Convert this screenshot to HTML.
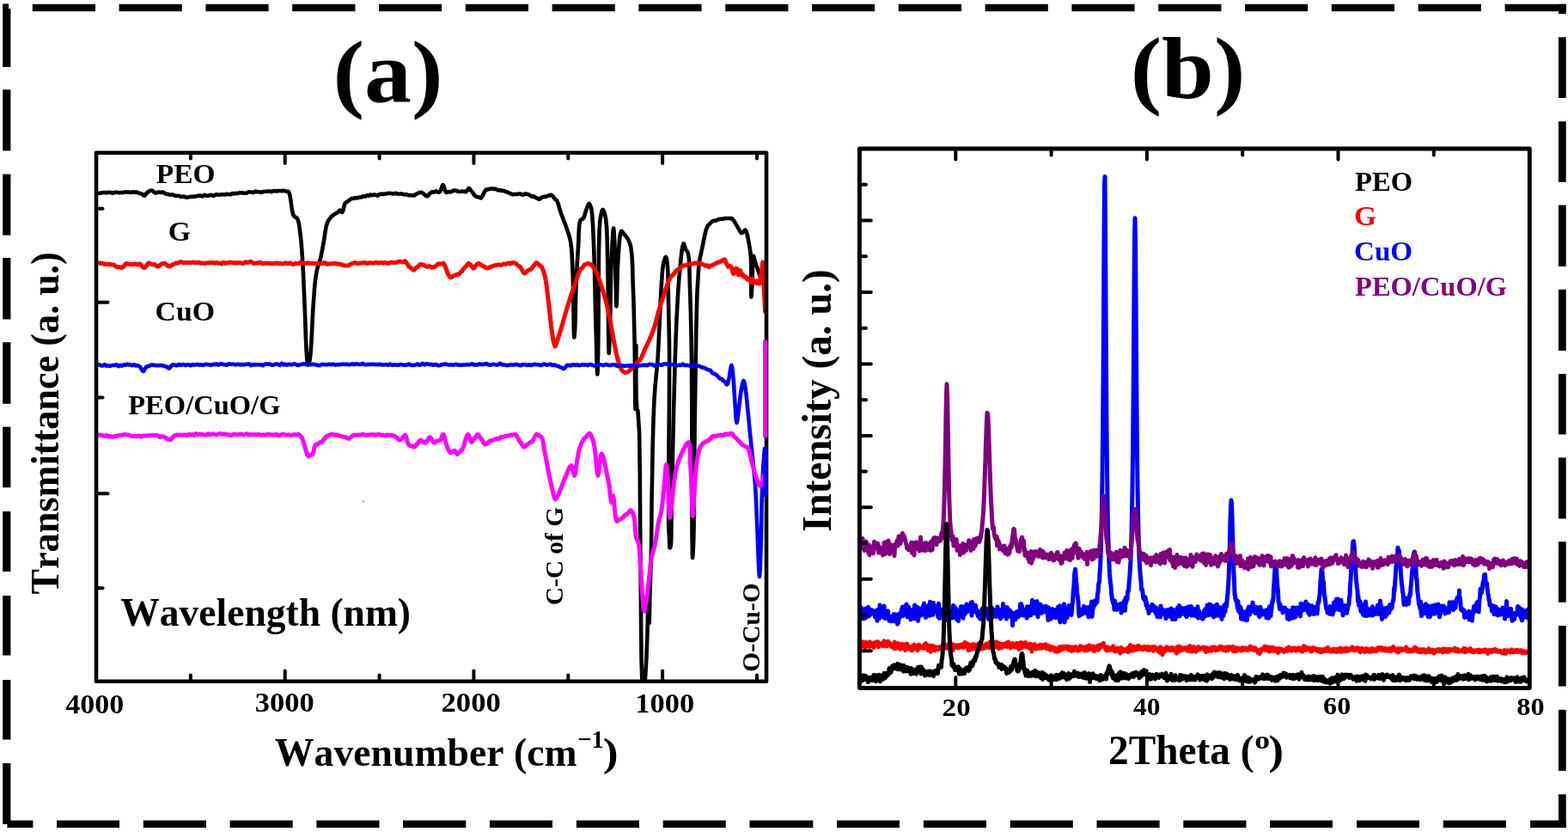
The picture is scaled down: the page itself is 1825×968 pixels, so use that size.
<!DOCTYPE html>
<html><head><meta charset="utf-8"><title>FTIR and XRD</title>
<style>html,body{margin:0;padding:0;background:#fff;width:1825px;height:968px;overflow:hidden}svg{display:block}</style>
</head><body>
<svg width="1825" height="968" viewBox="0 0 1825 968"><g fill="#000"><rect x="37.8" y="4.8" width="73.2" height="8.4"/><rect x="138.6" y="4.8" width="73.2" height="8.4"/><rect x="239.4" y="4.8" width="73.2" height="8.4"/><rect x="340.2" y="4.8" width="73.2" height="8.4"/><rect x="441.0" y="4.8" width="73.2" height="8.4"/><rect x="541.8" y="4.8" width="73.2" height="8.4"/><rect x="642.6" y="4.8" width="73.2" height="8.4"/><rect x="743.4" y="4.8" width="73.2" height="8.4"/><rect x="844.2" y="4.8" width="73.2" height="8.4"/><rect x="945.0" y="4.8" width="73.2" height="8.4"/><rect x="1045.8" y="4.8" width="73.2" height="8.4"/><rect x="1146.6" y="4.8" width="73.2" height="8.4"/><rect x="1247.4" y="4.8" width="73.2" height="8.4"/><rect x="1348.2" y="4.8" width="73.2" height="8.4"/><rect x="1449.0" y="4.8" width="73.2" height="8.4"/><rect x="1549.8" y="4.8" width="73.2" height="8.4"/><rect x="1650.6" y="4.8" width="73.2" height="8.4"/><rect x="1751.6" y="4.8" width="71.1" height="8.4"/><rect x="1814.0" y="4.8" width="8.7" height="11.4"/><rect x="1813.9" y="43.3" width="8.8" height="70.7"/><rect x="1813.9" y="141.3" width="8.8" height="70.5"/><rect x="1813.9" y="238.6" width="8.8" height="71.4"/><rect x="1813.9" y="336.8" width="8.8" height="71.2"/><rect x="1813.9" y="435.0" width="8.8" height="70.5"/><rect x="1813.9" y="532.4" width="8.8" height="71.1"/><rect x="1813.9" y="630.2" width="8.8" height="70.6"/><rect x="1813.9" y="728.0" width="8.8" height="70.5"/><rect x="1813.9" y="825.8" width="8.8" height="71.0"/><rect x="1813.9" y="924.2" width="8.8" height="38.8"/><rect x="3.2" y="4.4" width="9.2" height="73.6"/><rect x="3.2" y="104.3" width="9.2" height="71.1"/><rect x="3.2" y="202.6" width="9.2" height="71.1"/><rect x="3.2" y="300.0" width="9.2" height="71.5"/><rect x="3.2" y="398.2" width="9.2" height="71.6"/><rect x="3.2" y="496.6" width="9.2" height="70.6"/><rect x="3.2" y="595.0" width="9.2" height="70.0"/><rect x="3.2" y="693.0" width="9.2" height="69.5"/><rect x="3.2" y="791.0" width="9.2" height="69.5"/><rect x="3.2" y="888.0" width="9.2" height="70.8"/><rect x="8.4" y="954.5" width="30.0" height="8.5"/><rect x="66.0" y="954.5" width="73.0" height="8.5"/><rect x="166.8" y="954.5" width="73.2" height="8.5"/><rect x="267.6" y="954.5" width="73.1" height="8.5"/><rect x="368.4" y="954.5" width="73.1" height="8.5"/><rect x="469.0" y="954.5" width="73.3" height="8.5"/><rect x="570.0" y="954.5" width="73.0" height="8.5"/><rect x="670.9" y="954.5" width="73.1" height="8.5"/><rect x="771.7" y="954.5" width="73.1" height="8.5"/><rect x="872.5" y="954.5" width="73.8" height="8.5"/><rect x="974.0" y="954.5" width="73.0" height="8.5"/><rect x="1074.9" y="954.5" width="73.1" height="8.5"/><rect x="1175.7" y="954.5" width="73.1" height="8.5"/><rect x="1276.5" y="954.5" width="73.1" height="8.5"/><rect x="1377.3" y="954.5" width="73.1" height="8.5"/><rect x="1478.0" y="954.5" width="73.0" height="8.5"/><rect x="1579.0" y="954.5" width="73.0" height="8.5"/><rect x="1679.7" y="954.5" width="73.1" height="8.5"/><rect x="1781.0" y="954.5" width="41.6" height="8.5"/></g>
<rect x="10" y="4" width="3" height="6.2" fill="#fff"/>
<defs><clipPath id="ca"><rect x="112" y="177.7" width="780" height="615.1"/></clipPath><clipPath id="cb"><rect x="1000.4" y="173" width="779.9" height="627.5"/></clipPath></defs>
<g clip-path="url(#ca)" fill="none" stroke-linejoin="round" stroke-linecap="round">
<polyline stroke="#000" stroke-width="4.6" points="112.0,224.9 112.5,224.9 113.1,224.8 113.6,224.8 114.2,224.8 114.7,224.8 115.3,224.8 115.8,224.8 116.3,224.8 116.9,224.7 117.4,224.6 118.0,224.5 118.5,224.4 119.0,224.3 119.6,224.2 120.1,224.1 120.7,224.0 121.2,224.0 121.7,224.0 122.3,224.1 122.8,224.1 123.4,224.1 123.9,224.2 124.5,224.2 125.0,224.2 125.5,224.1 126.1,223.9 126.6,223.8 127.1,223.7 127.7,223.8 128.2,223.9 128.8,224.0 129.3,224.2 129.8,224.3 130.4,224.5 130.9,224.7 131.4,224.7 132.0,224.6 132.5,224.3 133.0,224.1 133.6,223.9 134.1,223.8 134.6,223.7 135.2,223.7 135.7,223.8 136.3,223.9 136.8,224.0 137.3,224.2 137.9,224.2 138.4,224.2 138.9,224.1 139.5,224.1 140.0,224.0 140.5,224.0 141.0,224.0 141.5,224.1 142.0,224.1 142.5,224.0 143.0,224.0 143.5,223.9 144.0,223.8 144.5,223.7 145.0,223.5 145.5,223.4 146.0,223.3 146.5,223.3 147.0,223.4 147.5,223.5 148.0,223.6 148.5,223.6 149.0,223.5 149.5,223.5 150.0,223.5 150.5,223.6 151.1,223.8 151.7,224.0 152.2,224.0 152.8,223.9 153.3,223.6 153.8,223.4 154.4,223.3 154.9,223.4 155.5,223.6 156.0,223.8 156.6,223.9 157.2,223.8 157.7,223.6 158.3,223.5 158.8,223.4 159.4,223.6 159.9,223.9 160.4,224.2 161.0,224.5 161.6,224.7 162.2,224.8 162.7,224.9 163.3,225.0 163.9,225.2 164.5,225.4 165.1,225.6 165.7,225.9 166.3,226.4 166.9,227.0 167.4,227.6 168.0,227.8 168.5,227.5 169.0,226.9 169.5,226.2 170.0,225.5 170.5,225.0 171.0,224.5 171.5,224.0 172.0,223.5 172.6,223.1 173.2,222.6 173.8,222.3 174.5,222.0 175.1,221.8 175.8,221.6 176.4,221.5 177.0,221.6 177.5,221.9 178.0,222.3 178.5,222.7 179.0,223.2 179.5,223.6 180.0,224.0 180.5,224.3 181.0,224.5 181.5,224.5 182.0,224.4 182.5,224.2 183.0,224.1 183.5,223.9 184.0,223.7 184.5,223.6 185.0,223.5 185.6,223.6 186.1,223.7 186.7,223.9 187.2,224.0 187.8,223.9 188.4,223.7 188.9,223.5 189.5,223.5 190.1,223.8 190.6,224.2 191.2,224.6 191.8,225.0 192.3,225.2 192.9,225.5 193.4,225.6 194.0,225.8 194.5,225.9 195.1,226.0 195.7,226.1 196.2,226.2 196.8,226.4 197.3,226.5 197.8,226.7 198.4,226.7 199.0,226.7 199.5,226.6 200.1,226.4 200.6,226.4 201.2,226.6 201.7,226.8 202.2,227.1 202.8,227.3 203.3,227.5 203.9,227.7 204.5,227.9 205.0,228.0 205.5,228.0 206.0,227.9 206.5,227.8 207.0,227.8 207.5,227.8 208.0,227.8 208.5,227.9 209.0,228.1 209.5,228.3 210.0,228.7 210.5,229.0 211.0,229.1 211.5,229.0 212.0,228.8 212.5,228.6 213.0,228.5 213.5,228.5 214.0,228.7 214.5,228.9 215.0,229.1 215.5,229.2 216.0,229.4 216.5,229.6 217.0,229.7 217.5,229.7 218.0,229.7 218.5,229.6 219.0,229.5 219.5,229.4 220.1,229.2 220.6,229.1 221.2,229.0 221.7,228.9 222.3,228.9 222.8,228.9 223.4,228.9 224.0,228.9 224.5,228.8 225.1,228.8 225.6,228.7 226.2,228.6 226.7,228.6 227.3,228.5 227.8,228.4 228.4,228.3 228.9,228.3 229.5,228.2 230.0,228.1 230.5,227.9 231.0,227.7 231.5,227.5 232.0,227.4 232.5,227.5 233.0,227.6 233.5,227.8 234.0,227.9 234.5,228.0 235.0,228.2 235.5,228.4 236.0,228.4 236.5,228.1 237.0,227.6 237.5,227.2 238.0,226.9 238.5,226.9 239.0,227.1 239.5,227.3 240.0,227.5 240.5,227.6 241.0,227.7 241.5,227.7 242.0,227.8 242.5,227.7 243.0,227.6 243.5,227.4 244.0,227.3 244.5,227.1 245.0,227.0 245.5,226.8 246.0,226.8 246.5,227.0 247.0,227.4 247.5,227.7 248.0,227.9 248.5,227.8 249.0,227.7 249.5,227.4 250.0,227.2 250.5,226.9 251.0,226.6 251.5,226.3 252.0,226.2 252.5,226.2 253.0,226.3 253.5,226.5 254.0,226.6 254.5,226.7 255.0,226.7 255.5,226.7 256.0,226.7 256.5,226.6 257.0,226.5 257.5,226.3 258.0,226.2 258.5,226.2 259.0,226.2 259.5,226.2 260.0,226.2 260.5,226.2 261.0,226.3 261.5,226.4 262.1,226.4 262.6,226.3 263.1,226.1 263.6,225.9 264.1,225.9 264.6,225.9 265.2,225.9 265.7,226.0 266.2,226.0 266.7,226.1 267.2,226.2 267.7,226.3 268.2,226.2 268.8,226.0 269.3,225.7 269.8,225.3 270.3,225.1 270.8,225.1 271.3,225.2 271.9,225.3 272.4,225.4 272.9,225.3 273.4,225.1 273.9,225.0 274.4,224.9 275.0,224.9 275.5,225.0 276.0,225.0 276.5,225.0 277.0,224.9 277.5,224.6 278.0,224.4 278.6,224.3 279.1,224.2 279.6,224.3 280.1,224.3 280.6,224.4 281.1,224.4 281.7,224.4 282.2,224.4 282.7,224.4 283.2,224.5 283.7,224.6 284.2,224.7 284.8,224.7 285.3,224.8 285.8,224.8 286.3,224.8 286.8,224.7 287.3,224.4 287.8,224.0 288.4,223.7 288.9,223.4 289.4,223.4 289.9,223.4 290.4,223.4 290.9,223.5 291.5,223.5 292.0,223.6 292.5,223.6 293.0,223.7 293.5,223.8 294.1,223.9 294.6,223.9 295.1,223.9 295.7,223.6 296.2,223.2 296.7,222.8 297.2,222.6 297.8,222.6 298.3,222.8 298.8,223.0 299.4,223.2 299.9,223.2 300.4,223.2 301.0,223.2 301.5,223.2 302.0,223.3 302.6,223.5 303.1,223.6 303.6,223.7 304.2,223.7 304.7,223.6 305.2,223.5 305.8,223.3 306.3,223.2 306.8,223.0 307.3,222.9 307.9,222.8 308.4,222.7 308.9,222.8 309.5,222.8 310.0,222.8 310.5,222.7 311.0,222.7 311.5,222.6 312.0,222.5 312.5,222.5 313.0,222.5 313.5,222.4 314.0,222.5 314.5,222.6 315.0,222.9 315.5,223.1 316.0,223.2 316.5,223.0 317.0,222.7 317.5,222.4 318.0,222.2 318.5,222.1 319.0,222.1 319.5,222.1 320.0,222.2 320.5,222.2 321.0,222.3 321.5,222.3 322.0,222.4 322.5,222.3 323.0,222.2 323.5,222.1 324.0,222.0 324.5,222.0 325.0,222.0 325.5,222.0 326.0,222.0 326.6,222.0 327.2,222.1 327.8,222.1 328.4,222.1 329.0,222.1 329.6,222.0 330.2,221.9 330.8,221.9 331.4,222.1 332.0,222.3 332.6,222.5 333.2,222.7 333.8,222.7 334.5,222.7 335.1,222.7 335.6,222.9 336.2,223.6 336.6,224.6 337.0,225.8 337.4,227.3 338.3,232.2 339.2,238.8 340.1,245.2 341.2,249.6 341.6,250.4 342.0,251.0 342.5,251.5 343.0,252.0 343.7,252.6 344.5,253.0 345.4,253.6 346.1,254.5 347.4,258.0 348.3,262.9 349.1,268.6 349.8,274.4 350.6,281.7 351.2,289.5 351.8,297.8 352.3,306.6 353.0,319.2 353.6,332.9 354.2,347.1 354.8,361.2 355.4,376.7 355.9,393.2 356.6,408.0 357.3,418.2 357.6,420.5 357.8,422.4 358.1,423.8 358.5,424.4 358.8,424.2 359.1,423.7 359.5,422.9 359.8,422.0 360.4,419.6 360.9,416.4 361.3,412.6 361.7,408.3 362.5,397.0 363.2,382.6 363.9,367.5 364.7,353.7 365.5,343.6 366.2,333.7 367.2,324.6 368.4,316.5 369.5,311.7 370.9,307.5 372.2,303.5 373.4,299.2 374.4,294.3 375.4,289.3 376.2,284.3 377.1,279.3 377.9,274.1 378.7,268.8 379.6,263.7 380.8,259.5 381.9,257.2 383.2,255.1 384.6,253.4 385.8,252.0 386.4,251.4 387.0,250.9 387.6,250.4 388.2,250.0 388.9,249.6 389.5,249.2 390.1,248.8 390.7,248.4 391.3,248.1 392.0,247.7 392.6,247.4 393.2,247.0 393.8,246.4 394.5,245.6 395.1,244.9 395.7,244.6 396.3,245.0 397.0,245.9 397.6,246.7 398.2,247.0 399.2,245.4 400.0,242.1 400.9,238.4 401.9,236.0 402.5,235.5 403.1,235.2 403.7,234.9 404.4,234.6 405.0,234.2 405.6,233.7 406.2,233.1 406.8,232.7 407.4,232.2 408.1,231.7 408.7,231.3 409.3,231.0 409.8,230.9 410.4,230.9 411.0,231.0 411.5,230.9 412.1,230.8 412.6,230.5 413.2,230.3 413.7,230.1 414.3,230.2 414.8,230.3 415.4,230.4 415.9,230.4 416.5,230.3 417.0,230.0 417.6,229.8 418.1,229.6 418.7,229.5 419.3,229.5 419.8,229.6 420.4,229.5 420.9,229.2 421.5,228.9 422.0,228.5 422.6,228.3 423.1,228.3 423.7,228.5 424.2,228.6 424.8,228.7 425.3,228.4 425.9,228.0 426.4,227.6 427.0,227.4 427.5,227.4 428.1,227.6 428.7,227.8 429.2,227.8 429.7,227.6 430.2,227.2 430.7,226.8 431.3,226.6 431.8,226.7 432.3,226.9 432.8,227.1 433.3,227.2 433.8,227.1 434.4,226.9 434.9,226.7 435.4,226.6 435.9,226.6 436.4,226.7 437.0,226.8 437.5,226.9 438.0,227.1 438.5,227.3 439.0,227.5 439.5,227.6 440.1,227.3 440.6,226.8 441.1,226.3 441.6,225.9 442.1,225.8 442.6,225.8 443.1,225.8 443.7,225.8 444.2,225.8 444.7,225.8 445.2,225.9 445.7,225.9 446.3,225.9 446.8,225.9 447.3,225.8 447.8,225.8 448.3,225.7 448.8,225.5 449.3,225.3 449.9,225.2 450.4,225.1 450.9,225.1 451.4,225.0 451.9,225.0 452.4,224.9 453.0,224.8 453.5,224.8 454.0,224.8 454.5,224.9 455.1,225.0 455.6,225.2 456.1,225.3 456.7,225.4 457.2,225.4 457.7,225.4 458.3,225.4 458.8,225.3 459.3,225.1 459.9,224.9 460.4,224.8 460.9,224.9 461.4,225.1 462.0,225.3 462.5,225.5 463.0,225.5 463.6,225.6 464.1,225.7 464.6,225.7 465.2,225.6 465.7,225.5 466.2,225.4 466.8,225.4 467.3,225.5 467.8,225.6 468.4,225.8 468.9,226.0 469.4,226.1 470.0,226.2 470.5,226.3 471.0,226.4 471.5,226.3 472.1,226.2 472.6,226.1 473.1,226.1 473.7,226.3 474.2,226.6 474.7,227.0 475.2,227.2 475.8,227.2 476.3,227.2 476.8,227.1 477.4,227.1 477.9,227.1 478.4,227.2 479.0,227.2 479.5,227.3 480.0,227.4 480.5,227.5 481.1,227.5 481.6,227.5 482.2,227.3 482.8,226.9 483.4,226.4 484.0,226.0 484.6,225.8 485.2,225.5 485.8,225.3 486.4,225.0 487.0,224.7 487.6,224.4 488.2,224.1 488.8,223.9 489.3,223.8 489.9,223.9 490.4,223.9 491.0,224.1 491.5,224.4 492.1,224.7 492.6,225.2 493.1,225.6 493.7,226.0 494.2,226.5 494.8,227.0 495.3,227.4 495.9,227.7 496.4,228.1 497.0,228.3 497.5,228.3 498.2,227.8 498.9,226.8 499.6,225.7 500.4,224.8 501.1,224.3 501.8,223.8 502.6,223.4 503.3,223.2 503.9,223.2 504.4,223.4 504.9,223.6 505.5,223.6 506.0,223.3 506.6,223.0 507.1,222.6 507.6,222.4 508.2,222.6 508.7,222.9 509.3,223.3 509.8,223.5 510.4,223.6 510.9,223.6 511.5,223.5 512.0,223.2 513.0,221.5 513.9,218.8 514.7,216.3 515.6,215.2 516.5,216.5 517.3,219.3 518.2,222.3 519.2,223.9 519.8,223.9 520.3,223.6 520.9,223.3 521.5,223.1 522.1,223.1 522.6,223.3 523.2,223.4 523.8,223.4 524.4,223.3 525.0,223.1 525.5,222.9 526.1,222.7 526.7,222.4 527.2,222.0 527.8,221.7 528.4,221.5 529.0,221.5 529.5,221.5 530.1,221.7 530.7,221.8 531.3,222.0 531.9,222.2 532.4,222.5 533.0,222.6 533.6,222.8 534.2,222.9 534.8,223.0 535.3,223.0 535.9,222.9 536.5,222.8 537.1,222.7 537.7,222.6 538.2,222.6 538.8,222.7 539.4,222.7 540.0,222.8 540.6,222.9 541.1,223.1 541.7,223.3 542.3,223.2 543.2,222.3 544.2,220.9 545.1,219.5 545.9,218.9 546.5,219.2 547.0,220.0 547.5,220.9 548.1,221.7 548.6,222.3 549.2,222.9 549.7,223.5 550.2,224.2 550.8,225.0 551.3,225.9 551.8,226.8 552.4,227.5 553.0,228.0 553.6,228.4 554.2,228.7 554.8,229.0 555.4,229.1 556.0,229.1 556.7,229.1 557.3,229.2 557.9,229.5 558.5,230.0 559.1,230.3 559.7,230.4 561.1,228.9 562.5,226.0 564.0,223.0 565.4,221.0 566.1,220.6 566.9,220.5 567.6,220.4 568.3,220.3 569.0,220.1 569.8,219.9 570.5,219.7 571.2,219.6 571.7,219.5 572.3,219.5 572.8,219.5 573.3,219.6 573.8,219.6 574.3,219.7 574.8,219.9 575.3,219.9 575.9,219.9 576.4,219.9 576.9,219.9 577.4,220.0 577.9,220.3 578.5,220.7 579.0,221.2 579.5,221.4 580.0,221.4 580.5,221.3 581.0,221.1 581.6,221.1 582.1,221.2 582.6,221.5 583.1,221.8 583.6,221.9 584.1,221.9 584.7,221.9 585.2,221.8 585.7,221.8 586.2,222.0 586.7,222.2 587.2,222.4 587.7,222.7 588.2,222.8 588.7,222.9 589.2,223.0 589.7,223.2 590.2,223.4 590.8,223.7 591.3,224.0 591.8,224.2 592.3,224.4 592.8,224.6 593.3,224.8 593.8,225.0 594.3,225.3 594.8,225.6 595.3,225.9 595.8,226.1 596.3,226.2 596.8,226.2 597.4,226.1 597.9,226.1 598.4,226.1 598.9,226.0 599.5,226.0 600.0,225.9 600.5,225.9 601.0,226.0 601.5,226.0 602.1,226.0 602.6,225.9 603.1,225.7 603.6,225.6 604.2,225.5 604.7,225.5 605.2,225.5 605.7,225.6 606.2,225.7 606.8,226.0 607.3,226.4 607.8,226.7 608.3,226.8 608.9,226.7 609.4,226.4 609.9,226.0 610.4,225.8 610.9,225.7 611.5,225.6 612.0,225.6 612.5,225.6 613.0,225.7 613.6,225.8 614.1,225.9 614.6,226.1 615.1,226.3 615.7,226.6 616.2,226.9 616.8,227.2 617.3,227.6 617.8,228.0 618.4,228.4 618.9,228.7 619.5,228.7 620.0,228.5 620.6,228.3 621.1,228.3 621.7,228.6 622.2,229.0 622.7,229.5 623.3,229.9 623.8,230.1 624.3,230.3 624.9,230.4 625.4,230.6 626.0,231.0 626.5,231.4 627.0,231.8 627.6,231.9 628.3,231.6 629.0,230.9 629.7,230.2 630.5,229.7 631.2,229.4 632.0,229.2 632.7,229.1 633.4,229.0 633.9,228.9 634.4,228.9 634.9,228.9 635.4,228.8 635.9,228.6 636.4,228.4 636.9,228.1 637.4,227.9 637.9,227.7 638.4,227.6 638.9,227.5 639.4,227.4 639.9,227.2 640.4,227.0 640.9,226.8 641.4,226.8 642.0,227.1 642.6,227.5 643.1,228.1 643.7,228.7 644.2,229.4 644.8,230.1 645.4,230.9 645.9,231.5 646.5,232.0 647.1,232.4 647.6,232.9 648.2,233.6 649.3,236.1 650.4,239.5 651.5,243.5 652.7,247.3 654.3,251.7 656.1,256.3 657.9,261.0 659.5,265.5 660.8,269.4 662.1,273.2 663.2,277.1 664.1,281.4 665.0,288.0 665.6,295.1 666.0,302.9 666.4,311.0 666.8,322.6 667.1,335.4 667.3,348.2 667.5,360.0 667.7,370.1 667.8,380.7 668.0,389.1 668.3,392.5 668.5,391.3 668.8,388.3 669.1,384.3 669.3,380.0 669.6,370.5 669.9,358.7 670.1,346.0 670.5,333.6 671.1,320.9 671.7,307.8 672.5,295.1 673.2,283.6 673.5,275.5 673.8,267.6 674.3,260.9 675.5,256.4 676.3,255.5 677.2,255.1 678.1,254.7 678.9,254.0 679.8,252.2 680.6,249.9 681.2,247.4 682.0,245.0 682.9,242.6 683.9,240.0 684.8,237.9 685.7,237.0 686.3,237.5 686.9,238.7 687.5,240.3 688.0,242.0 688.5,244.4 688.9,247.2 689.2,250.4 689.5,254.0 690.1,262.2 690.5,272.0 691.0,283.1 691.4,295.0 692.0,314.5 692.5,336.7 693.0,359.3 693.5,380.0 694.0,397.3 694.4,415.4 694.9,429.7 695.3,435.5 695.6,432.2 695.8,423.6 696.1,412.1 696.3,400.0 696.6,369.3 696.7,329.9 697.0,291.8 697.7,265.5 698.1,260.4 698.4,256.3 698.9,253.0 699.5,250.0 700.0,248.0 700.5,246.0 701.0,244.5 701.6,243.9 702.4,244.8 703.3,247.1 704.2,250.4 705.0,254.0 706.1,264.6 706.7,278.6 707.0,294.5 707.3,311.0 707.8,338.7 708.0,371.7 708.3,399.4 708.7,411.0 709.0,407.9 709.3,400.1 709.7,390.1 710.0,380.0 710.3,364.3 710.6,346.3 710.9,327.9 711.4,311.0 712.0,296.8 712.7,282.0 713.4,270.3 714.1,265.5 714.6,269.1 715.1,277.9 715.6,289.2 716.0,300.0 716.4,315.8 716.8,334.4 717.1,349.9 717.5,356.4 717.9,349.8 718.3,334.2 718.7,315.6 719.5,300.0 720.2,290.2 720.9,280.2 721.9,272.4 723.2,268.9 723.7,269.1 724.3,269.7 724.9,270.5 725.5,271.3 726.0,272.0 726.6,272.7 727.2,273.4 727.7,274.1 728.3,274.7 728.9,275.3 729.4,276.0 730.0,276.8 731.1,278.7 732.2,281.0 733.3,283.9 734.2,287.2 735.4,296.2 736.1,307.8 736.4,320.7 736.8,333.6 737.4,348.7 737.8,364.4 738.2,380.7 738.6,397.3 738.9,420.1 739.1,446.0 739.3,467.2 739.5,476.0 739.7,464.4 739.9,439.0 740.2,413.6 740.4,402.0 740.4,412.8 740.3,437.0 740.5,462.3 741.4,476.5 741.6,477.0 741.9,477.2 742.2,477.5 742.4,478.0 744.1,502.9 744.8,551.9 745.1,609.5 745.5,660.0 745.9,697.8 746.2,736.3 746.6,769.4 747.3,790.9 747.5,794.2 747.7,797.0 748.0,798.9 748.5,800.0 748.7,800.1 749.0,800.2 749.3,800.1 749.5,800.0 750.0,798.8 750.4,796.5 750.6,793.4 750.9,790.0 751.6,779.3 752.4,765.0 753.0,749.7 753.5,736.0 753.8,724.8 754.0,713.0 754.3,703.8 754.5,700.0 754.7,703.9 755.0,712.5 755.3,721.1 755.5,725.0 755.8,721.3 756.0,712.3 756.2,700.9 756.5,690.0 756.9,677.5 757.3,664.0 757.7,650.2 758.0,636.5 758.2,622.9 758.3,609.6 758.4,595.6 758.6,580.0 759.1,553.0 759.6,522.1 760.4,491.4 761.5,465.0 762.4,451.3 763.5,439.3 764.7,427.7 765.7,414.7 766.8,394.4 767.8,371.8 768.8,350.0 769.8,332.0 770.4,323.7 770.9,316.3 771.6,310.0 772.5,305.0 773.1,302.9 773.8,300.9 774.4,299.5 775.0,299.0 775.6,300.1 776.2,302.7 776.6,306.2 777.0,310.0 777.5,318.5 777.7,329.1 777.8,340.7 778.0,352.6 778.3,366.4 778.6,380.5 778.9,396.2 779.1,414.7 778.9,471.0 778.2,545.0 778.1,609.5 779.5,637.5 779.7,637.4 780.0,637.1 780.3,636.6 780.5,636.0 781.1,630.9 781.3,622.4 781.4,611.7 781.5,600.0 782.1,572.7 782.8,538.8 783.5,503.0 784.3,470.0 785.0,444.3 785.7,419.4 786.5,395.6 787.4,373.3 788.3,356.3 789.2,339.9 790.3,324.7 791.5,311.3 792.4,302.3 793.4,293.2 794.5,286.3 795.6,283.4 796.2,284.1 796.7,285.9 797.3,288.1 798.0,290.0 798.7,291.1 799.4,292.1 800.2,293.2 800.8,294.8 801.9,301.2 802.4,310.2 802.6,320.8 802.9,332.0 803.5,350.4 804.1,371.1 804.6,394.2 805.0,420.0 805.3,480.4 805.4,556.4 805.5,621.4 806.0,649.0 806.3,647.2 806.6,642.6 806.9,636.5 807.2,630.0 807.5,615.8 807.7,598.3 807.8,579.2 808.0,560.0 808.2,538.9 808.4,517.3 808.6,494.6 809.0,470.0 809.6,429.9 810.3,384.0 811.4,341.3 813.2,311.0 814.0,304.4 814.9,299.4 815.9,294.9 817.0,290.0 818.4,283.0 819.9,275.4 821.5,268.6 823.1,263.9 823.7,262.9 824.2,262.3 824.8,261.7 825.4,261.1 826.0,260.5 826.5,259.9 827.1,259.3 827.7,258.8 828.3,258.2 828.8,257.8 829.4,257.3 830.0,257.0 830.7,256.9 831.4,256.9 832.2,256.9 832.9,256.8 833.6,256.5 834.4,256.1 835.1,255.7 835.8,255.4 836.4,255.2 837.0,255.0 837.5,254.9 838.1,254.8 838.7,254.8 839.2,254.8 839.8,254.9 840.4,254.8 841.0,254.7 841.6,254.6 842.1,254.5 842.7,254.3 843.3,254.2 843.8,254.1 844.4,254.1 845.0,254.0 845.6,254.0 846.2,254.0 846.8,254.0 847.4,254.0 848.0,254.0 848.7,254.0 849.3,254.0 849.9,254.1 850.5,254.1 851.1,254.1 851.7,254.2 852.3,254.5 853.8,256.2 855.5,258.9 857.2,261.9 858.8,264.6 859.9,266.6 861.0,268.7 862.1,270.3 863.1,271.1 863.7,271.0 864.2,270.6 864.8,270.1 865.3,269.6 865.9,269.0 866.4,268.2 867.0,267.7 867.5,267.5 868.7,269.4 869.9,273.6 870.9,278.7 871.8,283.4 872.5,287.5 873.1,291.5 873.6,295.8 874.0,300.7 874.3,312.5 874.3,327.4 874.3,340.1 874.4,345.5 874.6,343.9 874.9,340.0 875.2,335.0 875.5,330.0 875.8,321.3 876.0,310.7 876.3,301.7 876.9,297.8 877.3,298.5 877.8,300.4 878.4,302.8 879.0,305.0 879.8,307.4 880.7,310.0 881.7,312.6 882.6,315.2 883.4,317.7 884.3,320.3 885.1,322.8 886.0,325.0 886.7,326.4 887.5,327.6 888.2,328.8 889.0,330.0"/>
<polyline stroke="#ff0000" stroke-width="5" points="112.0,305.9 113.0,305.9 114.0,305.9 115.0,306.0 116.0,306.1 117.0,306.2 118.0,306.4 119.0,306.4 120.0,306.5 121.0,306.9 122.0,307.4 123.0,307.5 124.0,307.4 125.0,307.5 126.0,307.6 127.0,307.5 128.0,307.4 129.0,307.7 130.0,308.0 131.2,308.0 132.3,308.0 133.5,308.9 134.6,309.9 135.8,310.4 137.0,310.6 138.1,310.7 139.3,310.8 140.4,311.3 141.6,311.6 143.0,310.7 144.3,309.3 145.7,307.7 147.0,306.5 148.0,306.7 149.0,307.1 150.0,307.3 151.0,307.4 152.0,307.6 153.0,307.7 154.0,307.6 155.0,307.5 156.2,307.2 157.3,307.1 158.5,307.5 159.7,307.9 160.8,307.4 162.0,307.0 163.0,307.3 164.0,307.9 165.0,309.2 166.0,310.5 167.0,311.3 168.0,311.6 169.3,310.6 170.5,309.0 171.7,307.3 173.0,306.0 174.1,306.3 175.3,306.9 176.5,307.5 177.7,307.9 178.9,307.7 180.0,307.5 181.1,308.4 182.2,309.5 183.2,309.9 184.3,310.0 185.7,309.0 187.2,307.7 188.6,306.9 190.0,306.5 191.3,306.5 192.5,306.8 193.8,308.0 195.0,309.2 196.2,309.8 197.5,310.0 198.8,309.2 200.0,308.2 201.2,307.7 202.5,307.3 203.8,306.6 205.0,306.0 206.0,306.2 207.0,306.3 208.0,305.7 209.0,305.0 210.0,304.7 211.0,304.7 212.0,305.3 213.0,305.8 214.0,305.8 215.0,305.6 216.0,305.6 217.1,305.7 218.1,305.6 219.2,305.6 220.2,305.7 221.2,305.8 222.3,305.6 223.3,305.4 224.4,305.2 225.4,305.1 226.5,305.5 227.5,305.8 228.5,305.7 229.6,305.5 230.6,305.2 231.7,305.2 232.7,305.7 233.8,306.3 234.8,306.2 235.8,306.1 236.9,306.2 237.9,306.4 239.0,306.3 240.0,306.2 241.0,305.9 242.0,305.7 243.0,305.7 244.0,305.8 245.0,305.7 246.0,305.6 247.0,305.6 248.0,305.7 249.0,305.9 250.0,306.2 251.0,305.9 252.0,305.6 253.0,305.9 254.0,306.2 255.0,306.2 256.0,306.2 257.0,306.7 258.0,307.0 259.0,306.1 260.0,305.2 261.0,305.7 262.0,306.4 263.0,306.2 264.0,305.8 265.0,305.9 266.0,305.8 267.0,305.4 268.0,305.1 269.0,305.4 270.0,305.8 271.0,305.7 272.0,305.6 273.0,305.9 274.0,306.2 275.0,306.0 276.0,305.8 277.0,305.8 278.0,305.9 279.0,305.8 280.0,305.7 281.0,306.1 282.0,306.5 283.0,306.3 284.0,305.9 285.0,305.3 286.0,304.8 287.0,305.2 288.0,305.6 289.0,305.3 290.0,304.9 291.0,304.5 292.0,304.3 293.0,304.9 294.0,305.7 295.0,306.3 296.0,306.6 297.0,306.4 298.0,306.0 299.0,306.0 300.0,306.0 301.0,305.7 302.0,305.5 303.0,305.4 304.0,305.6 305.0,306.2 306.0,306.7 307.0,306.5 308.0,306.2 309.0,306.2 310.0,306.2 311.0,306.2 312.0,306.2 313.0,306.2 314.0,306.3 315.0,306.5 316.0,306.7 317.0,306.7 318.0,306.6 319.0,306.6 320.0,306.5 321.0,306.2 322.0,305.9 323.0,306.3 324.0,306.7 325.0,306.5 326.0,306.2 327.0,306.6 328.0,307.1 329.0,306.9 330.0,306.6 331.0,306.2 332.0,305.9 333.0,306.2 334.0,306.5 335.0,306.6 336.0,306.5 337.0,306.1 338.0,305.9 339.0,306.6 340.0,307.4 341.0,307.4 342.0,307.2 343.0,306.7 344.0,306.2 345.0,306.5 346.0,306.8 347.0,306.8 348.0,306.6 349.0,305.8 350.0,305.1 351.0,305.7 352.0,306.5 353.0,306.5 354.0,306.3 355.0,306.4 356.0,306.4 357.0,306.1 358.0,305.8 359.0,306.0 360.0,306.3 361.0,306.3 362.0,306.2 363.0,306.2 364.0,306.2 365.0,306.6 366.0,306.9 367.0,306.8 368.0,306.5 369.0,306.4 370.0,306.4 371.0,306.8 372.0,307.1 373.0,306.7 374.0,306.1 375.0,306.1 376.0,306.2 377.0,305.8 378.0,305.5 379.0,306.3 380.0,307.2 381.0,307.2 382.0,306.9 383.0,306.9 384.0,306.9 385.0,306.9 386.0,306.8 387.0,306.7 388.0,306.5 389.0,306.5 390.0,306.5 391.0,306.7 392.1,307.0 393.1,307.0 394.1,307.1 395.1,307.3 396.2,307.5 397.2,307.7 398.2,308.0 399.3,308.5 400.3,309.0 401.3,309.0 402.3,308.9 403.4,309.0 404.4,309.0 405.7,308.6 406.9,308.0 408.2,307.3 409.5,306.7 410.7,306.3 412.0,306.0 413.0,305.7 414.0,305.7 415.0,306.3 416.0,306.8 417.0,306.6 418.0,306.3 419.0,306.1 420.0,306.0 421.0,305.9 422.0,305.8 423.0,305.6 424.0,305.4 425.0,305.7 426.0,306.0 427.0,306.3 428.0,306.4 429.0,306.1 430.0,305.8 431.0,305.8 432.0,305.9 433.0,305.9 434.0,305.9 435.0,306.0 436.0,306.1 437.0,305.6 438.0,305.2 439.0,305.6 440.0,306.0 441.0,306.0 442.0,305.8 443.0,305.6 444.0,305.5 445.0,305.9 446.0,306.3 447.0,305.9 448.0,305.4 449.0,305.6 450.0,306.0 451.0,306.3 452.0,306.5 453.0,306.0 454.0,305.5 455.0,305.3 456.0,305.3 457.0,305.5 458.0,305.6 459.0,305.6 460.0,305.5 461.1,305.4 462.3,305.1 463.4,304.6 464.5,304.2 465.6,304.3 466.8,304.6 467.9,304.9 469.0,305.0 470.2,304.2 471.3,303.6 472.5,304.8 473.6,306.7 474.8,308.4 476.0,310.0 477.4,311.1 478.8,312.0 480.2,313.5 481.6,314.3 482.8,313.2 484.0,311.6 485.2,310.9 486.4,310.1 487.6,308.9 488.8,307.8 489.8,307.6 490.9,307.7 491.9,308.0 492.9,308.4 494.0,308.9 495.0,309.5 496.2,310.1 497.4,310.4 498.6,310.0 499.9,309.6 501.1,310.3 502.3,310.9 503.5,311.0 504.7,310.7 506.0,310.3 507.4,309.6 508.7,308.2 510.0,307.0 511.0,306.9 512.1,306.9 513.2,306.9 514.2,306.9 515.3,306.5 516.3,306.4 518.2,309.9 520.0,315.0 521.7,319.2 523.5,322.3 524.5,322.7 525.5,322.7 526.5,322.0 527.5,321.0 528.5,320.6 529.6,320.3 530.6,319.7 531.6,319.3 532.6,319.4 533.6,319.4 534.7,318.3 535.7,317.0 536.8,316.1 537.9,315.2 538.9,313.6 540.0,312.0 541.3,310.8 542.6,309.7 543.9,307.7 545.2,306.4 546.6,307.2 548.1,308.8 549.6,310.8 551.0,312.1 552.4,310.8 553.9,308.8 555.4,307.3 556.8,306.4 557.8,306.7 558.8,307.3 559.8,308.1 560.8,308.8 561.8,309.3 562.9,309.7 563.9,310.4 564.9,311.1 565.9,311.7 566.9,312.1 567.9,311.9 568.9,311.5 569.9,310.9 571.0,310.4 572.0,310.1 573.0,309.8 574.0,309.4 575.0,309.0 576.1,308.8 577.1,308.7 578.2,308.4 579.3,308.2 580.3,308.1 581.4,308.1 582.5,308.3 583.6,308.4 584.6,307.8 585.7,307.1 586.7,307.2 587.8,307.3 588.8,307.2 589.8,306.9 590.9,306.4 591.9,306.0 593.0,306.4 594.0,306.9 595.0,306.3 596.1,305.6 597.1,305.6 598.1,305.8 599.2,306.0 600.2,306.4 601.4,307.5 602.6,308.6 603.8,309.3 605.0,310.0 606.4,312.0 607.6,314.3 608.9,316.5 610.3,317.9 611.5,317.4 612.7,316.4 613.9,315.2 615.1,314.2 616.3,313.9 617.5,313.6 618.7,312.3 619.9,310.7 621.1,309.3 622.3,307.9 623.5,306.4 624.7,305.6 626.1,306.7 627.6,308.5 629.1,309.4 630.5,310.7 632.7,315.7 634.5,322.3 635.9,330.6 637.0,340.0 638.6,353.7 640.2,367.7 641.5,379.4 643.0,390.0 644.3,398.3 645.9,403.0 647.4,400.1 649.0,395.0 650.8,389.6 652.7,383.6 655.3,374.6 658.0,365.0 661.0,354.9 664.1,345.0 667.0,336.3 670.0,328.0 672.8,319.5 675.5,313.2 676.7,312.4 677.8,311.7 678.9,309.8 680.0,308.0 681.1,307.6 682.2,307.3 683.4,306.8 684.5,306.4 685.6,306.7 686.8,307.3 687.9,308.1 689.0,309.0 690.2,310.2 691.3,311.7 692.4,313.4 693.6,315.5 696.2,322.0 699.0,330.0 702.1,339.5 705.0,349.5 707.6,360.6 710.0,372.0 712.1,383.7 714.1,395.0 715.8,403.8 717.5,412.0 719.1,418.6 720.9,424.5 722.3,428.1 724.0,431.0 725.8,432.7 727.7,433.6 728.8,433.3 729.9,432.8 730.9,432.5 732.0,432.0 733.2,430.8 734.3,429.4 735.5,427.9 736.7,426.4 737.8,425.4 739.0,424.5 740.0,423.6 741.0,422.7 742.0,421.4 743.0,420.1 744.0,419.6 745.0,418.8 747.7,413.4 750.5,406.4 753.5,400.3 756.4,394.0 759.2,387.1 761.8,380.0 763.8,372.7 765.7,365.0 769.0,354.3 772.3,344.3 773.7,340.0 775.0,336.0 777.4,329.0 780.0,323.0 781.2,321.8 782.4,320.8 783.6,319.4 784.8,318.0 786.0,316.3 787.2,314.7 788.5,314.0 789.8,313.3 791.1,312.0 792.4,310.7 793.7,309.7 795.0,309.0 796.1,308.9 797.3,308.8 798.4,308.5 799.5,308.1 800.7,307.8 801.8,307.5 803.0,307.4 804.1,307.3 805.2,307.1 806.2,306.9 807.3,306.6 808.3,306.2 809.4,306.0 810.5,305.9 811.5,306.4 812.6,306.8 813.6,306.5 814.7,306.2 815.8,306.5 816.8,307.0 817.9,307.5 818.9,308.0 820.0,308.8 821.1,309.3 822.1,309.0 823.2,308.8 824.2,309.7 825.3,310.5 826.4,309.9 827.5,308.9 828.6,308.6 829.8,308.3 830.9,307.6 832.0,307.0 833.0,306.6 834.0,306.2 835.1,305.5 836.1,304.9 837.1,304.8 838.1,304.7 839.1,304.0 840.2,303.3 841.2,302.7 842.2,302.3 842.9,302.0 843.5,301.9 844.2,303.3 844.8,305.3 845.4,306.5 846.1,307.7 846.7,309.2 847.4,310.2 848.0,309.8 848.7,309.2 849.4,309.3 850.0,309.5 850.7,310.0 851.3,310.8 852.0,313.4 852.6,316.1 853.2,317.7 853.9,318.5 854.6,317.4 855.2,315.5 855.8,313.4 856.5,312.1 857.2,312.2 857.8,312.8 858.5,316.5 859.1,319.6 859.7,318.9 860.4,317.5 861.1,315.8 861.7,314.7 862.3,317.3 863.0,320.0 863.6,319.6 864.3,319.1 864.9,320.3 865.6,321.8 866.2,322.2 866.9,322.3 867.6,322.1 868.2,322.0 868.9,323.6 869.5,325.1 870.1,324.8 870.8,324.3 871.5,324.0 872.1,324.0 872.8,325.3 873.4,327.2 874.1,328.4 874.7,329.0 875.4,326.6 876.0,324.2 876.6,326.2 877.3,328.3 877.9,327.8 878.6,327.3 879.3,328.3 879.9,329.2 880.6,328.0 881.2,326.8 881.8,328.2 882.5,329.9 883.2,330.0 883.8,329.9 883.9,330.0 884.0,330.0 885.2,324.1 886.5,315.0 887.2,308.6 887.7,305.0 888.3,314.2 888.8,330.0 889.7,346.2 890.6,362.9"/>
<polyline stroke="#0000ff" stroke-width="4.6" points="112.0,424.9 112.5,424.7 113.0,424.6 113.5,424.4 114.0,424.3 114.5,424.3 115.0,424.3 115.5,424.4 116.0,424.5 116.5,424.7 117.0,425.0 117.5,425.2 118.0,425.4 118.5,425.5 119.0,425.5 119.5,425.4 120.0,425.3 120.5,425.0 121.0,424.6 121.5,424.2 122.0,424.1 122.5,424.4 123.0,424.9 123.5,425.4 124.0,425.8 124.5,425.8 125.0,425.7 125.5,425.5 126.0,425.4 126.5,425.5 127.0,425.7 127.5,425.8 128.0,425.8 128.5,425.7 129.0,425.6 129.5,425.4 130.0,425.2 130.5,425.1 131.0,425.0 131.5,425.0 132.0,424.9 132.5,424.9 133.0,424.9 133.5,424.9 134.0,424.9 134.5,424.8 135.0,424.6 135.5,424.4 136.0,424.4 136.5,424.8 137.0,425.4 137.5,425.9 138.0,426.2 138.5,426.0 139.0,425.5 139.5,425.0 140.0,424.8 140.5,424.9 141.0,425.2 141.5,425.5 142.0,425.6 142.5,425.4 143.0,425.0 143.5,424.6 144.0,424.4 144.5,424.4 145.0,424.5 145.5,424.7 146.0,424.7 146.5,424.5 147.0,424.2 147.5,423.9 148.0,423.7 148.5,423.8 149.0,424.1 149.5,424.3 150.0,424.5 150.5,424.5 151.0,424.5 151.5,424.4 152.0,424.4 152.5,424.6 153.0,424.9 153.5,425.1 154.0,425.2 154.5,425.0 155.0,424.7 155.5,424.3 156.0,424.2 156.5,424.4 157.0,424.8 157.5,425.2 158.0,425.4 158.5,425.4 159.0,425.2 159.5,425.0 160.0,425.0 160.7,425.3 161.5,425.7 162.2,426.3 163.0,427.0 164.0,428.3 165.0,430.0 166.0,431.4 166.9,432.0 167.7,431.3 168.4,429.8 169.2,428.2 170.0,427.0 170.6,426.7 171.2,426.5 171.9,426.4 172.5,426.2 173.1,425.9 173.8,425.6 174.4,425.3 175.0,425.0 175.5,424.8 176.1,424.7 176.6,424.6 177.1,424.5 177.7,424.6 178.2,424.7 178.7,424.8 179.3,424.9 179.8,424.9 180.4,424.9 180.9,425.0 181.4,425.0 182.0,425.1 182.5,425.1 183.0,425.2 183.6,425.3 184.1,425.2 184.6,425.2 185.2,425.1 185.7,425.1 186.3,425.1 186.8,425.0 187.3,425.0 187.9,425.0 188.4,425.1 188.9,425.2 189.5,425.3 190.0,425.5 190.6,425.7 191.1,425.9 191.7,426.1 192.3,426.3 192.8,426.5 193.4,426.6 194.0,426.8 194.5,427.0 195.1,427.4 195.7,427.9 196.2,428.4 196.8,428.5 197.6,428.0 198.4,427.0 199.2,425.8 200.0,425.0 200.5,424.7 201.0,424.5 201.5,424.4 202.0,424.3 202.5,424.4 203.0,424.5 203.5,424.7 204.0,424.9 204.5,425.0 205.0,425.2 205.5,425.3 206.0,425.3 206.5,425.1 207.0,424.6 207.5,424.2 208.0,424.0 208.5,424.1 209.0,424.3 209.5,424.6 210.0,424.8 210.5,424.7 211.0,424.6 211.5,424.5 212.0,424.4 212.5,424.3 213.0,424.2 213.5,424.1 214.0,424.2 214.5,424.3 215.0,424.6 215.5,424.9 216.0,425.0 216.5,424.9 217.0,424.7 217.5,424.4 218.0,424.3 218.5,424.3 219.0,424.3 219.5,424.4 220.0,424.5 220.5,424.7 221.0,424.9 221.5,425.2 222.0,425.2 222.5,425.0 223.0,424.7 223.5,424.3 224.0,424.1 224.5,424.1 225.0,424.3 225.5,424.5 226.0,424.6 226.5,424.6 227.0,424.5 227.5,424.4 228.0,424.3 228.5,424.2 229.0,424.1 229.5,424.1 230.0,424.0 230.5,424.2 231.0,424.4 231.5,424.6 232.0,424.7 232.5,424.7 233.0,424.5 233.5,424.4 234.0,424.3 234.5,424.4 235.0,424.5 235.5,424.6 236.0,424.7 236.5,424.7 237.0,424.6 237.5,424.5 238.0,424.3 238.5,424.2 239.0,424.0 239.5,423.9 240.0,423.8 240.5,423.9 241.0,424.0 241.5,424.2 242.0,424.3 242.5,424.3 243.0,424.3 243.5,424.3 244.0,424.3 244.5,424.5 245.0,424.6 245.5,424.8 246.0,424.8 246.5,424.6 247.0,424.3 247.5,424.0 248.0,423.8 248.5,423.9 249.0,424.0 249.5,424.2 250.0,424.3 250.5,424.1 251.0,423.8 251.5,423.5 252.0,423.4 252.5,423.6 253.0,424.0 253.5,424.4 254.0,424.6 254.5,424.5 255.0,424.2 255.5,423.9 256.0,423.7 256.5,423.5 257.0,423.4 257.5,423.3 258.0,423.3 258.5,423.5 259.0,423.7 259.5,424.0 260.0,424.2 260.5,424.2 261.0,424.2 261.5,424.2 262.0,424.2 262.5,424.3 263.0,424.5 263.5,424.7 264.0,424.8 264.5,424.5 265.0,424.1 265.5,423.7 266.0,423.5 266.5,423.4 267.0,423.5 267.5,423.6 268.0,423.7 268.5,423.7 269.0,423.8 269.5,423.8 270.0,423.9 270.5,423.8 271.0,423.7 271.5,423.7 272.0,423.7 272.5,423.8 273.0,424.1 273.5,424.3 274.0,424.4 274.5,424.4 275.0,424.2 275.5,424.0 276.0,423.8 276.5,423.8 277.0,423.8 277.5,423.8 278.0,423.9 278.5,424.0 279.0,424.3 279.5,424.5 280.0,424.5 280.5,424.4 281.0,424.2 281.5,424.0 282.0,423.9 282.5,424.0 283.0,424.2 283.5,424.4 284.0,424.5 284.5,424.4 285.0,424.2 285.5,423.9 286.0,423.8 286.5,423.7 287.0,423.7 287.5,423.7 288.0,423.7 288.5,423.6 289.0,423.4 289.5,423.3 290.0,423.4 290.5,423.7 291.0,424.3 291.5,424.9 292.0,425.2 292.5,425.1 293.0,424.7 293.5,424.4 294.0,424.1 294.5,424.1 295.0,424.2 295.5,424.3 296.0,424.4 296.5,424.4 297.0,424.4 297.5,424.3 298.0,424.3 298.5,424.3 299.0,424.3 299.5,424.3 300.0,424.3 300.5,424.3 301.0,424.3 301.5,424.4 302.0,424.4 302.5,424.3 303.0,424.3 303.5,424.3 304.0,424.3 304.5,424.5 305.0,424.9 305.5,425.1 306.0,425.2 306.5,425.0 307.0,424.6 307.5,424.1 308.0,423.8 308.5,423.6 309.0,423.5 309.5,423.5 310.0,423.5 310.5,423.5 311.0,423.6 311.5,423.7 312.0,423.8 312.5,423.7 313.0,423.6 313.5,423.6 314.0,423.6 314.5,423.8 315.0,424.1 315.5,424.4 316.0,424.6 316.5,424.7 317.0,424.8 317.5,424.7 318.0,424.7 318.5,424.5 319.0,424.2 319.5,424.0 320.0,423.8 320.5,423.7 321.0,423.6 321.5,423.5 322.0,423.5 322.5,423.6 323.0,423.7 323.5,423.9 324.0,424.1 324.5,424.3 325.0,424.6 325.5,424.9 326.0,424.9 326.5,424.5 327.0,423.8 327.5,423.1 328.0,422.8 328.5,423.0 329.0,423.6 329.5,424.2 330.0,424.5 330.5,424.4 331.0,424.1 331.5,423.8 332.0,423.7 332.5,423.9 333.0,424.2 333.5,424.6 334.0,424.7 334.5,424.6 335.0,424.2 335.5,423.9 336.0,423.7 336.5,423.7 337.0,423.8 337.5,424.0 338.0,424.1 338.5,424.1 339.0,424.2 339.5,424.2 340.0,424.2 340.5,424.1 341.0,423.8 341.5,423.6 342.0,423.5 342.5,423.4 343.0,423.5 343.5,423.6 344.0,423.7 344.5,424.0 345.0,424.4 345.5,424.7 346.0,424.9 346.5,424.9 347.0,424.9 347.5,424.8 348.0,424.6 348.5,424.5 349.0,424.3 349.5,424.2 350.0,424.0 350.5,423.9 351.0,423.9 351.5,423.9 352.0,423.8 352.5,423.7 353.0,423.5 353.5,423.3 354.0,423.3 354.5,423.4 355.0,423.6 355.5,423.9 356.0,424.0 356.5,424.1 357.0,424.2 357.5,424.2 358.0,424.2 358.5,424.2 359.0,424.2 359.5,424.2 360.0,424.2 360.5,424.2 361.0,424.2 361.5,424.2 362.0,424.2 362.5,424.1 363.0,423.9 363.5,423.8 364.0,423.7 364.5,423.8 365.0,423.9 365.5,424.1 366.0,424.2 366.5,424.3 367.0,424.2 367.5,424.2 368.0,424.3 368.5,424.4 369.0,424.6 369.5,424.8 370.0,424.9 370.5,425.0 371.0,425.2 371.5,425.2 372.0,425.2 372.5,425.0 373.0,424.8 373.5,424.4 374.0,424.2 374.5,424.1 375.0,424.0 375.5,423.9 376.0,423.9 376.5,424.0 377.0,424.1 377.5,424.2 378.0,424.3 378.5,424.3 379.0,424.3 379.5,424.3 380.0,424.3 380.5,424.2 381.0,424.1 381.5,424.1 382.0,424.0 382.5,423.9 383.0,423.9 383.5,423.9 384.0,423.9 384.5,424.0 385.0,424.1 385.5,424.2 386.0,424.2 386.5,424.1 387.0,423.9 387.5,423.8 388.0,423.7 388.5,423.9 389.0,424.1 389.5,424.4 390.0,424.5 390.5,424.5 391.0,424.4 391.5,424.2 392.0,424.2 392.5,424.2 393.0,424.2 393.5,424.3 394.0,424.3 394.5,424.3 395.0,424.2 395.5,424.2 396.0,424.1 396.5,424.0 397.0,423.9 397.5,423.9 398.0,423.8 398.5,423.7 399.0,423.7 399.5,423.7 400.0,423.7 400.5,423.7 401.0,423.8 401.5,424.0 402.0,424.0 402.5,424.0 403.0,423.9 403.5,423.9 404.0,423.8 404.5,423.9 405.0,424.0 405.5,424.2 406.0,424.2 406.5,424.2 407.0,424.2 407.5,424.2 408.0,424.1 408.5,423.9 409.0,423.7 409.5,423.5 410.0,423.4 410.5,423.5 411.0,423.7 411.5,424.0 412.0,424.1 412.5,424.0 413.0,423.8 413.5,423.5 414.0,423.4 414.5,423.4 415.0,423.5 415.5,423.6 416.0,423.7 416.5,423.8 417.0,423.8 417.5,423.8 418.0,423.9 418.5,423.9 419.0,424.0 419.5,424.0 420.0,424.0 420.5,423.8 421.0,423.4 421.5,423.1 422.0,423.0 422.5,423.1 423.0,423.5 423.5,423.8 424.0,424.1 424.5,424.2 425.0,424.2 425.5,424.2 426.0,424.2 426.5,424.1 427.0,424.1 427.5,424.1 428.0,424.0 428.5,424.0 429.0,424.0 429.5,423.9 430.0,423.9 430.5,423.9 431.0,423.9 431.5,424.0 432.0,424.0 432.5,423.9 433.0,423.8 433.5,423.7 434.0,423.7 434.5,423.7 435.0,423.9 435.5,424.0 436.0,424.1 436.5,424.1 437.0,424.0 437.5,424.0 438.0,423.9 438.5,424.0 439.0,424.2 439.5,424.3 440.0,424.3 440.5,424.2 441.0,424.0 441.5,423.8 442.0,423.7 442.5,423.8 443.0,424.0 443.5,424.3 444.0,424.4 444.5,424.5 445.0,424.5 445.5,424.4 446.0,424.4 446.5,424.4 447.0,424.3 447.5,424.3 448.0,424.3 448.5,424.2 449.0,424.2 449.5,424.1 450.0,424.2 450.5,424.3 451.0,424.5 451.5,424.6 452.0,424.7 452.5,424.5 453.0,424.1 453.5,423.8 454.0,423.6 454.5,423.7 455.0,424.1 455.5,424.4 456.0,424.7 456.5,424.7 457.0,424.7 457.5,424.6 458.0,424.6 458.5,424.6 459.0,424.5 459.5,424.5 460.0,424.5 460.5,424.5 461.0,424.6 461.5,424.6 462.0,424.6 462.5,424.7 463.0,424.7 463.5,424.7 464.0,424.7 464.5,424.6 465.0,424.4 465.5,424.2 466.0,424.1 466.5,424.1 467.0,424.2 467.5,424.2 468.0,424.3 468.5,424.4 469.0,424.5 469.5,424.7 470.0,424.7 470.5,424.8 471.0,424.7 471.5,424.7 472.0,424.6 472.5,424.6 473.0,424.6 473.5,424.6 474.0,424.5 474.5,424.3 475.0,424.0 475.5,423.7 476.0,423.6 476.5,423.8 477.0,424.1 477.5,424.4 478.0,424.6 478.5,424.8 479.0,424.8 479.5,424.9 480.0,424.9 480.5,424.9 481.0,424.9 481.5,424.9 482.0,424.8 482.5,424.8 483.0,424.7 483.5,424.6 484.0,424.4 484.5,424.2 485.0,423.9 485.5,423.6 486.0,423.5 486.5,423.7 487.0,424.1 487.5,424.5 488.0,424.8 488.5,424.8 489.0,424.6 489.5,424.4 490.0,424.2 490.5,423.9 491.0,423.5 491.5,423.1 492.0,423.0 492.5,423.2 493.0,423.7 493.5,424.2 494.0,424.4 494.5,424.3 495.0,424.0 495.5,423.7 496.0,423.5 496.5,423.4 497.0,423.4 497.5,423.5 498.0,423.6 498.5,423.7 499.0,423.9 499.5,424.1 500.0,424.2 500.5,424.2 501.0,424.0 501.5,423.9 502.0,423.9 502.5,424.1 503.0,424.4 503.5,424.7 504.0,424.8 504.5,424.7 505.0,424.5 505.5,424.2 506.0,424.0 506.5,424.0 507.0,424.1 507.5,424.2 508.0,424.4 508.5,424.5 509.0,424.8 509.5,425.0 510.0,425.1 510.5,425.2 511.0,425.2 511.5,425.1 512.0,425.0 512.5,424.9 513.0,424.6 513.5,424.4 514.0,424.2 514.5,424.1 515.0,424.1 515.5,424.1 516.0,424.1 516.5,424.0 517.0,423.8 517.5,423.7 518.0,423.6 518.5,423.6 519.0,423.7 519.5,423.8 520.0,423.9 520.5,424.0 521.0,424.2 521.5,424.4 522.0,424.5 522.5,424.5 523.0,424.5 523.5,424.5 524.0,424.5 524.5,424.4 525.0,424.4 525.5,424.3 526.0,424.3 526.5,424.4 527.0,424.6 527.5,424.7 528.0,424.8 528.5,424.6 529.0,424.3 529.5,424.1 530.0,423.9 530.5,423.9 531.0,424.0 531.5,424.1 532.0,424.3 532.5,424.4 533.0,424.5 533.5,424.6 534.0,424.7 534.5,424.7 535.0,424.6 535.5,424.6 536.0,424.6 536.5,424.6 537.0,424.7 537.5,424.8 538.0,424.8 538.5,424.7 539.0,424.6 539.5,424.4 540.0,424.3 540.5,424.3 541.0,424.4 541.5,424.5 542.0,424.5 542.5,424.4 543.0,424.3 543.5,424.2 544.0,424.1 544.5,424.2 545.0,424.3 545.5,424.4 546.0,424.5 546.5,424.4 547.0,424.2 547.5,423.9 548.0,423.8 548.5,423.6 549.0,423.5 549.5,423.4 550.0,423.5 550.5,423.7 551.0,424.0 551.5,424.4 552.0,424.6 552.5,424.6 553.0,424.5 553.5,424.3 554.0,424.2 554.5,424.3 555.0,424.4 555.5,424.4 556.0,424.4 556.5,424.2 557.0,423.9 557.5,423.6 558.0,423.4 558.5,423.5 559.0,423.7 559.5,423.9 560.0,424.1 560.5,424.1 561.0,424.1 561.5,424.0 562.0,423.9 562.5,423.9 563.0,423.9 563.5,423.9 564.0,423.8 564.5,423.6 565.0,423.4 565.5,423.2 566.0,423.1 566.5,423.2 567.0,423.5 567.5,423.8 568.0,424.1 568.5,424.3 569.0,424.4 569.5,424.6 570.0,424.7 570.5,424.7 571.0,424.6 571.5,424.5 572.0,424.4 572.5,424.3 573.0,424.1 573.5,424.0 574.0,423.9 574.5,423.9 575.0,424.0 575.5,424.1 576.0,424.2 576.5,424.3 577.0,424.4 577.5,424.5 578.0,424.6 578.5,424.6 579.0,424.5 579.5,424.4 580.0,424.2 580.5,423.9 581.0,423.4 581.5,423.0 582.0,422.8 582.5,423.0 583.0,423.4 583.5,423.8 584.0,424.1 584.5,424.3 585.0,424.4 585.5,424.4 586.0,424.5 586.5,424.5 587.0,424.5 587.5,424.5 588.0,424.6 588.5,424.7 589.0,424.8 589.5,425.0 590.0,425.1 590.5,425.1 591.0,425.0 591.5,424.9 592.0,424.8 592.5,424.7 593.0,424.6 593.5,424.5 594.0,424.4 594.5,424.4 595.0,424.4 595.5,424.4 596.0,424.4 596.5,424.5 597.0,424.6 597.5,424.6 598.0,424.6 598.5,424.5 599.0,424.3 599.5,424.1 600.0,424.0 600.5,424.0 601.0,424.0 601.5,424.1 602.0,424.2 602.5,424.3 603.0,424.5 603.5,424.6 604.0,424.7 604.5,424.9 605.0,425.1 605.5,425.2 606.0,425.2 606.5,425.1 607.0,424.7 607.5,424.4 608.0,424.2 608.5,424.1 609.0,424.2 609.5,424.2 610.0,424.3 610.5,424.3 611.0,424.3 611.5,424.3 612.0,424.4 612.5,424.5 613.0,424.7 613.5,424.9 614.0,425.0 614.5,424.8 615.0,424.6 615.5,424.4 616.0,424.3 616.5,424.4 617.0,424.7 617.5,424.9 618.0,425.0 618.5,424.9 619.0,424.7 619.5,424.5 620.0,424.3 620.5,424.1 621.0,424.0 621.6,423.9 622.1,423.8 622.6,423.9 623.1,424.0 623.6,424.1 624.2,424.2 624.7,424.3 625.2,424.2 625.7,424.2 626.2,424.3 626.8,424.4 627.3,424.5 627.8,424.6 628.3,424.8 628.9,424.9 629.4,424.9 629.9,425.0 630.4,424.9 630.9,424.7 631.5,424.3 632.0,423.9 632.5,423.6 633.0,423.6 633.5,423.7 634.1,423.8 634.6,424.0 635.1,424.1 635.6,424.3 636.1,424.5 636.7,424.6 637.2,424.6 637.7,424.4 638.2,424.3 638.8,424.1 639.3,424.0 639.8,423.8 640.3,423.7 640.8,423.7 641.4,423.9 641.9,424.4 642.4,424.8 642.9,425.0 643.4,425.0 643.9,424.8 644.5,424.6 645.0,424.5 645.6,424.6 646.2,424.9 646.9,425.2 647.5,425.5 648.1,425.6 648.8,425.7 649.4,425.8 650.0,426.0 650.5,426.3 651.0,426.6 651.5,427.0 652.0,427.2 652.5,427.4 653.0,427.5 653.5,427.6 654.0,427.8 654.5,428.1 655.0,428.5 655.5,428.9 656.0,429.0 656.5,428.8 657.0,428.5 657.5,428.0 658.0,427.5 658.5,426.9 659.0,426.2 659.5,425.5 660.0,425.0 660.5,424.8 661.0,424.8 661.5,424.8 662.0,424.8 662.5,425.0 663.0,425.2 663.5,425.4 664.0,425.5 664.5,425.3 665.0,425.0 665.5,424.7 666.0,424.4 666.5,424.3 667.0,424.3 667.5,424.4 668.0,424.4 668.5,424.5 669.0,424.7 669.5,424.8 670.0,424.9 670.5,424.8 671.0,424.6 671.5,424.5 672.0,424.4 672.5,424.5 673.0,424.7 673.5,424.9 674.0,425.1 674.5,425.1 675.0,425.0 675.5,424.9 676.0,424.8 676.5,424.7 677.0,424.4 677.5,424.3 678.0,424.2 678.5,424.2 679.0,424.4 679.5,424.5 680.0,424.6 680.5,424.6 681.0,424.5 681.5,424.4 682.0,424.4 682.5,424.5 683.0,424.7 683.5,424.9 684.0,425.0 684.5,424.9 685.0,424.6 685.5,424.3 686.0,424.2 686.5,424.1 687.0,424.1 687.5,424.1 688.0,424.2 688.5,424.4 689.0,424.6 689.5,424.8 690.0,425.0 690.5,425.2 691.0,425.3 691.5,425.4 692.0,425.5 692.5,425.5 693.0,425.5 693.5,425.4 694.0,425.3 694.5,425.1 695.0,424.8 695.5,424.5 696.0,424.3 696.5,424.3 697.0,424.3 697.5,424.3 698.0,424.3 698.5,424.3 699.0,424.2 699.5,424.2 700.0,424.2 700.5,424.4 701.0,424.7 701.5,425.0 702.0,425.1 702.5,425.0 703.0,424.8 703.5,424.6 704.0,424.4 704.5,424.3 705.0,424.2 705.5,424.1 706.0,424.1 706.5,424.2 707.0,424.4 707.5,424.6 708.0,424.8 708.5,424.9 709.0,425.0 709.5,425.1 710.0,425.1 710.5,425.0 711.0,424.9 711.5,424.7 712.0,424.6 712.5,424.5 713.0,424.4 713.5,424.3 714.0,424.3 714.5,424.3 715.0,424.3 715.5,424.4 716.0,424.5 716.5,424.8 717.0,425.1 717.5,425.5 718.0,425.7 718.5,425.7 719.0,425.7 719.5,425.6 720.0,425.5 720.5,425.4 721.0,425.3 721.5,425.2 722.1,425.1 722.6,425.2 723.1,425.2 723.6,425.3 724.1,425.4 724.6,425.5 725.2,425.5 725.7,425.6 726.2,425.6 726.7,425.7 727.2,425.7 727.7,425.8 728.3,425.8 728.8,425.7 729.3,425.6 729.8,425.4 730.3,425.3 730.8,425.4 731.4,425.6 731.9,425.7 732.4,425.7 732.9,425.6 733.4,425.4 733.9,425.2 734.4,425.1 735.0,425.1 735.5,425.2 736.0,425.3 736.5,425.3 737.0,425.2 737.5,425.1 738.1,425.0 738.6,425.0 739.1,425.2 739.6,425.5 740.1,425.9 740.6,426.1 741.1,426.0 741.7,425.9 742.2,425.6 742.7,425.5 743.2,425.4 743.8,425.4 744.3,425.4 744.8,425.4 745.4,425.2 745.9,425.1 746.4,425.0 746.9,424.9 747.5,424.8 748.0,424.9 748.5,424.9 749.1,424.9 749.6,424.9 750.1,424.9 750.7,424.8 751.2,424.9 751.7,424.9 752.2,425.1 752.8,425.2 753.3,425.2 753.8,424.9 754.4,424.6 754.9,424.2 755.4,423.9 755.9,423.8 756.5,423.9 757.0,424.0 757.5,424.0 758.1,424.1 758.6,424.1 759.1,424.1 759.7,424.2 760.2,424.5 760.7,425.0 761.2,425.4 761.8,425.6 762.3,425.5 762.8,425.2 763.4,424.9 763.9,424.6 764.4,424.4 765.0,424.2 765.5,424.1 766.0,424.0 766.5,424.0 767.1,424.0 767.6,424.1 768.1,424.3 768.7,424.4 769.2,424.6 769.7,424.8 770.3,424.8 770.8,424.6 771.3,424.2 771.8,423.8 772.4,423.5 772.9,423.4 773.4,423.4 774.0,423.5 774.5,423.5 775.0,423.5 775.5,423.4 776.0,423.4 776.5,423.4 777.0,423.6 777.5,423.9 778.0,424.2 778.5,424.3 779.0,424.3 779.6,424.2 780.1,424.1 780.6,424.1 781.1,424.1 781.6,424.2 782.1,424.3 782.6,424.3 783.1,424.2 783.6,424.0 784.1,423.8 784.6,423.8 785.1,424.0 785.6,424.4 786.1,424.8 786.6,425.1 787.1,425.2 787.6,425.2 788.1,425.2 788.7,425.1 789.2,425.0 789.7,424.9 790.2,424.8 790.7,424.7 791.2,424.7 791.7,424.8 792.2,424.9 792.7,424.8 793.2,424.6 793.7,424.1 794.2,423.8 794.7,423.6 795.2,423.8 795.7,424.3 796.2,424.7 796.7,425.0 797.2,425.1 797.7,424.9 798.3,424.8 798.8,424.7 799.3,424.8 799.8,424.9 800.3,425.1 800.8,425.2 801.3,425.2 801.8,425.3 802.3,425.4 802.8,425.4 803.3,425.3 803.8,425.2 804.3,425.1 804.8,425.0 805.3,424.8 805.9,424.6 806.4,424.5 806.9,424.4 807.4,424.6 807.9,425.0 808.4,425.3 808.9,425.6 809.4,425.6 809.9,425.6 810.4,425.5 810.9,425.5 811.5,425.5 812.2,425.6 812.8,425.7 813.5,425.9 814.1,426.1 814.7,426.4 815.4,426.7 816.0,427.0 816.5,427.2 817.1,427.3 817.6,427.5 818.1,427.6 818.6,427.7 819.2,427.9 819.7,428.0 820.2,428.2 820.7,428.5 821.3,428.7 821.8,429.0 822.3,429.3 822.9,429.6 823.4,429.9 824.0,430.2 824.6,430.5 825.1,430.6 825.7,430.6 826.3,430.7 826.8,430.9 827.4,431.5 828.0,432.4 828.5,433.3 829.1,434.0 829.6,434.3 830.2,434.5 830.8,434.7 831.3,434.9 831.9,435.1 832.5,435.4 833.1,435.7 833.6,436.1 834.2,436.6 834.7,437.1 835.2,437.7 835.7,438.3 836.3,438.8 836.8,439.4 837.3,439.9 837.9,440.4 838.4,440.6 838.9,440.7 839.5,440.8 840.0,441.0 840.5,441.5 841.0,442.0 841.5,442.7 842.0,443.2 842.5,443.5 843.1,443.8 843.6,444.1 844.1,444.4 844.6,445.2 845.1,446.3 845.6,447.2 846.1,447.5 846.8,446.7 847.4,444.8 847.9,442.4 848.5,440.0 849.3,435.9 850.0,430.8 850.7,426.6 851.4,424.8 852.0,426.3 852.5,430.2 853.0,435.1 853.5,440.0 854.1,446.9 854.5,454.7 855.0,462.6 855.5,470.0 856.0,476.7 856.4,483.8 856.9,489.5 857.5,491.8 858.1,490.0 858.7,485.6 859.4,480.1 860.0,475.0 860.6,470.0 861.2,464.8 861.8,459.7 862.5,455.0 863.2,451.2 864.0,447.3 864.8,444.2 865.5,443.0 866.2,444.3 866.8,447.3 867.4,451.2 868.0,455.0 868.6,459.2 869.0,463.5 869.5,468.3 870.0,473.6 871.0,483.5 872.1,495.1 873.3,507.2 874.5,519.0 875.7,530.4 876.9,541.7 878.0,553.1 879.0,564.5 879.7,576.0 880.2,587.6 880.7,599.3 881.2,611.4 881.9,628.6 882.6,648.1 883.3,664.2 883.9,670.9 884.3,667.8 884.8,660.0 885.1,649.9 885.5,640.0 885.9,625.7 886.2,609.6 886.4,593.2 886.8,578.3 887.2,567.7 887.6,557.7 888.0,548.4 888.5,540.0 888.9,535.0 889.2,530.6 889.6,526.3 890.0,522.0"/>
<polyline stroke="#ff00ff" stroke-width="5" points="112.0,506.1 112.5,506.0 113.0,506.0 113.5,505.9 114.0,505.9 114.5,505.9 115.0,505.9 115.5,505.9 116.0,505.9 116.5,506.1 117.0,506.2 117.5,506.4 118.0,506.5 118.5,506.7 119.0,506.8 119.5,506.9 120.0,507.0 120.5,507.1 121.0,507.2 121.5,507.3 122.0,507.3 122.5,507.1 123.0,506.9 123.5,506.6 124.0,506.5 124.5,506.8 125.0,507.2 125.5,507.7 126.0,508.0 126.5,507.9 127.0,507.6 127.5,507.4 128.0,507.3 128.5,507.4 129.0,507.8 129.5,508.1 130.0,508.3 130.5,508.3 131.0,508.3 131.5,508.2 132.0,508.1 132.5,508.0 133.0,507.8 133.5,507.7 134.0,507.5 134.5,507.4 135.0,507.3 135.5,507.2 136.0,507.1 136.5,507.0 137.0,506.9 137.5,506.9 138.0,506.8 138.5,506.7 139.0,506.7 139.5,506.6 140.0,506.5 140.5,506.4 141.0,506.3 141.5,506.2 142.0,506.1 142.5,506.1 143.0,506.1 143.5,506.1 144.0,506.0 144.5,505.8 145.0,505.6 145.5,505.4 146.0,505.4 146.5,505.5 147.0,505.7 147.5,505.9 148.0,506.1 148.5,506.1 149.0,506.0 149.5,506.0 150.0,506.0 150.5,506.2 151.0,506.6 151.5,506.9 152.0,507.2 152.5,507.4 153.0,507.5 153.5,507.5 154.0,507.6 154.5,507.6 155.0,507.6 155.5,507.6 156.0,507.6 156.5,507.6 157.0,507.6 157.5,507.6 158.0,507.6 158.5,507.6 159.0,507.6 159.5,507.5 160.0,507.5 160.5,507.4 161.0,507.2 161.5,507.1 162.0,507.1 162.5,507.2 163.0,507.6 163.5,507.9 164.0,508.0 164.5,507.9 165.0,507.7 165.5,507.4 166.0,507.2 166.5,507.1 167.0,507.1 167.5,507.1 168.0,507.1 168.5,507.1 169.0,507.0 169.5,507.0 170.0,507.0 170.5,506.9 171.0,506.9 171.5,506.8 172.0,506.8 172.5,506.8 173.0,506.8 173.5,506.8 174.0,506.8 174.5,506.8 175.0,506.7 175.5,506.6 176.0,506.5 176.5,506.5 177.0,506.5 177.5,506.5 178.0,506.6 178.5,506.6 179.0,506.5 179.5,506.5 180.0,506.5 180.5,506.4 181.0,506.3 181.5,506.3 182.0,506.3 182.5,506.3 183.0,506.5 183.5,506.7 184.0,506.9 184.5,507.3 185.0,507.8 185.5,508.3 186.0,508.5 186.5,508.5 187.0,508.2 187.5,507.8 188.0,507.7 188.5,507.7 189.0,507.7 189.5,507.8 190.0,508.0 190.6,508.2 191.2,508.5 191.9,508.8 192.5,509.1 193.1,509.5 193.7,510.0 194.4,510.4 195.0,510.8 195.6,511.2 196.2,511.5 196.9,511.7 197.5,511.8 198.2,511.5 198.9,511.0 199.6,510.4 200.2,509.8 200.9,509.1 201.6,508.3 202.3,507.6 203.0,507.0 203.6,506.7 204.2,506.4 204.7,506.2 205.3,506.1 205.9,506.1 206.5,506.1 207.1,506.2 207.7,506.2 208.3,506.2 208.8,506.1 209.4,506.0 210.0,506.0 210.5,506.1 211.0,506.2 211.5,506.3 212.0,506.4 212.5,506.4 213.0,506.3 213.5,506.1 214.0,506.0 214.5,506.0 215.0,505.9 215.5,505.9 216.0,505.9 216.5,506.1 217.0,506.3 217.5,506.5 218.0,506.6 218.5,506.4 219.0,506.0 219.5,505.6 220.0,505.4 220.5,505.4 221.0,505.5 221.5,505.7 222.0,505.7 222.5,505.7 223.0,505.5 223.5,505.4 224.0,505.4 224.5,505.6 225.0,505.9 225.5,506.2 226.0,506.3 226.5,506.0 227.0,505.5 227.5,504.9 228.0,504.6 228.5,504.7 229.0,505.0 229.5,505.3 230.0,505.5 230.5,505.5 231.0,505.4 231.5,505.2 232.0,505.2 232.5,505.1 233.0,505.1 233.5,505.2 234.0,505.2 234.5,505.3 235.0,505.5 235.5,505.7 236.0,505.8 236.5,505.8 237.0,505.8 237.5,505.8 238.0,505.8 238.5,505.9 239.0,506.0 239.5,506.2 240.0,506.1 240.5,505.9 241.0,505.4 241.5,504.9 242.0,504.7 242.5,504.8 243.0,505.2 243.5,505.6 244.0,505.8 244.5,505.8 245.0,505.6 245.5,505.4 246.0,505.3 246.5,505.2 247.0,505.1 247.5,505.1 248.0,505.1 248.5,505.1 249.0,505.2 249.5,505.3 250.0,505.4 250.5,505.5 251.0,505.6 251.6,505.7 252.1,505.7 252.6,505.6 253.1,505.4 253.6,505.2 254.2,505.0 254.7,504.8 255.2,504.6 255.7,504.5 256.2,504.5 256.8,504.6 257.3,504.9 257.8,505.2 258.3,505.3 258.9,505.3 259.4,505.1 259.9,504.9 260.4,504.8 260.9,504.9 261.5,505.0 262.0,505.1 262.5,505.3 263.0,505.4 263.5,505.6 264.1,505.7 264.6,505.8 265.1,505.8 265.6,505.8 266.1,505.8 266.7,505.8 267.2,506.0 267.7,506.2 268.2,506.4 268.8,506.5 269.3,506.4 269.8,506.1 270.3,505.9 270.8,505.6 271.4,505.4 271.9,505.2 272.4,505.1 272.9,505.0 273.4,505.1 274.0,505.4 274.5,505.7 275.0,505.8 275.5,505.8 276.0,505.7 276.6,505.5 277.1,505.4 277.6,505.4 278.1,505.3 278.6,505.3 279.2,505.3 279.7,505.2 280.2,505.1 280.7,505.1 281.2,505.1 281.8,505.3 282.3,505.5 282.8,505.8 283.3,505.9 283.9,505.9 284.4,505.7 284.9,505.5 285.4,505.4 285.9,505.1 286.5,504.9 287.0,504.7 287.5,504.7 288.0,504.9 288.5,505.3 289.1,505.7 289.6,506.0 290.1,506.0 290.6,505.8 291.1,505.6 291.7,505.5 292.2,505.6 292.7,505.6 293.2,505.7 293.8,505.8 294.3,505.7 294.8,505.7 295.3,505.6 295.8,505.6 296.4,505.6 296.9,505.7 297.4,505.8 297.9,505.8 298.4,505.8 299.0,505.7 299.5,505.6 300.0,505.5 300.5,505.5 301.0,505.5 301.5,505.5 302.0,505.6 302.5,505.7 303.0,505.9 303.5,506.1 304.0,506.2 304.5,506.2 305.0,506.1 305.5,505.9 306.0,505.9 306.5,505.8 307.0,505.9 307.5,505.9 308.0,505.9 308.5,505.9 309.0,506.0 309.5,506.0 310.0,506.0 310.5,505.8 311.0,505.5 311.5,505.2 312.0,505.1 312.5,505.2 313.0,505.4 313.5,505.6 314.0,505.8 314.5,505.8 315.0,505.8 315.5,505.8 316.0,505.8 316.5,505.8 317.0,505.9 317.5,506.0 318.0,506.1 318.5,506.1 319.0,506.1 319.5,506.1 320.0,506.0 320.5,505.8 321.0,505.6 321.5,505.4 322.0,505.3 322.5,505.6 323.0,506.1 323.5,506.6 324.0,506.9 324.5,506.8 325.0,506.6 325.5,506.3 326.0,506.1 326.5,505.9 327.0,505.8 327.5,505.6 328.0,505.5 328.5,505.4 329.0,505.3 329.5,505.2 330.0,505.2 330.5,505.4 331.0,505.6 331.5,505.8 332.0,506.0 332.5,506.1 333.0,506.1 333.5,506.1 334.0,506.1 334.5,506.0 335.0,505.9 335.5,505.8 336.0,505.8 336.5,505.9 337.0,506.0 337.5,506.1 338.0,506.2 338.5,506.3 339.0,506.3 339.5,506.3 340.0,506.2 340.6,506.1 341.2,505.9 341.8,505.7 342.5,505.6 343.1,505.6 343.7,505.7 344.3,505.8 344.9,505.9 345.6,505.7 346.2,505.5 346.8,505.3 347.4,505.3 348.0,505.6 348.5,506.0 349.0,506.5 349.4,507.0 350.0,507.6 350.5,508.1 351.0,508.7 351.5,509.5 352.5,512.1 353.6,515.6 354.6,519.3 355.6,522.6 356.4,525.1 357.2,527.7 358.0,529.7 358.9,530.8 359.5,530.8 360.1,530.4 360.7,530.0 361.4,529.6 362.0,529.3 362.6,529.2 363.2,528.9 363.8,528.4 364.7,526.2 365.4,523.0 366.1,519.9 367.1,517.7 367.8,517.2 368.5,517.0 369.3,516.8 370.0,516.5 370.7,516.0 371.5,515.4 372.2,514.8 372.9,514.4 373.4,514.3 374.0,514.2 374.5,514.2 375.0,514.0 375.5,513.4 376.0,512.6 376.5,511.8 377.0,511.0 377.5,510.3 378.0,509.7 378.5,509.1 379.1,508.5 379.5,508.1 380.0,507.7 380.6,507.3 381.1,507.0 381.6,506.8 382.2,506.6 382.7,506.4 383.3,506.2 383.8,506.0 384.4,505.8 384.9,505.6 385.5,505.4 386.0,505.3 386.6,505.3 387.1,505.3 387.7,505.3 388.3,505.5 388.9,505.8 389.5,506.1 390.1,506.3 390.7,506.2 391.4,506.0 392.0,505.9 392.6,505.9 393.2,506.0 393.8,506.4 394.4,506.7 395.0,507.0 395.5,507.1 396.1,507.2 396.6,507.3 397.2,507.4 397.7,507.6 398.2,507.9 398.8,508.1 399.3,508.3 399.9,508.4 400.4,508.4 400.9,508.4 401.5,508.5 402.0,508.6 402.6,508.8 403.1,509.0 403.6,509.2 404.2,509.5 404.7,509.9 405.3,510.2 405.8,510.3 406.3,510.2 406.8,509.8 407.3,509.4 407.9,509.0 408.4,508.6 408.9,508.1 409.4,507.6 409.9,507.2 410.4,507.0 410.9,506.8 411.4,506.6 411.9,506.5 412.5,506.4 413.0,506.3 413.5,506.3 414.0,506.2 414.5,506.1 415.0,506.0 415.5,506.0 416.0,505.9 416.5,506.0 417.0,506.1 417.5,506.1 418.0,506.2 418.5,506.2 419.0,506.1 419.5,506.1 420.0,506.0 420.5,505.8 421.0,505.5 421.5,505.2 422.0,505.1 422.5,505.2 423.0,505.3 423.5,505.5 424.0,505.7 424.5,505.9 425.0,506.1 425.5,506.2 426.0,506.3 426.5,506.3 427.0,506.3 427.5,506.2 428.0,506.1 428.5,506.0 429.0,506.0 429.5,505.9 430.0,505.8 430.5,505.8 431.0,505.8 431.6,505.8 432.1,505.8 432.6,505.7 433.1,505.6 433.7,505.4 434.2,505.4 434.7,505.6 435.2,505.8 435.8,506.1 436.3,506.2 436.8,506.2 437.3,506.0 437.8,505.8 438.4,505.6 438.9,505.5 439.4,505.5 439.9,505.4 440.5,505.4 441.0,505.4 441.5,505.4 442.0,505.5 442.6,505.6 443.1,505.9 443.6,506.2 444.1,506.6 444.6,506.8 445.2,506.7 445.7,506.5 446.2,506.3 446.7,506.2 447.3,506.3 447.8,506.4 448.3,506.6 448.8,506.7 449.4,506.5 449.9,506.3 450.4,506.0 450.9,505.9 451.4,506.0 452.0,506.2 452.5,506.5 453.0,506.6 453.5,506.6 454.0,506.4 454.6,506.3 455.1,506.2 455.7,506.3 456.3,506.4 456.9,506.6 457.5,506.8 458.2,507.0 458.8,507.3 459.4,507.6 460.0,508.0 460.6,508.4 461.2,508.9 461.8,509.4 462.4,509.9 463.1,510.5 463.7,511.1 464.3,511.6 464.9,511.9 465.6,511.7 466.4,511.3 467.2,510.7 468.0,510.0 468.9,509.0 469.8,507.6 470.7,506.6 471.5,506.2 472.4,507.6 473.2,510.4 473.9,513.6 474.8,516.0 475.4,516.9 476.0,517.6 476.6,518.2 477.3,518.6 477.9,518.8 478.5,518.9 479.1,519.0 479.7,519.1 480.4,519.4 481.0,519.8 481.6,520.1 482.2,520.1 482.9,519.7 483.5,518.9 484.1,517.9 484.7,517.1 485.3,516.5 485.9,515.8 486.5,515.2 487.1,514.6 487.7,513.8 488.4,512.9 489.0,512.2 489.6,511.9 490.2,512.1 490.8,512.6 491.4,513.2 492.1,513.7 492.7,514.2 493.3,514.7 493.9,515.1 494.5,515.2 495.2,514.9 496.0,514.2 496.7,513.3 497.4,512.5 498.2,511.4 498.9,510.1 499.6,509.1 500.3,508.6 500.9,508.9 501.5,509.7 502.1,510.7 502.8,511.7 503.4,512.7 504.0,513.8 504.6,514.7 505.2,515.2 505.8,515.0 506.4,514.4 507.0,513.7 507.7,513.2 508.3,513.1 508.9,513.0 509.5,513.0 510.1,512.9 510.8,512.7 511.4,512.6 512.0,512.3 512.6,511.9 513.5,510.4 514.3,508.1 515.1,506.1 515.9,505.3 516.8,506.5 517.5,509.4 518.3,512.9 519.2,516.0 520.3,519.1 521.5,522.5 522.8,525.3 524.1,526.7 524.7,526.7 525.3,526.3 525.9,525.9 526.5,525.5 527.2,525.1 527.8,524.6 528.4,524.3 529.0,524.2 529.8,525.0 530.7,526.4 531.5,527.8 532.3,528.4 532.9,528.1 533.4,527.5 533.9,526.7 534.5,526.0 535.0,525.5 535.6,525.1 536.2,524.6 536.7,524.1 537.3,523.5 537.8,522.8 538.3,522.0 538.9,521.0 540.2,517.2 541.7,512.0 543.3,507.3 544.7,505.3 545.7,506.7 546.8,509.8 547.8,512.9 548.8,514.4 549.6,513.9 550.4,512.7 551.2,511.2 552.0,510.0 552.5,509.4 553.1,508.9 553.6,508.3 554.1,507.8 554.6,507.1 555.2,506.2 555.7,505.6 556.2,505.3 556.7,505.7 557.2,506.6 557.7,507.7 558.2,508.6 558.8,509.1 559.3,509.6 559.8,510.0 560.3,510.5 560.8,511.4 561.3,512.5 561.8,513.5 562.4,514.4 562.8,515.2 563.3,515.9 563.8,516.5 564.4,516.9 565.1,516.9 565.8,516.7 566.5,516.4 567.2,516.0 567.9,515.3 568.6,514.4 569.3,513.6 570.0,513.0 570.5,512.8 571.1,512.8 571.6,512.8 572.1,512.7 572.6,512.5 573.2,512.3 573.7,512.0 574.2,511.8 574.7,511.6 575.2,511.4 575.8,511.2 576.3,511.1 576.8,510.8 577.3,510.6 577.9,510.4 578.4,510.3 579.0,510.3 579.6,510.5 580.2,510.6 580.7,510.5 581.3,510.2 581.9,509.6 582.4,508.9 583.0,508.5 583.6,508.4 584.2,508.3 584.8,508.3 585.4,508.3 585.9,508.2 586.5,508.1 587.1,508.0 587.7,507.9 588.3,507.7 588.8,507.4 589.4,507.2 590.0,507.0 590.6,507.0 591.2,507.0 591.8,507.0 592.4,506.9 593.0,506.7 593.6,506.4 594.2,506.1 594.9,505.9 595.5,505.9 596.1,505.9 596.7,505.9 597.3,505.9 597.9,505.7 598.5,505.4 599.1,505.2 599.7,505.3 600.8,506.3 601.9,508.1 603.0,510.2 604.0,512.0 604.7,513.1 605.4,514.0 606.1,514.9 606.8,515.9 607.5,517.1 608.2,518.4 608.9,519.5 609.6,520.1 610.2,520.0 610.8,519.6 611.5,519.0 612.1,518.5 612.7,518.1 613.3,517.7 613.9,517.2 614.5,516.8 615.2,516.3 615.8,515.7 616.4,515.1 617.0,514.7 617.6,514.4 618.2,514.2 618.9,514.0 619.5,513.6 620.7,511.8 621.9,509.1 623.2,506.6 624.4,505.3 625.1,505.4 625.8,505.8 626.6,506.4 627.3,506.9 628.0,507.3 628.8,507.5 629.5,507.9 630.2,508.6 631.5,511.8 632.5,516.5 633.4,522.1 634.3,527.5 635.5,533.8 636.8,540.5 638.0,547.2 639.2,553.3 640.2,557.8 641.1,562.1 642.0,566.2 643.0,570.0 643.8,573.4 644.5,576.8 645.4,579.6 646.3,580.8 647.2,580.3 648.1,578.8 649.1,576.9 650.0,575.0 651.0,572.7 652.0,570.2 653.0,567.6 654.0,565.0 655.1,562.1 656.3,559.2 657.5,556.2 658.8,553.3 660.2,549.8 661.8,545.9 663.3,542.8 664.7,541.6 665.8,543.5 666.9,547.5 667.8,551.5 668.6,553.3 669.3,551.9 669.9,548.4 670.4,544.1 671.0,540.0 671.7,535.6 672.5,530.9 673.4,526.3 674.5,522.0 675.7,518.5 677.2,515.1 678.6,512.1 680.0,510.0 680.5,509.5 681.1,509.2 681.6,508.9 682.1,508.5 682.6,507.9 683.1,507.1 683.7,506.4 684.2,505.7 684.7,505.2 685.2,504.7 685.8,504.4 686.3,504.3 687.3,505.3 688.3,507.2 689.2,509.7 690.0,512.0 690.7,514.3 691.2,516.5 691.7,519.1 692.2,522.0 693.1,530.1 694.1,540.5 695.0,549.5 696.0,553.3 696.9,549.4 697.8,540.6 698.9,531.9 700.0,527.8 700.7,528.5 701.5,530.3 702.3,532.7 703.0,535.0 703.8,538.2 704.5,541.8 705.2,545.6 705.9,549.4 706.7,553.2 707.5,557.0 708.3,561.0 709.0,565.0 709.7,570.7 710.4,577.1 711.1,582.5 711.8,584.7 712.3,583.5 712.7,580.8 713.2,578.1 713.7,576.9 714.5,581.4 715.3,591.2 716.2,601.3 717.6,606.3 718.1,606.3 718.7,605.9 719.2,605.4 719.8,605.0 720.3,604.8 720.9,604.5 721.4,604.3 722.0,604.0 722.6,603.7 723.2,603.3 723.9,602.9 724.5,602.5 725.1,601.8 725.7,601.1 726.3,600.3 726.9,599.7 727.5,599.3 728.2,599.0 728.8,598.8 729.4,598.4 730.0,597.9 730.6,597.3 731.2,596.7 731.8,596.1 732.4,595.4 733.0,594.6 733.6,593.9 734.2,593.7 735.1,594.5 736.1,596.2 737.0,598.4 737.8,600.9 738.7,606.2 739.1,613.0 739.6,619.7 740.3,625.0 741.0,626.9 741.7,628.4 742.5,629.8 743.1,631.8 744.0,637.4 744.6,644.6 745.0,652.4 745.5,660.0 746.0,667.6 746.5,675.3 747.0,682.8 747.5,690.0 748.0,696.6 748.5,703.5 749.1,709.0 749.7,711.3 750.2,710.2 750.8,707.4 751.4,703.7 752.0,700.0 752.9,693.8 753.9,686.6 754.8,679.1 755.6,672.0 756.2,666.3 756.7,660.7 757.2,655.3 758.0,650.0 759.0,645.3 760.3,640.8 761.6,636.4 762.7,631.7 763.6,626.3 764.4,620.8 765.1,615.2 766.0,610.0 766.9,605.9 768.0,602.0 769.0,598.1 769.9,593.7 770.8,587.1 771.6,579.7 772.3,572.2 773.0,565.0 773.7,557.6 774.3,549.6 774.9,543.1 775.5,540.5 776.0,542.5 776.5,547.3 777.0,553.7 777.5,560.0 778.0,571.4 778.4,585.5 778.9,597.4 779.5,602.4 780.0,601.2 780.5,598.0 781.0,594.0 781.5,590.0 782.1,584.3 782.7,578.0 783.3,571.4 784.0,565.0 784.8,559.2 785.6,553.5 786.6,547.9 787.8,542.6 789.1,538.1 790.6,533.9 792.2,529.8 794.0,526.0 795.8,522.4 797.8,518.6 799.7,515.7 801.2,514.7 802.4,517.5 802.9,523.9 803.2,532.1 803.5,540.0 804.1,550.9 804.6,563.2 805.1,575.1 805.5,585.0 805.7,590.1 805.9,595.1 806.2,598.9 806.4,600.4 806.8,597.7 807.2,591.0 807.6,582.7 808.0,575.0 808.4,567.5 808.9,559.6 809.4,552.0 810.0,545.0 810.5,540.3 811.1,535.8 811.8,531.7 812.6,528.0 813.2,525.4 813.9,523.0 814.7,520.8 815.5,519.0 816.0,518.2 816.6,517.5 817.2,516.9 817.8,516.3 818.3,515.9 818.9,515.4 819.4,515.1 820.0,514.7 820.6,514.4 821.1,514.1 821.7,513.8 822.2,513.5 822.8,513.2 823.4,513.0 823.9,512.7 824.5,512.4 825.1,511.9 825.6,511.5 826.2,511.0 826.8,510.5 827.3,509.8 827.9,509.0 828.4,508.2 829.0,507.7 829.5,507.5 830.1,507.3 830.6,507.3 831.2,507.3 831.7,507.3 832.3,507.3 832.9,507.4 833.4,507.4 834.0,507.3 834.5,507.1 835.0,506.9 835.6,506.7 836.1,506.6 836.7,506.6 837.2,506.5 837.8,506.4 838.3,506.3 838.9,506.1 839.4,506.0 840.0,506.0 840.6,506.1 841.2,506.3 841.8,506.4 842.4,506.4 843.0,506.1 843.5,505.5 844.1,505.0 844.7,504.7 845.3,504.7 845.9,505.0 846.5,505.4 847.1,505.5 847.7,505.4 848.3,505.1 848.8,504.8 849.4,504.6 850.0,504.4 850.6,504.3 851.2,504.2 851.8,504.3 852.5,504.9 853.1,505.9 853.7,506.9 854.4,507.9 855.0,508.4 855.7,509.0 856.4,509.5 857.0,510.0 857.5,510.6 858.1,511.2 858.6,511.8 859.1,512.4 859.6,512.8 860.1,513.3 860.6,513.7 861.1,514.2 861.7,514.8 862.1,515.5 862.7,516.2 863.2,516.8 863.7,517.2 864.3,517.5 864.9,517.8 865.5,518.2 866.0,518.5 866.6,518.9 867.2,519.3 867.7,519.6 868.3,519.8 868.9,519.9 869.4,520.1 870.0,520.5 871.6,523.9 873.2,529.7 874.7,536.2 876.2,542.0 877.5,546.5 878.7,550.9 880.0,555.0 881.2,558.5 882.0,560.7 882.9,562.8 883.7,564.5 884.5,565.1 885.2,564.6 885.8,563.3 886.4,561.6 887.0,560.0 887.7,558.1 888.2,556.1 888.8,554.0 889.4,551.9"/>
</g>
<g clip-path="url(#cb)" fill="none" stroke-linejoin="round" stroke-linecap="round">
<polyline stroke="#0000ff" stroke-width="5" points="1001.0,716.5 1001.5,718.2 1002.0,713.8 1002.5,706.9 1003.0,719.6 1003.5,718.6 1004.0,716.2 1004.5,715.8 1005.0,719.7 1005.5,713.3 1006.0,712.0 1006.5,713.8 1007.0,719.2 1007.5,708.0 1008.0,718.4 1008.5,710.3 1009.0,707.9 1009.5,717.5 1010.0,711.5 1010.5,706.2 1011.0,710.0 1011.5,715.4 1012.0,716.4 1012.5,709.7 1013.0,713.3 1013.5,714.8 1014.0,709.3 1014.5,713.7 1015.0,712.3 1015.5,710.4 1016.0,710.8 1016.5,713.3 1017.0,713.3 1017.5,710.9 1018.0,711.6 1018.5,718.0 1019.0,714.2 1019.5,717.0 1020.0,718.2 1020.5,715.4 1021.0,722.3 1021.5,709.2 1022.0,715.9 1022.5,711.0 1023.0,720.0 1023.5,719.2 1024.0,703.9 1024.5,708.1 1025.0,715.0 1025.5,715.7 1026.0,715.6 1026.5,712.5 1027.0,714.9 1027.5,716.1 1028.0,713.4 1028.5,718.4 1029.0,704.9 1029.5,717.5 1030.0,710.8 1030.5,719.6 1031.0,715.0 1031.5,712.6 1032.0,718.2 1032.5,713.1 1033.0,713.4 1033.5,710.9 1034.0,717.6 1034.5,719.9 1035.0,722.3 1035.5,717.4 1036.0,722.5 1036.5,718.2 1037.0,717.8 1037.5,720.6 1038.0,722.7 1038.5,716.8 1039.0,717.3 1039.5,717.7 1040.0,718.7 1040.5,714.6 1041.0,722.7 1041.5,716.8 1042.0,720.3 1042.5,714.9 1043.0,719.7 1043.5,719.7 1044.0,716.1 1044.5,726.2 1045.0,719.0 1045.5,724.7 1046.0,721.0 1046.5,714.0 1047.0,714.9 1047.5,718.2 1048.0,716.4 1048.5,716.2 1049.0,714.7 1049.5,708.2 1050.0,714.6 1050.5,706.0 1051.0,716.6 1051.5,711.7 1052.0,711.3 1052.5,712.9 1053.0,714.5 1053.5,706.8 1054.0,705.0 1054.5,707.4 1055.0,703.0 1055.5,707.3 1056.0,717.9 1056.5,706.9 1057.0,714.3 1057.5,706.1 1058.0,713.4 1058.5,711.2 1059.0,712.7 1059.5,715.6 1060.0,720.9 1060.5,714.5 1061.0,714.2 1061.5,709.6 1062.0,716.0 1062.5,712.3 1063.0,716.6 1063.5,712.7 1064.0,719.9 1064.5,704.1 1065.0,711.0 1065.5,715.8 1066.0,710.5 1066.5,708.6 1067.0,710.8 1067.5,706.2 1068.0,712.5 1068.5,722.3 1069.0,716.9 1069.5,707.5 1070.0,708.5 1070.5,710.4 1071.0,716.3 1071.5,708.5 1072.0,709.0 1072.5,715.5 1073.0,715.4 1073.5,710.1 1074.0,706.9 1074.5,705.0 1075.0,708.5 1075.5,702.0 1076.0,714.4 1076.5,708.4 1077.0,712.9 1077.5,718.5 1078.0,715.4 1078.5,705.5 1079.0,713.8 1079.5,714.9 1080.0,706.9 1080.5,706.0 1081.0,709.6 1081.5,703.4 1082.0,716.4 1082.5,700.3 1083.0,705.9 1083.5,709.5 1084.0,709.7 1084.5,711.4 1085.0,711.8 1085.5,709.7 1086.0,715.2 1086.5,701.3 1087.0,710.1 1087.5,706.8 1088.0,710.1 1088.5,710.2 1089.0,705.3 1089.5,706.1 1090.0,711.9 1090.5,709.9 1091.0,705.4 1091.5,716.8 1092.0,717.9 1092.5,702.3 1093.0,709.9 1093.5,719.6 1094.0,712.8 1094.5,711.1 1095.0,709.9 1095.5,709.3 1096.0,711.4 1096.5,710.8 1097.0,717.0 1097.5,712.9 1098.0,713.4 1098.5,710.8 1099.0,716.1 1099.5,712.9 1100.0,716.1 1100.5,721.3 1101.0,718.4 1101.5,718.9 1102.0,718.1 1102.5,716.7 1103.0,715.7 1103.5,714.8 1104.0,719.1 1104.5,711.2 1105.0,721.2 1105.5,715.5 1106.0,712.1 1106.5,713.1 1107.0,712.1 1107.5,715.4 1108.0,711.6 1108.5,719.1 1109.0,710.9 1109.5,704.4 1110.0,710.7 1110.5,705.2 1111.0,713.3 1111.5,717.8 1112.0,716.0 1112.5,707.7 1113.0,710.0 1113.5,720.6 1114.0,714.4 1114.5,712.9 1115.0,717.1 1115.5,722.6 1116.0,717.5 1116.5,712.3 1117.0,712.7 1117.5,713.4 1118.0,707.9 1118.5,705.7 1119.0,710.1 1119.5,705.7 1120.0,709.3 1120.5,709.9 1121.0,719.3 1121.5,706.1 1122.0,709.3 1122.5,709.2 1123.0,711.8 1123.5,714.4 1124.0,708.0 1124.5,706.5 1125.0,702.9 1125.5,705.7 1126.0,711.6 1126.5,709.3 1127.0,704.7 1127.5,707.2 1128.0,708.7 1128.5,710.7 1129.0,706.1 1129.5,707.7 1130.0,701.3 1130.5,704.3 1131.0,716.2 1131.5,700.6 1132.0,708.6 1132.5,711.3 1133.0,709.1 1133.5,707.7 1134.0,711.1 1134.5,711.6 1135.0,711.6 1135.5,704.3 1136.0,711.8 1136.5,709.0 1137.0,710.5 1137.5,714.0 1138.0,715.9 1138.5,717.2 1139.0,711.6 1139.5,717.7 1140.0,718.9 1140.5,718.9 1141.0,720.1 1141.5,713.7 1142.0,713.6 1142.5,717.8 1143.0,708.4 1143.5,714.8 1144.0,711.4 1144.5,711.7 1145.0,705.6 1145.5,708.7 1146.0,712.0 1146.5,715.5 1147.0,715.7 1147.5,711.2 1148.0,710.7 1148.5,708.2 1149.0,713.6 1149.5,711.2 1150.0,715.1 1150.5,720.3 1151.0,713.2 1151.5,707.4 1152.0,710.3 1152.5,707.9 1153.0,709.0 1153.5,719.4 1154.0,714.7 1154.5,707.2 1155.0,715.9 1155.5,718.1 1156.0,711.0 1156.5,709.4 1157.0,710.5 1157.5,712.9 1158.0,714.2 1158.5,716.3 1159.0,716.5 1159.5,716.5 1160.0,717.4 1160.5,714.8 1161.0,705.9 1161.5,712.1 1162.0,714.3 1162.5,711.7 1163.0,717.4 1163.5,712.3 1164.0,710.0 1164.5,719.9 1165.0,716.5 1165.5,714.5 1166.0,717.3 1166.5,717.6 1167.0,714.3 1167.5,702.4 1168.0,709.5 1168.5,710.2 1169.0,707.8 1169.5,712.6 1170.0,716.6 1170.5,709.6 1171.0,706.9 1171.5,720.1 1172.0,709.9 1172.5,706.8 1173.0,713.2 1173.5,714.3 1174.0,709.9 1174.5,716.5 1175.0,711.5 1175.5,710.1 1176.0,715.1 1176.5,717.9 1177.0,712.4 1177.5,716.8 1178.0,715.3 1178.5,727.7 1179.0,713.2 1179.5,722.0 1180.0,716.0 1180.5,715.6 1181.0,719.0 1181.5,719.4 1182.0,720.6 1182.5,716.3 1183.0,711.9 1183.5,711.7 1184.0,715.4 1184.5,715.1 1185.0,717.8 1185.5,713.1 1186.0,715.2 1186.5,716.5 1187.0,710.4 1187.5,703.0 1188.0,704.0 1188.5,702.6 1189.0,715.1 1189.5,704.9 1190.0,713.6 1190.5,711.1 1191.0,716.0 1191.5,713.4 1192.0,709.3 1192.5,709.4 1193.0,711.1 1193.5,712.0 1194.0,709.5 1194.5,712.0 1195.0,719.2 1195.5,705.8 1196.0,714.1 1196.5,709.4 1197.0,713.9 1197.5,716.5 1198.0,712.5 1198.5,715.6 1199.0,705.4 1199.5,716.1 1200.0,708.4 1200.5,712.9 1201.0,710.4 1201.5,698.3 1202.0,705.3 1202.5,708.8 1203.0,713.8 1203.5,708.1 1204.0,707.6 1204.5,700.5 1205.0,712.1 1205.5,713.6 1206.0,706.2 1206.5,705.3 1207.0,699.6 1207.5,710.1 1208.0,717.8 1208.5,709.8 1209.0,712.4 1209.5,709.7 1210.0,703.6 1210.5,713.6 1211.0,703.3 1211.5,708.0 1212.0,710.4 1212.5,713.2 1213.0,711.7 1213.5,712.0 1214.0,707.6 1214.5,705.8 1215.0,711.7 1215.5,708.9 1216.0,706.7 1216.5,707.1 1217.0,710.6 1217.5,705.2 1218.0,707.5 1218.5,706.4 1219.0,714.0 1219.5,714.9 1220.0,721.5 1220.5,707.1 1221.0,710.4 1221.5,716.9 1222.0,712.2 1222.5,711.8 1223.0,720.3 1223.5,712.0 1224.0,708.9 1224.5,708.6 1225.0,715.7 1225.5,716.0 1226.0,709.5 1226.5,711.5 1227.0,718.0 1227.5,718.4 1228.0,713.6 1228.5,718.8 1229.0,718.6 1229.5,708.9 1230.0,714.7 1230.5,717.3 1231.0,713.0 1231.5,706.3 1232.0,713.5 1232.5,717.4 1233.0,720.4 1233.5,704.8 1234.0,724.0 1234.5,708.7 1235.0,717.0 1235.5,718.0 1236.0,716.9 1236.5,713.5 1237.0,708.2 1237.5,715.4 1238.0,710.0 1238.5,702.8 1239.0,724.1 1239.5,715.6 1240.0,720.0 1240.5,709.1 1241.0,718.5 1241.5,718.9 1242.0,718.8 1242.5,712.7 1243.0,708.2 1243.5,712.1 1244.0,704.4 1244.5,706.3 1245.0,712.9 1245.5,708.6 1246.0,711.0 1246.5,710.1 1247.0,715.4 1247.5,710.6 1248.0,702.9 1248.5,701.8 1249.0,690.7 1249.5,685.0 1250.0,680.1 1250.5,668.8 1251.0,665.4 1251.5,662.3 1252.0,667.6 1252.5,676.6 1253.0,679.2 1253.5,688.5 1254.0,692.0 1254.5,696.4 1255.0,699.9 1255.5,711.4 1256.0,716.8 1256.5,712.0 1257.0,708.8 1257.5,714.4 1258.0,711.0 1258.5,715.2 1259.0,713.4 1259.5,713.3 1260.0,714.4 1260.5,709.9 1261.0,710.5 1261.5,705.5 1262.0,710.2 1262.5,706.6 1263.0,711.3 1263.5,708.3 1264.0,712.3 1264.5,713.6 1265.0,706.8 1265.5,709.1 1266.0,708.6 1266.5,714.6 1267.0,717.9 1267.5,714.7 1268.0,710.2 1268.5,716.2 1269.0,705.5 1269.5,715.4 1270.0,707.5 1270.5,699.9 1271.0,717.5 1271.5,713.2 1272.0,704.0 1272.5,707.1 1273.0,705.1 1273.5,705.1 1274.0,699.3 1274.5,700.6 1275.0,702.8 1275.5,700.6 1276.0,701.6 1276.5,696.7 1277.0,700.3 1277.5,690.0 1278.0,689.3 1278.5,680.8 1279.0,678.0 1279.5,677.6 1280.0,666.7 1280.5,660.7 1281.0,648.9 1281.5,633.4 1282.0,615.4 1282.5,589.7 1283.0,554.7 1283.5,507.6 1284.0,443.6 1284.5,362.8 1285.0,276.3 1285.5,212.4 1286.0,205.5 1286.5,261.1 1287.0,346.7 1287.5,428.8 1288.0,495.8 1288.5,546.5 1289.0,583.2 1289.5,610.3 1290.0,630.1 1290.5,645.8 1291.0,657.1 1291.5,667.9 1292.0,672.9 1292.5,679.0 1293.0,681.4 1293.5,691.5 1294.0,692.2 1294.5,698.0 1295.0,697.9 1295.5,701.6 1296.0,698.6 1296.5,702.5 1297.0,709.2 1297.5,699.0 1298.0,706.8 1298.5,709.0 1299.0,705.8 1299.5,707.4 1300.0,709.4 1300.5,703.8 1301.0,707.4 1301.5,703.6 1302.0,704.4 1302.5,704.8 1303.0,706.4 1303.5,707.3 1304.0,708.3 1304.5,702.2 1305.0,713.0 1305.5,710.2 1306.0,708.7 1306.5,705.0 1307.0,705.4 1307.5,706.9 1308.0,705.9 1308.5,698.9 1309.0,705.2 1309.5,710.3 1310.0,695.5 1310.5,702.0 1311.0,698.6 1311.5,695.4 1312.0,697.0 1312.5,688.2 1313.0,688.4 1313.5,687.6 1314.0,679.8 1314.5,674.2 1315.0,668.7 1315.5,659.7 1316.0,652.4 1316.5,635.6 1317.0,620.4 1317.5,595.2 1318.0,566.4 1318.5,525.4 1319.0,471.7 1319.5,408.6 1320.0,337.5 1320.5,277.7 1321.0,253.8 1321.5,277.4 1322.0,337.3 1322.5,408.9 1323.0,472.7 1323.5,525.8 1324.0,565.2 1324.5,594.3 1325.0,617.8 1325.5,636.6 1326.0,649.4 1326.5,658.1 1327.0,666.1 1327.5,672.1 1328.0,676.3 1328.5,686.0 1329.0,685.3 1329.5,685.5 1330.0,689.6 1330.5,694.9 1331.0,696.6 1331.5,696.0 1332.0,695.7 1332.5,699.0 1333.0,694.8 1333.5,696.8 1334.0,704.3 1334.5,700.9 1335.0,704.5 1335.5,708.1 1336.0,707.0 1336.5,705.5 1337.0,713.6 1337.5,709.3 1338.0,706.4 1338.5,710.9 1339.0,710.4 1339.5,706.3 1340.0,710.2 1340.5,709.7 1341.0,703.2 1341.5,710.1 1342.0,709.9 1342.5,709.4 1343.0,704.9 1343.5,709.8 1344.0,711.1 1344.5,711.8 1345.0,707.1 1345.5,714.2 1346.0,707.2 1346.5,711.3 1347.0,717.5 1347.5,709.9 1348.0,710.9 1348.5,717.4 1349.0,711.8 1349.5,712.3 1350.0,714.5 1350.5,717.9 1351.0,704.9 1351.5,710.5 1352.0,709.7 1352.5,709.4 1353.0,710.2 1353.5,710.2 1354.0,714.7 1354.5,709.8 1355.0,713.8 1355.5,714.8 1356.0,710.2 1356.5,713.7 1357.0,719.8 1357.5,714.5 1358.0,710.6 1358.5,713.0 1359.0,709.5 1359.5,714.3 1360.0,716.7 1360.5,709.7 1361.0,712.0 1361.5,717.3 1362.0,710.5 1362.5,713.1 1363.0,707.9 1363.5,708.6 1364.0,709.8 1364.5,720.6 1365.0,710.1 1365.5,709.6 1366.0,709.5 1366.5,711.2 1367.0,714.6 1367.5,712.9 1368.0,720.6 1368.5,713.2 1369.0,718.4 1369.5,713.8 1370.0,715.2 1370.5,707.1 1371.0,712.5 1371.5,712.9 1372.0,712.3 1372.5,704.6 1373.0,716.9 1373.5,711.8 1374.0,711.5 1374.5,712.2 1375.0,712.1 1375.5,714.5 1376.0,707.5 1376.5,708.6 1377.0,713.3 1377.5,712.5 1378.0,710.1 1378.5,709.1 1379.0,707.9 1379.5,711.0 1380.0,716.1 1380.5,707.0 1381.0,717.7 1381.5,715.2 1382.0,710.2 1382.5,715.6 1383.0,706.7 1383.5,705.9 1384.0,708.0 1384.5,711.9 1385.0,712.4 1385.5,711.8 1386.0,714.5 1386.5,705.4 1387.0,716.2 1387.5,708.4 1388.0,711.5 1388.5,712.5 1389.0,709.4 1389.5,708.5 1390.0,710.0 1390.5,714.0 1391.0,716.5 1391.5,716.4 1392.0,710.0 1392.5,710.9 1393.0,710.3 1393.5,715.9 1394.0,705.7 1394.5,719.1 1395.0,712.0 1395.5,710.8 1396.0,715.4 1396.5,718.2 1397.0,715.5 1397.5,718.4 1398.0,714.7 1398.5,719.3 1399.0,719.4 1399.5,714.0 1400.0,720.3 1400.5,715.0 1401.0,714.7 1401.5,710.4 1402.0,712.9 1402.5,717.1 1403.0,708.4 1403.5,716.3 1404.0,715.0 1404.5,714.6 1405.0,704.3 1405.5,712.8 1406.0,715.8 1406.5,709.8 1407.0,713.1 1407.5,702.9 1408.0,715.0 1408.5,709.3 1409.0,715.2 1409.5,703.7 1410.0,713.6 1410.5,709.3 1411.0,713.2 1411.5,705.7 1412.0,706.7 1412.5,718.0 1413.0,705.4 1413.5,705.8 1414.0,707.6 1414.5,704.7 1415.0,713.8 1415.5,716.2 1416.0,706.8 1416.5,703.2 1417.0,715.1 1417.5,715.3 1418.0,714.6 1418.5,716.2 1419.0,708.5 1419.5,711.5 1420.0,706.8 1420.5,706.7 1421.0,716.0 1421.5,709.4 1422.0,720.4 1422.5,711.6 1423.0,708.4 1423.5,713.3 1424.0,716.4 1424.5,710.9 1425.0,704.0 1425.5,708.9 1426.0,711.5 1426.5,704.0 1427.0,701.8 1427.5,705.8 1428.0,700.5 1428.5,693.5 1429.0,690.4 1429.5,682.3 1430.0,674.5 1430.5,660.7 1431.0,645.6 1431.5,625.8 1432.0,603.8 1432.5,589.6 1433.0,582.0 1433.5,585.2 1434.0,599.3 1434.5,616.4 1435.0,635.3 1435.5,655.7 1436.0,667.0 1436.5,675.7 1437.0,691.1 1437.5,692.6 1438.0,697.7 1438.5,697.1 1439.0,699.0 1439.5,700.9 1440.0,704.6 1440.5,708.1 1441.0,699.4 1441.5,711.1 1442.0,704.8 1442.5,706.0 1443.0,713.2 1443.5,711.2 1444.0,706.3 1444.5,719.9 1445.0,710.2 1445.5,715.0 1446.0,715.3 1446.5,720.4 1447.0,713.3 1447.5,719.2 1448.0,712.2 1448.5,719.4 1449.0,711.7 1449.5,712.9 1450.0,721.5 1450.5,714.7 1451.0,713.4 1451.5,721.5 1452.0,713.4 1452.5,708.2 1453.0,714.1 1453.5,706.0 1454.0,715.0 1454.5,715.0 1455.0,707.5 1455.5,707.1 1456.0,710.1 1456.5,709.4 1457.0,705.2 1457.5,711.5 1458.0,701.0 1458.5,707.7 1459.0,708.1 1459.5,708.9 1460.0,711.6 1460.5,705.7 1461.0,713.5 1461.5,710.6 1462.0,709.0 1462.5,706.3 1463.0,707.1 1463.5,713.5 1464.0,708.0 1464.5,712.1 1465.0,716.0 1465.5,715.7 1466.0,717.6 1466.5,709.7 1467.0,706.3 1467.5,714.6 1468.0,711.6 1468.5,714.7 1469.0,710.1 1469.5,715.0 1470.0,713.7 1470.5,713.3 1471.0,712.7 1471.5,712.5 1472.0,712.1 1472.5,712.3 1473.0,715.6 1473.5,709.7 1474.0,718.8 1474.5,711.5 1475.0,715.8 1475.5,711.5 1476.0,710.7 1476.5,719.3 1477.0,709.8 1477.5,705.7 1478.0,707.4 1478.5,708.2 1479.0,716.5 1479.5,708.2 1480.0,709.1 1480.5,700.4 1481.0,701.8 1481.5,698.5 1482.0,695.8 1482.5,682.8 1483.0,677.8 1483.5,668.8 1484.0,659.2 1484.5,656.7 1485.0,656.7 1485.5,658.0 1486.0,670.5 1486.5,678.6 1487.0,683.8 1487.5,687.5 1488.0,700.1 1488.5,700.2 1489.0,705.3 1489.5,708.6 1490.0,703.1 1490.5,708.8 1491.0,705.7 1491.5,706.9 1492.0,707.3 1492.5,708.1 1493.0,712.9 1493.5,709.5 1494.0,708.8 1494.5,708.7 1495.0,711.6 1495.5,707.0 1496.0,708.9 1496.5,711.0 1497.0,709.2 1497.5,711.2 1498.0,709.3 1498.5,720.0 1499.0,717.3 1499.5,713.7 1500.0,711.5 1500.5,720.5 1501.0,712.8 1501.5,710.9 1502.0,712.3 1502.5,712.2 1503.0,716.5 1503.5,710.6 1504.0,719.2 1504.5,707.0 1505.0,713.6 1505.5,706.8 1506.0,718.6 1506.5,710.1 1507.0,711.5 1507.5,715.8 1508.0,717.5 1508.5,708.0 1509.0,711.3 1509.5,707.1 1510.0,713.5 1510.5,712.4 1511.0,711.3 1511.5,709.6 1512.0,710.5 1512.5,708.7 1513.0,713.4 1513.5,716.9 1514.0,702.2 1514.5,709.1 1515.0,707.3 1515.5,710.5 1516.0,704.1 1516.5,707.0 1517.0,702.9 1517.5,709.7 1518.0,707.0 1518.5,705.8 1519.0,707.8 1519.5,705.3 1520.0,700.0 1520.5,708.8 1521.0,707.8 1521.5,706.2 1522.0,711.2 1522.5,712.5 1523.0,703.6 1523.5,705.3 1524.0,715.3 1524.5,715.2 1525.0,707.0 1525.5,705.6 1526.0,708.1 1526.5,708.9 1527.0,704.7 1527.5,711.3 1528.0,706.1 1528.5,706.3 1529.0,714.6 1529.5,708.2 1530.0,710.4 1530.5,712.9 1531.0,713.3 1531.5,708.6 1532.0,709.5 1532.5,705.7 1533.0,713.9 1533.5,708.5 1534.0,700.7 1534.5,701.6 1535.0,700.1 1535.5,694.8 1536.0,692.6 1536.5,685.0 1537.0,674.4 1537.5,669.2 1538.0,662.6 1538.5,663.6 1539.0,665.1 1539.5,674.4 1540.0,675.6 1540.5,677.3 1541.0,686.5 1541.5,693.8 1542.0,694.4 1542.5,699.0 1543.0,703.3 1543.5,707.7 1544.0,707.6 1544.5,706.1 1545.0,713.0 1545.5,708.7 1546.0,709.3 1546.5,706.2 1547.0,708.7 1547.5,714.3 1548.0,705.6 1548.5,711.4 1549.0,714.3 1549.5,709.8 1550.0,711.8 1550.5,706.1 1551.0,714.9 1551.5,713.4 1552.0,709.4 1552.5,701.0 1553.0,702.6 1553.5,708.7 1554.0,709.5 1554.5,702.9 1555.0,704.2 1555.5,697.0 1556.0,697.9 1556.5,699.2 1557.0,701.9 1557.5,697.0 1558.0,706.8 1558.5,709.5 1559.0,701.5 1559.5,701.3 1560.0,708.1 1560.5,704.7 1561.0,698.3 1561.5,710.6 1562.0,708.2 1562.5,706.0 1563.0,715.9 1563.5,708.5 1564.0,705.3 1564.5,708.7 1565.0,704.6 1565.5,705.7 1566.0,709.9 1566.5,706.4 1567.0,706.5 1567.5,713.4 1568.0,709.8 1568.5,708.3 1569.0,705.7 1569.5,703.1 1570.0,702.7 1570.5,694.4 1571.0,693.8 1571.5,681.0 1572.0,675.2 1572.5,664.8 1573.0,657.6 1573.5,649.6 1574.0,642.2 1574.5,632.7 1575.0,629.9 1575.5,629.7 1576.0,633.2 1576.5,639.4 1577.0,649.5 1577.5,655.4 1578.0,666.9 1578.5,674.4 1579.0,679.6 1579.5,684.1 1580.0,687.4 1580.5,700.0 1581.0,693.4 1581.5,704.5 1582.0,703.2 1582.5,701.4 1583.0,699.7 1583.5,708.3 1584.0,711.6 1584.5,702.6 1585.0,705.4 1585.5,710.9 1586.0,708.6 1586.5,715.3 1587.0,705.8 1587.5,710.2 1588.0,703.5 1588.5,716.5 1589.0,705.7 1589.5,700.0 1590.0,708.2 1590.5,708.2 1591.0,716.4 1591.5,707.8 1592.0,709.2 1592.5,711.9 1593.0,716.1 1593.5,709.8 1594.0,714.4 1594.5,712.6 1595.0,709.6 1595.5,711.3 1596.0,711.2 1596.5,707.5 1597.0,716.0 1597.5,705.7 1598.0,715.8 1598.5,714.9 1599.0,710.7 1599.5,707.9 1600.0,710.0 1600.5,712.7 1601.0,713.7 1601.5,711.7 1602.0,714.4 1602.5,708.2 1603.0,711.2 1603.5,704.0 1604.0,713.2 1604.5,710.7 1605.0,708.4 1605.5,714.6 1606.0,712.8 1606.5,698.9 1607.0,710.3 1607.5,704.5 1608.0,714.6 1608.5,720.4 1609.0,708.7 1609.5,711.2 1610.0,710.2 1610.5,712.7 1611.0,714.0 1611.5,716.6 1612.0,707.8 1612.5,717.6 1613.0,707.9 1613.5,712.4 1614.0,715.5 1614.5,713.5 1615.0,707.0 1615.5,707.5 1616.0,708.0 1616.5,709.0 1617.0,712.8 1617.5,703.4 1618.0,709.0 1618.5,708.6 1619.0,707.4 1619.5,705.8 1620.0,707.8 1620.5,702.6 1621.0,701.4 1621.5,697.9 1622.0,698.0 1622.5,684.5 1623.0,688.0 1623.5,679.3 1624.0,673.6 1624.5,666.1 1625.0,658.0 1625.5,653.9 1626.0,647.1 1626.5,643.5 1627.0,637.2 1627.5,639.9 1628.0,639.7 1628.5,642.7 1629.0,647.4 1629.5,653.6 1630.0,659.8 1630.5,667.5 1631.0,674.8 1631.5,680.1 1632.0,682.2 1632.5,689.0 1633.0,690.8 1633.5,696.4 1634.0,703.5 1634.5,701.4 1635.0,699.6 1635.5,696.0 1636.0,696.8 1636.5,695.9 1637.0,703.6 1637.5,698.4 1638.0,700.6 1638.5,697.8 1639.0,699.4 1639.5,702.6 1640.0,694.9 1640.5,694.3 1641.0,690.8 1641.5,692.3 1642.0,683.6 1642.5,678.7 1643.0,672.5 1643.5,666.0 1644.0,662.2 1644.5,658.2 1645.0,646.4 1645.5,644.8 1646.0,642.3 1646.5,642.1 1647.0,648.0 1647.5,654.6 1648.0,661.4 1648.5,673.9 1649.0,673.5 1649.5,684.8 1650.0,690.2 1650.5,692.5 1651.0,698.2 1651.5,703.3 1652.0,703.4 1652.5,706.0 1653.0,708.3 1653.5,699.9 1654.0,713.0 1654.5,716.6 1655.0,712.4 1655.5,713.0 1656.0,704.3 1656.5,709.3 1657.0,706.8 1657.5,707.8 1658.0,713.8 1658.5,707.1 1659.0,709.7 1659.5,702.8 1660.0,709.6 1660.5,710.6 1661.0,707.4 1661.5,707.2 1662.0,717.5 1662.5,705.1 1663.0,705.6 1663.5,706.4 1664.0,714.2 1664.5,717.7 1665.0,710.4 1665.5,706.0 1666.0,707.0 1666.5,712.8 1667.0,704.7 1667.5,714.1 1668.0,713.8 1668.5,708.3 1669.0,710.5 1669.5,711.0 1670.0,714.2 1670.5,703.8 1671.0,712.9 1671.5,706.8 1672.0,705.4 1672.5,709.2 1673.0,708.2 1673.5,705.3 1674.0,703.0 1674.5,705.9 1675.0,715.7 1675.5,717.8 1676.0,712.5 1676.5,714.6 1677.0,707.6 1677.5,709.3 1678.0,710.6 1678.5,705.0 1679.0,705.3 1679.5,709.7 1680.0,708.1 1680.5,705.2 1681.0,711.1 1681.5,708.7 1682.0,714.0 1682.5,710.1 1683.0,709.1 1683.5,710.9 1684.0,709.7 1684.5,707.7 1685.0,708.5 1685.5,712.3 1686.0,711.1 1686.5,712.4 1687.0,700.8 1687.5,704.0 1688.0,702.6 1688.5,703.5 1689.0,701.0 1689.5,700.8 1690.0,705.5 1690.5,704.4 1691.0,700.7 1691.5,709.7 1692.0,708.9 1692.5,703.5 1693.0,708.0 1693.5,702.0 1694.0,707.3 1694.5,701.6 1695.0,698.4 1695.5,698.2 1696.0,695.5 1696.5,696.8 1697.0,695.9 1697.5,695.3 1698.0,694.4 1698.5,687.1 1699.0,699.6 1699.5,695.8 1700.0,704.5 1700.5,709.5 1701.0,708.6 1701.5,707.8 1702.0,709.9 1702.5,711.1 1703.0,710.3 1703.5,710.8 1704.0,709.9 1704.5,718.4 1705.0,714.0 1705.5,718.0 1706.0,713.4 1706.5,714.7 1707.0,713.8 1707.5,716.3 1708.0,717.7 1708.5,715.4 1709.0,711.8 1709.5,711.4 1710.0,721.0 1710.5,713.3 1711.0,713.1 1711.5,719.9 1712.0,718.2 1712.5,715.8 1713.0,711.8 1713.5,722.2 1714.0,714.1 1714.5,714.2 1715.0,710.9 1715.5,705.5 1716.0,705.3 1716.5,711.4 1717.0,710.7 1717.5,707.7 1718.0,703.5 1718.5,701.9 1719.0,705.3 1719.5,700.4 1720.0,707.9 1720.5,707.6 1721.0,711.9 1721.5,703.8 1722.0,697.4 1722.5,694.8 1723.0,685.3 1723.5,691.2 1724.0,689.7 1724.5,689.6 1725.0,685.6 1725.5,682.2 1726.0,678.2 1726.5,676.1 1727.0,675.3 1727.5,668.8 1728.0,669.5 1728.5,668.3 1729.0,675.8 1729.5,677.7 1730.0,679.7 1730.5,678.8 1731.0,685.3 1731.5,687.7 1732.0,691.7 1732.5,693.8 1733.0,698.5 1733.5,698.1 1734.0,704.0 1734.5,703.9 1735.0,703.6 1735.5,705.5 1736.0,705.4 1736.5,710.9 1737.0,707.7 1737.5,710.6 1738.0,708.6 1738.5,705.0 1739.0,714.7 1739.5,707.5 1740.0,714.6 1740.5,713.9 1741.0,706.1 1741.5,709.0 1742.0,710.9 1742.5,709.8 1743.0,708.4 1743.5,716.1 1744.0,712.2 1744.5,714.7 1745.0,711.4 1745.5,714.2 1746.0,709.9 1746.5,712.7 1747.0,715.0 1747.5,712.5 1748.0,710.2 1748.5,707.3 1749.0,712.1 1749.5,712.5 1750.0,709.7 1750.5,707.3 1751.0,712.4 1751.5,720.1 1752.0,708.6 1752.5,711.2 1753.0,711.4 1753.5,699.4 1754.0,710.7 1754.5,707.7 1755.0,716.7 1755.5,710.4 1756.0,708.7 1756.5,711.5 1757.0,713.5 1757.5,710.9 1758.0,713.3 1758.5,708.2 1759.0,713.1 1759.5,717.3 1760.0,722.3 1760.5,717.1 1761.0,715.2 1761.5,718.9 1762.0,718.1 1762.5,720.7 1763.0,718.2 1763.5,713.2 1764.0,714.8 1764.5,714.5 1765.0,715.1 1765.5,714.8 1766.0,710.8 1766.5,705.5 1767.0,711.5 1767.5,706.0 1768.0,714.7 1768.5,714.5 1769.0,707.5 1769.5,717.2 1770.0,717.9 1770.5,714.6 1771.0,721.1 1771.5,721.9 1772.0,709.0 1772.5,718.4 1773.0,716.0 1773.5,716.0 1774.0,718.3 1774.5,711.7 1775.0,712.4 1775.5,711.7 1776.0,712.3 1776.5,715.3 1777.0,709.9 1777.5,711.8 1778.0,718.7 1778.5,716.0 1779.0,717.8 1779.5,708.2"/>
<polyline stroke="#ff0000" stroke-width="5" points="1001.0,748.2 1001.5,746.4 1002.0,751.1 1002.5,746.5 1003.0,752.3 1003.5,750.7 1004.0,747.1 1004.5,749.4 1005.0,751.6 1005.5,749.0 1006.0,747.2 1006.5,749.9 1007.0,753.7 1007.5,746.9 1008.0,751.0 1008.5,750.0 1009.0,749.7 1009.5,749.1 1010.0,749.2 1010.5,751.8 1011.0,750.8 1011.5,747.5 1012.0,752.4 1012.5,746.7 1013.0,750.5 1013.5,749.5 1014.0,751.4 1014.5,749.7 1015.0,751.1 1015.5,749.0 1016.0,751.0 1016.5,749.8 1017.0,753.4 1017.5,747.8 1018.0,751.6 1018.5,750.2 1019.0,749.7 1019.5,748.3 1020.0,750.4 1020.5,746.7 1021.0,747.0 1021.5,751.2 1022.0,746.8 1022.5,752.7 1023.0,749.3 1023.5,750.3 1024.0,749.9 1024.5,750.5 1025.0,749.0 1025.5,748.7 1026.0,749.1 1026.5,751.3 1027.0,751.3 1027.5,751.5 1028.0,749.7 1028.5,748.6 1029.0,745.7 1029.5,750.3 1030.0,750.7 1030.5,748.3 1031.0,750.7 1031.5,751.8 1032.0,749.5 1032.5,751.5 1033.0,750.1 1033.5,746.2 1034.0,748.8 1034.5,749.0 1035.0,751.0 1035.5,748.4 1036.0,749.4 1036.5,748.5 1037.0,750.4 1037.5,750.8 1038.0,752.7 1038.5,752.5 1039.0,751.4 1039.5,751.7 1040.0,751.5 1040.5,751.7 1041.0,754.6 1041.5,746.9 1042.0,751.5 1042.5,752.5 1043.0,754.2 1043.5,750.0 1044.0,752.9 1044.5,753.9 1045.0,751.4 1045.5,748.5 1046.0,751.5 1046.5,749.8 1047.0,753.2 1047.5,750.2 1048.0,755.2 1048.5,751.9 1049.0,750.0 1049.5,750.5 1050.0,749.3 1050.5,752.2 1051.0,754.3 1051.5,751.1 1052.0,753.4 1052.5,749.9 1053.0,752.4 1053.5,756.4 1054.0,749.5 1054.5,754.7 1055.0,754.8 1055.5,749.0 1056.0,750.0 1056.5,751.1 1057.0,754.9 1057.5,752.3 1058.0,752.9 1058.5,754.7 1059.0,753.6 1059.5,753.9 1060.0,752.9 1060.5,755.7 1061.0,752.1 1061.5,756.9 1062.0,753.1 1062.5,752.2 1063.0,755.1 1063.5,754.7 1064.0,750.1 1064.5,754.3 1065.0,751.3 1065.5,752.2 1066.0,755.2 1066.5,751.9 1067.0,754.1 1067.5,752.5 1068.0,756.7 1068.5,752.6 1069.0,750.3 1069.5,750.2 1070.0,750.5 1070.5,752.4 1071.0,752.1 1071.5,753.9 1072.0,752.4 1072.5,752.4 1073.0,752.9 1073.5,752.2 1074.0,753.2 1074.5,754.2 1075.0,754.4 1075.5,751.9 1076.0,749.7 1076.5,751.6 1077.0,753.7 1077.5,748.4 1078.0,752.2 1078.5,753.9 1079.0,751.9 1079.5,750.8 1080.0,756.2 1080.5,755.5 1081.0,752.5 1081.5,755.5 1082.0,755.5 1082.5,751.0 1083.0,758.3 1083.5,751.6 1084.0,752.9 1084.5,751.5 1085.0,753.8 1085.5,751.2 1086.0,753.8 1086.5,755.9 1087.0,754.4 1087.5,753.5 1088.0,757.0 1088.5,752.5 1089.0,756.1 1089.5,753.8 1090.0,754.8 1090.5,754.6 1091.0,754.8 1091.5,754.5 1092.0,753.2 1092.5,753.6 1093.0,755.5 1093.5,754.5 1094.0,752.5 1094.5,753.3 1095.0,753.2 1095.5,754.3 1096.0,754.6 1096.5,754.3 1097.0,752.8 1097.5,753.9 1098.0,751.2 1098.5,748.2 1099.0,753.4 1099.5,750.3 1100.0,751.5 1100.5,750.9 1101.0,754.2 1101.5,750.7 1102.0,753.4 1102.5,751.9 1103.0,750.5 1103.5,749.8 1104.0,753.6 1104.5,753.5 1105.0,754.2 1105.5,756.2 1106.0,753.3 1106.5,753.4 1107.0,752.6 1107.5,753.1 1108.0,752.3 1108.5,751.4 1109.0,756.8 1109.5,749.7 1110.0,753.7 1110.5,754.0 1111.0,753.5 1111.5,751.4 1112.0,752.8 1112.5,752.3 1113.0,751.1 1113.5,752.9 1114.0,752.1 1114.5,751.8 1115.0,753.9 1115.5,750.6 1116.0,753.3 1116.5,751.2 1117.0,753.0 1117.5,752.3 1118.0,752.5 1118.5,750.1 1119.0,750.4 1119.5,750.1 1120.0,751.9 1120.5,752.9 1121.0,753.4 1121.5,750.5 1122.0,751.5 1122.5,748.4 1123.0,747.3 1123.5,749.9 1124.0,750.3 1124.5,748.9 1125.0,748.6 1125.5,753.0 1126.0,750.7 1126.5,749.3 1127.0,756.8 1127.5,753.0 1128.0,752.3 1128.5,754.2 1129.0,751.6 1129.5,755.9 1130.0,750.2 1130.5,750.6 1131.0,752.6 1131.5,751.3 1132.0,755.1 1132.5,749.4 1133.0,750.8 1133.5,752.3 1134.0,752.7 1134.5,753.3 1135.0,751.9 1135.5,755.1 1136.0,750.0 1136.5,751.1 1137.0,752.2 1137.5,750.0 1138.0,749.9 1138.5,749.6 1139.0,749.3 1139.5,748.5 1140.0,749.6 1140.5,748.0 1141.0,751.6 1141.5,748.2 1142.0,755.0 1142.5,754.5 1143.0,753.6 1143.5,751.4 1144.0,750.9 1144.5,754.2 1145.0,752.5 1145.5,753.2 1146.0,750.9 1146.5,754.1 1147.0,750.7 1147.5,752.3 1148.0,748.9 1148.5,750.8 1149.0,752.8 1149.5,751.0 1150.0,750.9 1150.5,753.0 1151.0,751.4 1151.5,753.6 1152.0,747.0 1152.5,752.2 1153.0,752.0 1153.5,748.2 1154.0,748.5 1154.5,752.3 1155.0,748.7 1155.5,749.4 1156.0,751.6 1156.5,749.9 1157.0,751.3 1157.5,748.9 1158.0,751.0 1158.5,752.4 1159.0,751.1 1159.5,746.7 1160.0,751.8 1160.5,750.9 1161.0,749.3 1161.5,753.4 1162.0,748.0 1162.5,754.5 1163.0,750.1 1163.5,754.1 1164.0,751.3 1164.5,749.0 1165.0,751.5 1165.5,752.0 1166.0,752.3 1166.5,753.2 1167.0,749.6 1167.5,752.0 1168.0,752.3 1168.5,750.4 1169.0,749.2 1169.5,749.0 1170.0,752.0 1170.5,752.0 1171.0,749.0 1171.5,748.0 1172.0,752.5 1172.5,747.5 1173.0,750.5 1173.5,748.7 1174.0,747.0 1174.5,750.3 1175.0,749.7 1175.5,752.5 1176.0,753.9 1176.5,749.6 1177.0,751.7 1177.5,751.8 1178.0,749.0 1178.5,748.5 1179.0,752.8 1179.5,749.4 1180.0,750.1 1180.5,749.7 1181.0,750.1 1181.5,749.3 1182.0,751.8 1182.5,752.8 1183.0,750.1 1183.5,748.4 1184.0,751.0 1184.5,748.4 1185.0,750.0 1185.5,753.4 1186.0,755.4 1186.5,752.1 1187.0,749.6 1187.5,752.9 1188.0,747.6 1188.5,750.2 1189.0,754.0 1189.5,752.5 1190.0,748.7 1190.5,748.1 1191.0,752.4 1191.5,750.7 1192.0,749.7 1192.5,751.5 1193.0,749.8 1193.5,747.5 1194.0,752.4 1194.5,750.0 1195.0,749.5 1195.5,749.1 1196.0,752.0 1196.5,750.4 1197.0,753.0 1197.5,751.6 1198.0,754.0 1198.5,751.6 1199.0,751.3 1199.5,749.1 1200.0,750.7 1200.5,753.9 1201.0,757.9 1201.5,750.5 1202.0,750.9 1202.5,753.2 1203.0,753.4 1203.5,751.4 1204.0,752.6 1204.5,749.6 1205.0,751.8 1205.5,753.8 1206.0,755.0 1206.5,751.8 1207.0,751.7 1207.5,752.9 1208.0,754.1 1208.5,753.1 1209.0,751.0 1209.5,753.0 1210.0,754.1 1210.5,751.2 1211.0,750.2 1211.5,753.4 1212.0,753.1 1212.5,754.1 1213.0,752.5 1213.5,751.2 1214.0,751.5 1214.5,750.4 1215.0,750.5 1215.5,751.1 1216.0,751.1 1216.5,753.8 1217.0,749.8 1217.5,751.8 1218.0,750.8 1218.5,754.4 1219.0,752.4 1219.5,751.4 1220.0,753.5 1220.5,752.4 1221.0,751.7 1221.5,755.3 1222.0,754.1 1222.5,756.1 1223.0,755.4 1223.5,755.0 1224.0,754.2 1224.5,752.4 1225.0,755.7 1225.5,754.9 1226.0,756.1 1226.5,755.2 1227.0,754.2 1227.5,753.9 1228.0,756.9 1228.5,758.0 1229.0,755.4 1229.5,756.7 1230.0,758.3 1230.5,754.6 1231.0,755.3 1231.5,754.0 1232.0,757.7 1232.5,756.1 1233.0,754.7 1233.5,752.6 1234.0,754.9 1234.5,756.7 1235.0,754.3 1235.5,753.9 1236.0,755.5 1236.5,752.2 1237.0,754.2 1237.5,755.0 1238.0,752.6 1238.5,752.4 1239.0,754.1 1239.5,753.5 1240.0,753.2 1240.5,753.9 1241.0,753.9 1241.5,752.0 1242.0,752.5 1242.5,754.3 1243.0,755.5 1243.5,755.9 1244.0,752.3 1244.5,755.6 1245.0,755.1 1245.5,753.9 1246.0,754.9 1246.5,755.6 1247.0,757.3 1247.5,752.7 1248.0,755.5 1248.5,754.4 1249.0,754.4 1249.5,756.7 1250.0,756.2 1250.5,753.2 1251.0,754.4 1251.5,755.2 1252.0,752.4 1252.5,756.0 1253.0,754.4 1253.5,754.6 1254.0,754.8 1254.5,757.1 1255.0,754.1 1255.5,753.4 1256.0,756.7 1256.5,753.0 1257.0,753.0 1257.5,751.5 1258.0,755.6 1258.5,754.3 1259.0,754.7 1259.5,754.3 1260.0,753.9 1260.5,752.9 1261.0,752.9 1261.5,754.9 1262.0,754.5 1262.5,756.9 1263.0,753.1 1263.5,753.5 1264.0,752.7 1264.5,756.6 1265.0,752.3 1265.5,755.6 1266.0,756.6 1266.5,754.1 1267.0,755.4 1267.5,750.8 1268.0,753.6 1268.5,751.5 1269.0,754.4 1269.5,754.1 1270.0,752.9 1270.5,755.6 1271.0,754.7 1271.5,753.3 1272.0,753.3 1272.5,751.8 1273.0,753.9 1273.5,757.6 1274.0,753.1 1274.5,754.9 1275.0,753.4 1275.5,755.6 1276.0,755.0 1276.5,754.0 1277.0,751.5 1277.5,753.5 1278.0,756.2 1278.5,753.8 1279.0,755.1 1279.5,753.1 1280.0,750.6 1280.5,753.7 1281.0,752.9 1281.5,750.9 1282.0,750.5 1282.5,750.8 1283.0,749.3 1283.5,750.9 1284.0,750.8 1284.5,748.4 1285.0,752.4 1285.5,752.4 1286.0,752.6 1286.5,755.0 1287.0,753.9 1287.5,755.8 1288.0,756.8 1288.5,755.4 1289.0,752.8 1289.5,754.1 1290.0,756.7 1290.5,754.8 1291.0,753.9 1291.5,754.9 1292.0,755.8 1292.5,755.4 1293.0,756.0 1293.5,753.7 1294.0,754.5 1294.5,754.6 1295.0,755.0 1295.5,751.8 1296.0,754.8 1296.5,753.1 1297.0,757.4 1297.5,757.7 1298.0,757.9 1298.5,756.6 1299.0,754.6 1299.5,756.9 1300.0,755.1 1300.5,756.4 1301.0,754.1 1301.5,754.6 1302.0,756.3 1302.5,758.3 1303.0,755.5 1303.5,759.1 1304.0,759.9 1304.5,753.6 1305.0,755.6 1305.5,754.1 1306.0,755.5 1306.5,754.9 1307.0,755.7 1307.5,757.4 1308.0,757.5 1308.5,756.5 1309.0,756.2 1309.5,756.4 1310.0,756.5 1310.5,757.2 1311.0,756.3 1311.5,757.0 1312.0,754.0 1312.5,757.2 1313.0,758.5 1313.5,755.9 1314.0,753.3 1314.5,757.5 1315.0,754.7 1315.5,750.5 1316.0,754.7 1316.5,756.0 1317.0,755.6 1317.5,757.0 1318.0,756.1 1318.5,755.3 1319.0,752.1 1319.5,753.5 1320.0,755.5 1320.5,756.3 1321.0,753.7 1321.5,754.3 1322.0,756.0 1322.5,752.3 1323.0,752.1 1323.5,754.7 1324.0,755.3 1324.5,754.1 1325.0,751.1 1325.5,754.5 1326.0,752.3 1326.5,755.2 1327.0,753.9 1327.5,754.3 1328.0,754.8 1328.5,752.9 1329.0,755.0 1329.5,755.6 1330.0,754.3 1330.5,755.7 1331.0,752.7 1331.5,755.1 1332.0,754.2 1332.5,752.3 1333.0,753.8 1333.5,753.2 1334.0,753.3 1334.5,754.4 1335.0,756.0 1335.5,753.9 1336.0,754.7 1336.5,752.3 1337.0,754.8 1337.5,756.5 1338.0,756.0 1338.5,755.5 1339.0,754.0 1339.5,753.3 1340.0,754.6 1340.5,752.7 1341.0,752.8 1341.5,756.1 1342.0,753.2 1342.5,757.3 1343.0,752.4 1343.5,755.3 1344.0,752.8 1344.5,754.9 1345.0,753.1 1345.5,754.8 1346.0,754.6 1346.5,754.3 1347.0,755.9 1347.5,757.5 1348.0,754.4 1348.5,756.8 1349.0,755.7 1349.5,755.7 1350.0,759.2 1350.5,752.7 1351.0,755.0 1351.5,753.4 1352.0,755.7 1352.5,755.8 1353.0,761.8 1353.5,756.5 1354.0,758.6 1354.5,757.7 1355.0,754.9 1355.5,756.1 1356.0,757.8 1356.5,755.4 1357.0,755.4 1357.5,755.7 1358.0,752.7 1358.5,753.7 1359.0,755.5 1359.5,755.9 1360.0,753.7 1360.5,754.7 1361.0,755.1 1361.5,755.2 1362.0,756.6 1362.5,755.8 1363.0,755.9 1363.5,753.6 1364.0,754.2 1364.5,756.3 1365.0,753.5 1365.5,756.3 1366.0,754.9 1366.5,754.8 1367.0,757.0 1367.5,755.0 1368.0,754.8 1368.5,755.0 1369.0,756.1 1369.5,760.1 1370.0,752.8 1370.5,755.9 1371.0,755.5 1371.5,757.2 1372.0,755.1 1372.5,751.9 1373.0,757.4 1373.5,753.7 1374.0,755.2 1374.5,753.1 1375.0,753.4 1375.5,754.3 1376.0,756.2 1376.5,756.1 1377.0,753.9 1377.5,755.4 1378.0,754.1 1378.5,754.8 1379.0,754.8 1379.5,755.5 1380.0,753.6 1380.5,754.3 1381.0,754.9 1381.5,754.7 1382.0,753.4 1382.5,757.2 1383.0,754.0 1383.5,755.8 1384.0,755.0 1384.5,756.5 1385.0,751.5 1385.5,757.8 1386.0,754.4 1386.5,752.9 1387.0,754.9 1387.5,758.0 1388.0,755.4 1388.5,752.9 1389.0,754.0 1389.5,756.7 1390.0,752.8 1390.5,754.6 1391.0,754.6 1391.5,758.2 1392.0,754.7 1392.5,757.0 1393.0,754.1 1393.5,753.9 1394.0,756.5 1394.5,755.9 1395.0,752.4 1395.5,755.8 1396.0,755.7 1396.5,753.8 1397.0,755.0 1397.5,755.1 1398.0,754.0 1398.5,753.9 1399.0,753.8 1399.5,754.5 1400.0,753.0 1400.5,755.0 1401.0,753.0 1401.5,755.4 1402.0,755.3 1402.5,754.0 1403.0,756.8 1403.5,758.4 1404.0,757.5 1404.5,753.6 1405.0,757.4 1405.5,755.8 1406.0,755.4 1406.5,754.5 1407.0,755.2 1407.5,757.1 1408.0,755.7 1408.5,754.2 1409.0,753.7 1409.5,753.9 1410.0,755.3 1410.5,757.1 1411.0,752.9 1411.5,754.4 1412.0,753.9 1412.5,753.5 1413.0,755.3 1413.5,755.6 1414.0,752.9 1414.5,753.6 1415.0,756.9 1415.5,755.8 1416.0,756.1 1416.5,754.7 1417.0,754.9 1417.5,756.0 1418.0,754.5 1418.5,753.4 1419.0,754.6 1419.5,755.3 1420.0,752.1 1420.5,754.5 1421.0,754.1 1421.5,752.4 1422.0,754.1 1422.5,754.5 1423.0,755.8 1423.5,756.1 1424.0,753.4 1424.5,753.4 1425.0,756.7 1425.5,755.4 1426.0,755.7 1426.5,755.5 1427.0,757.1 1427.5,753.1 1428.0,756.3 1428.5,753.5 1429.0,755.6 1429.5,756.4 1430.0,752.5 1430.5,755.0 1431.0,754.0 1431.5,753.9 1432.0,754.4 1432.5,752.8 1433.0,753.0 1433.5,755.2 1434.0,755.5 1434.5,753.6 1435.0,752.4 1435.5,757.8 1436.0,756.1 1436.5,755.2 1437.0,753.4 1437.5,754.1 1438.0,755.4 1438.5,753.8 1439.0,757.5 1439.5,755.6 1440.0,756.0 1440.5,754.0 1441.0,754.2 1441.5,754.4 1442.0,755.8 1442.5,755.0 1443.0,754.9 1443.5,755.7 1444.0,755.4 1444.5,757.1 1445.0,754.7 1445.5,753.5 1446.0,754.8 1446.5,756.8 1447.0,754.0 1447.5,754.9 1448.0,754.3 1448.5,755.4 1449.0,755.2 1449.5,753.7 1450.0,754.5 1450.5,756.2 1451.0,756.4 1451.5,756.2 1452.0,756.1 1452.5,754.4 1453.0,754.3 1453.5,756.1 1454.0,753.2 1454.5,754.6 1455.0,752.1 1455.5,754.1 1456.0,753.6 1456.5,752.8 1457.0,755.2 1457.5,753.5 1458.0,754.0 1458.5,754.2 1459.0,753.7 1459.5,756.8 1460.0,754.4 1460.5,755.6 1461.0,753.8 1461.5,755.2 1462.0,755.7 1462.5,756.0 1463.0,755.8 1463.5,757.0 1464.0,759.1 1464.5,756.9 1465.0,756.9 1465.5,756.6 1466.0,760.5 1466.5,759.1 1467.0,757.5 1467.5,757.6 1468.0,755.4 1468.5,756.0 1469.0,756.2 1469.5,755.9 1470.0,754.3 1470.5,754.3 1471.0,755.8 1471.5,755.4 1472.0,752.0 1472.5,754.9 1473.0,756.4 1473.5,753.8 1474.0,755.0 1474.5,752.7 1475.0,755.8 1475.5,753.2 1476.0,753.1 1476.5,754.3 1477.0,758.0 1477.5,754.0 1478.0,753.2 1478.5,755.5 1479.0,755.3 1479.5,757.3 1480.0,753.4 1480.5,753.1 1481.0,754.9 1481.5,756.0 1482.0,756.1 1482.5,757.2 1483.0,753.9 1483.5,754.8 1484.0,755.8 1484.5,757.2 1485.0,756.7 1485.5,755.5 1486.0,754.7 1486.5,757.1 1487.0,757.2 1487.5,759.5 1488.0,755.7 1488.5,758.1 1489.0,754.4 1489.5,755.3 1490.0,755.2 1490.5,755.6 1491.0,755.1 1491.5,755.7 1492.0,756.4 1492.5,755.9 1493.0,757.4 1493.5,756.4 1494.0,756.5 1494.5,758.4 1495.0,756.8 1495.5,756.4 1496.0,756.1 1496.5,756.0 1497.0,756.5 1497.5,754.6 1498.0,756.9 1498.5,757.3 1499.0,756.6 1499.5,754.4 1500.0,752.8 1500.5,754.3 1501.0,755.0 1501.5,755.9 1502.0,754.7 1502.5,754.6 1503.0,757.1 1503.5,754.4 1504.0,756.8 1504.5,756.8 1505.0,754.1 1505.5,756.4 1506.0,755.4 1506.5,755.1 1507.0,754.0 1507.5,754.4 1508.0,757.0 1508.5,756.0 1509.0,756.8 1509.5,755.0 1510.0,755.8 1510.5,755.8 1511.0,754.0 1511.5,753.8 1512.0,756.3 1512.5,755.9 1513.0,754.4 1513.5,755.3 1514.0,756.2 1514.5,757.7 1515.0,754.1 1515.5,755.9 1516.0,757.8 1516.5,755.1 1517.0,756.8 1517.5,751.5 1518.0,756.6 1518.5,754.7 1519.0,752.3 1519.5,755.6 1520.0,755.9 1520.5,756.1 1521.0,756.1 1521.5,754.5 1522.0,753.6 1522.5,754.0 1523.0,754.6 1523.5,755.2 1524.0,754.2 1524.5,755.0 1525.0,756.1 1525.5,755.5 1526.0,758.0 1526.5,757.9 1527.0,753.7 1527.5,754.5 1528.0,753.6 1528.5,753.8 1529.0,755.9 1529.5,754.0 1530.0,753.9 1530.5,755.0 1531.0,756.4 1531.5,755.0 1532.0,755.1 1532.5,756.9 1533.0,756.5 1533.5,756.6 1534.0,757.4 1534.5,755.1 1535.0,756.8 1535.5,755.9 1536.0,758.1 1536.5,757.9 1537.0,755.7 1537.5,758.7 1538.0,755.6 1538.5,758.6 1539.0,757.3 1539.5,755.9 1540.0,755.6 1540.5,756.6 1541.0,756.9 1541.5,756.0 1542.0,757.6 1542.5,755.1 1543.0,756.8 1543.5,756.8 1544.0,754.4 1544.5,757.1 1545.0,755.0 1545.5,753.4 1546.0,755.7 1546.5,756.1 1547.0,757.5 1547.5,755.6 1548.0,758.0 1548.5,758.0 1549.0,757.5 1549.5,757.9 1550.0,756.7 1550.5,755.6 1551.0,757.3 1551.5,757.8 1552.0,757.0 1552.5,756.5 1553.0,755.0 1553.5,757.9 1554.0,757.6 1554.5,755.5 1555.0,757.3 1555.5,758.1 1556.0,757.0 1556.5,758.1 1557.0,757.9 1557.5,755.1 1558.0,756.4 1558.5,757.2 1559.0,757.6 1559.5,758.1 1560.0,753.9 1560.5,756.1 1561.0,757.0 1561.5,757.5 1562.0,758.1 1562.5,754.9 1563.0,755.6 1563.5,754.8 1564.0,757.2 1564.5,754.7 1565.0,757.8 1565.5,757.6 1566.0,757.1 1566.5,753.9 1567.0,755.7 1567.5,757.4 1568.0,754.6 1568.5,755.9 1569.0,756.0 1569.5,757.0 1570.0,756.1 1570.5,755.9 1571.0,754.9 1571.5,755.3 1572.0,755.0 1572.5,755.9 1573.0,754.7 1573.5,756.1 1574.0,752.7 1574.5,756.2 1575.0,754.6 1575.5,756.2 1576.0,754.9 1576.5,755.9 1577.0,756.8 1577.5,754.4 1578.0,755.3 1578.5,755.2 1579.0,755.8 1579.5,753.7 1580.0,755.6 1580.5,755.7 1581.0,755.2 1581.5,756.0 1582.0,754.4 1582.5,758.1 1583.0,756.9 1583.5,758.7 1584.0,755.4 1584.5,755.0 1585.0,756.7 1585.5,754.3 1586.0,756.6 1586.5,755.5 1587.0,755.9 1587.5,756.6 1588.0,756.3 1588.5,758.5 1589.0,757.1 1589.5,754.8 1590.0,757.6 1590.5,754.9 1591.0,756.6 1591.5,755.0 1592.0,755.5 1592.5,758.1 1593.0,755.8 1593.5,755.7 1594.0,755.8 1594.5,756.1 1595.0,758.2 1595.5,755.0 1596.0,754.9 1596.5,757.1 1597.0,754.5 1597.5,756.0 1598.0,757.7 1598.5,756.4 1599.0,755.8 1599.5,755.5 1600.0,755.2 1600.5,755.5 1601.0,756.3 1601.5,757.6 1602.0,757.1 1602.5,755.2 1603.0,754.9 1603.5,756.5 1604.0,753.5 1604.5,755.0 1605.0,755.1 1605.5,754.1 1606.0,754.3 1606.5,755.8 1607.0,753.5 1607.5,754.4 1608.0,754.7 1608.5,755.6 1609.0,753.9 1609.5,756.8 1610.0,755.2 1610.5,755.2 1611.0,755.1 1611.5,754.8 1612.0,754.5 1612.5,757.0 1613.0,756.0 1613.5,755.7 1614.0,757.0 1614.5,755.1 1615.0,756.8 1615.5,756.2 1616.0,755.2 1616.5,757.1 1617.0,754.5 1617.5,757.0 1618.0,755.2 1618.5,756.6 1619.0,757.5 1619.5,756.2 1620.0,754.4 1620.5,754.4 1621.0,753.5 1621.5,752.4 1622.0,752.8 1622.5,754.8 1623.0,756.0 1623.5,754.1 1624.0,756.4 1624.5,757.4 1625.0,757.1 1625.5,755.9 1626.0,758.3 1626.5,755.7 1627.0,757.8 1627.5,758.9 1628.0,754.6 1628.5,757.1 1629.0,757.1 1629.5,756.9 1630.0,755.6 1630.5,756.1 1631.0,754.7 1631.5,756.4 1632.0,756.8 1632.5,755.4 1633.0,755.0 1633.5,755.5 1634.0,756.0 1634.5,756.1 1635.0,755.9 1635.5,756.1 1636.0,754.5 1636.5,752.9 1637.0,756.7 1637.5,757.7 1638.0,754.5 1638.5,755.4 1639.0,756.5 1639.5,757.3 1640.0,757.0 1640.5,757.7 1641.0,756.3 1641.5,756.8 1642.0,756.8 1642.5,755.9 1643.0,757.7 1643.5,757.0 1644.0,757.3 1644.5,755.7 1645.0,757.2 1645.5,754.8 1646.0,756.4 1646.5,753.0 1647.0,754.8 1647.5,756.7 1648.0,755.5 1648.5,756.2 1649.0,754.3 1649.5,758.0 1650.0,757.0 1650.5,756.5 1651.0,757.1 1651.5,757.2 1652.0,758.5 1652.5,757.3 1653.0,755.5 1653.5,756.9 1654.0,758.7 1654.5,757.9 1655.0,756.8 1655.5,758.0 1656.0,757.4 1656.5,757.9 1657.0,755.5 1657.5,756.2 1658.0,757.9 1658.5,756.9 1659.0,757.5 1659.5,759.2 1660.0,756.7 1660.5,757.2 1661.0,756.3 1661.5,756.3 1662.0,756.9 1662.5,755.4 1663.0,754.7 1663.5,758.5 1664.0,757.0 1664.5,758.4 1665.0,757.3 1665.5,757.4 1666.0,758.0 1666.5,758.1 1667.0,756.0 1667.5,758.7 1668.0,756.3 1668.5,757.5 1669.0,760.0 1669.5,757.3 1670.0,759.0 1670.5,756.8 1671.0,757.8 1671.5,757.1 1672.0,757.5 1672.5,756.1 1673.0,756.0 1673.5,757.4 1674.0,755.4 1674.5,756.1 1675.0,757.7 1675.5,756.4 1676.0,756.1 1676.5,755.8 1677.0,757.2 1677.5,756.6 1678.0,757.1 1678.5,756.7 1679.0,758.9 1679.5,756.4 1680.0,754.8 1680.5,757.0 1681.0,756.9 1681.5,757.1 1682.0,755.2 1682.5,758.2 1683.0,757.0 1683.5,757.0 1684.0,755.4 1684.5,757.5 1685.0,757.0 1685.5,758.4 1686.0,756.5 1686.5,755.6 1687.0,757.0 1687.5,755.8 1688.0,757.2 1688.5,755.5 1689.0,756.5 1689.5,756.3 1690.0,756.4 1690.5,755.9 1691.0,755.5 1691.5,756.3 1692.0,755.8 1692.5,756.6 1693.0,756.1 1693.5,754.1 1694.0,756.4 1694.5,758.0 1695.0,756.9 1695.5,757.3 1696.0,757.2 1696.5,756.3 1697.0,755.5 1697.5,757.8 1698.0,758.1 1698.5,757.6 1699.0,757.5 1699.5,757.5 1700.0,757.1 1700.5,757.4 1701.0,757.2 1701.5,757.5 1702.0,756.1 1702.5,756.4 1703.0,757.6 1703.5,756.6 1704.0,754.4 1704.5,757.0 1705.0,754.5 1705.5,758.7 1706.0,757.5 1706.5,757.4 1707.0,756.1 1707.5,755.6 1708.0,756.6 1708.5,756.8 1709.0,756.0 1709.5,757.0 1710.0,757.5 1710.5,757.4 1711.0,755.7 1711.5,754.6 1712.0,756.8 1712.5,756.1 1713.0,757.2 1713.5,758.4 1714.0,758.4 1714.5,757.0 1715.0,757.9 1715.5,758.5 1716.0,756.9 1716.5,757.2 1717.0,757.9 1717.5,757.1 1718.0,756.7 1718.5,756.5 1719.0,757.3 1719.5,756.7 1720.0,758.1 1720.5,757.0 1721.0,758.8 1721.5,758.6 1722.0,756.1 1722.5,758.4 1723.0,756.9 1723.5,758.6 1724.0,757.8 1724.5,757.2 1725.0,757.9 1725.5,756.6 1726.0,757.5 1726.5,757.5 1727.0,756.9 1727.5,757.5 1728.0,756.1 1728.5,757.6 1729.0,755.9 1729.5,757.7 1730.0,757.6 1730.5,757.9 1731.0,756.7 1731.5,760.3 1732.0,757.1 1732.5,757.5 1733.0,756.7 1733.5,758.8 1734.0,757.0 1734.5,758.4 1735.0,756.5 1735.5,757.7 1736.0,757.0 1736.5,758.3 1737.0,757.0 1737.5,756.4 1738.0,757.6 1738.5,756.0 1739.0,756.2 1739.5,757.8 1740.0,755.2 1740.5,757.7 1741.0,756.6 1741.5,756.2 1742.0,757.3 1742.5,757.8 1743.0,756.7 1743.5,757.2 1744.0,758.2 1744.5,758.3 1745.0,757.7 1745.5,757.2 1746.0,757.1 1746.5,757.6 1747.0,758.9 1747.5,758.9 1748.0,758.7 1748.5,759.8 1749.0,758.2 1749.5,758.1 1750.0,758.1 1750.5,760.2 1751.0,756.4 1751.5,758.5 1752.0,758.5 1752.5,758.1 1753.0,760.1 1753.5,758.9 1754.0,758.4 1754.5,756.8 1755.0,758.0 1755.5,757.2 1756.0,757.6 1756.5,757.7 1757.0,757.1 1757.5,758.1 1758.0,759.1 1758.5,758.6 1759.0,757.9 1759.5,755.9 1760.0,758.8 1760.5,758.8 1761.0,757.6 1761.5,757.4 1762.0,758.4 1762.5,757.1 1763.0,758.6 1763.5,756.8 1764.0,756.9 1764.5,757.8 1765.0,756.4 1765.5,757.7 1766.0,758.2 1766.5,756.5 1767.0,758.6 1767.5,757.3 1768.0,758.3 1768.5,758.1 1769.0,757.5 1769.5,757.5 1770.0,756.5 1770.5,757.5 1771.0,757.5 1771.5,759.7 1772.0,759.2 1772.5,757.2 1773.0,759.2 1773.5,758.8 1774.0,758.3 1774.5,759.2 1775.0,759.6 1775.5,758.4 1776.0,758.7 1776.5,759.2 1777.0,758.1 1777.5,759.2 1778.0,759.0 1778.5,758.4 1779.0,758.2 1779.5,759.2"/>
<polyline stroke="#800080" stroke-width="5" points="1001.0,638.9 1001.5,635.2 1002.0,632.9 1002.5,632.5 1003.0,631.8 1003.5,630.3 1004.0,626.5 1004.5,634.3 1005.0,632.1 1005.5,633.1 1006.0,640.5 1006.5,636.6 1007.0,632.1 1007.5,637.3 1008.0,629.9 1008.5,639.8 1009.0,637.2 1009.5,635.9 1010.0,639.1 1010.5,642.7 1011.0,635.8 1011.5,634.1 1012.0,645.8 1012.5,638.2 1013.0,643.7 1013.5,635.7 1014.0,639.7 1014.5,635.9 1015.0,640.6 1015.5,637.1 1016.0,635.6 1016.5,643.7 1017.0,639.1 1017.5,630.2 1018.0,636.8 1018.5,634.2 1019.0,633.1 1019.5,635.5 1020.0,636.1 1020.5,638.2 1021.0,635.4 1021.5,631.9 1022.0,637.3 1022.5,643.0 1023.0,635.2 1023.5,643.0 1024.0,642.9 1024.5,639.9 1025.0,642.9 1025.5,639.0 1026.0,640.3 1026.5,637.7 1027.0,642.9 1027.5,645.8 1028.0,637.7 1028.5,644.1 1029.0,631.3 1029.5,635.5 1030.0,634.6 1030.5,644.4 1031.0,635.7 1031.5,640.7 1032.0,630.4 1032.5,638.5 1033.0,640.4 1033.5,638.5 1034.0,628.9 1034.5,639.9 1035.0,642.5 1035.5,644.6 1036.0,641.3 1036.5,633.6 1037.0,639.0 1037.5,642.8 1038.0,636.2 1038.5,640.9 1039.0,636.6 1039.5,638.2 1040.0,640.1 1040.5,634.2 1041.0,646.7 1041.5,636.3 1042.0,636.7 1042.5,632.4 1043.0,635.0 1043.5,633.6 1044.0,629.1 1044.5,628.6 1045.0,634.9 1045.5,633.4 1046.0,624.0 1046.5,625.4 1047.0,631.3 1047.5,631.4 1048.0,632.5 1048.5,625.1 1049.0,628.9 1049.5,624.1 1050.0,621.3 1050.5,620.5 1051.0,622.8 1051.5,622.7 1052.0,625.9 1052.5,624.1 1053.0,627.8 1053.5,627.2 1054.0,630.7 1054.5,632.4 1055.0,633.0 1055.5,637.7 1056.0,637.1 1056.5,638.5 1057.0,636.4 1057.5,639.9 1058.0,636.6 1058.5,639.8 1059.0,638.2 1059.5,639.0 1060.0,636.2 1060.5,631.9 1061.0,631.1 1061.5,643.3 1062.0,637.4 1062.5,637.5 1063.0,635.1 1063.5,633.9 1064.0,645.9 1064.5,631.4 1065.0,635.2 1065.5,635.3 1066.0,631.4 1066.5,631.0 1067.0,633.1 1067.5,634.5 1068.0,634.0 1068.5,638.7 1069.0,631.6 1069.5,637.2 1070.0,641.0 1070.5,638.8 1071.0,631.5 1071.5,624.9 1072.0,638.5 1072.5,637.2 1073.0,633.4 1073.5,640.2 1074.0,634.2 1074.5,636.2 1075.0,632.3 1075.5,637.4 1076.0,634.9 1076.5,634.9 1077.0,640.7 1077.5,637.7 1078.0,631.6 1078.5,639.3 1079.0,639.6 1079.5,633.4 1080.0,634.6 1080.5,635.7 1081.0,634.2 1081.5,635.0 1082.0,636.4 1082.5,631.9 1083.0,640.5 1083.5,630.3 1084.0,630.5 1084.5,638.8 1085.0,639.8 1085.5,631.1 1086.0,629.9 1086.5,626.3 1087.0,633.3 1087.5,629.4 1088.0,625.4 1088.5,629.1 1089.0,631.8 1089.5,629.1 1090.0,633.8 1090.5,630.0 1091.0,627.5 1091.5,625.9 1092.0,627.8 1092.5,629.9 1093.0,628.8 1093.5,629.4 1094.0,626.7 1094.5,628.1 1095.0,628.8 1095.5,624.1 1096.0,619.8 1096.5,626.0 1097.0,620.3 1097.5,613.8 1098.0,609.0 1098.5,598.7 1099.0,582.9 1099.5,566.1 1100.0,540.2 1100.5,512.4 1101.0,481.6 1101.5,457.4 1102.0,446.7 1102.5,456.9 1103.0,481.5 1103.5,512.0 1104.0,540.3 1104.5,567.6 1105.0,585.8 1105.5,598.4 1106.0,609.5 1106.5,614.6 1107.0,618.2 1107.5,623.7 1108.0,628.5 1108.5,626.1 1109.0,624.0 1109.5,627.2 1110.0,635.0 1110.5,627.8 1111.0,634.4 1111.5,630.4 1112.0,633.9 1112.5,631.6 1113.0,627.4 1113.5,631.7 1114.0,640.4 1114.5,633.8 1115.0,636.8 1115.5,634.6 1116.0,635.9 1116.5,638.1 1117.0,639.2 1117.5,645.5 1118.0,638.5 1118.5,638.2 1119.0,636.8 1119.5,634.6 1120.0,633.6 1120.5,641.1 1121.0,632.5 1121.5,643.2 1122.0,641.1 1122.5,637.0 1123.0,633.8 1123.5,637.5 1124.0,637.2 1124.5,640.6 1125.0,634.0 1125.5,634.9 1126.0,635.6 1126.5,634.5 1127.0,633.0 1127.5,629.0 1128.0,628.9 1128.5,631.7 1129.0,632.8 1129.5,636.5 1130.0,640.5 1130.5,638.1 1131.0,633.5 1131.5,638.0 1132.0,631.3 1132.5,629.7 1133.0,638.6 1133.5,627.6 1134.0,629.5 1134.5,629.8 1135.0,635.1 1135.5,628.5 1136.0,632.7 1136.5,628.9 1137.0,626.4 1137.5,630.6 1138.0,630.2 1138.5,626.1 1139.0,626.6 1139.5,626.3 1140.0,630.4 1140.5,628.0 1141.0,626.1 1141.5,625.0 1142.0,620.4 1142.5,619.6 1143.0,613.4 1143.5,607.2 1144.0,602.3 1144.5,596.1 1145.0,586.5 1145.5,576.4 1146.0,560.0 1146.5,546.9 1147.0,531.6 1147.5,514.4 1148.0,500.3 1148.5,487.8 1149.0,480.2 1149.5,481.0 1150.0,485.2 1150.5,498.1 1151.0,511.6 1151.5,527.2 1152.0,543.1 1152.5,558.1 1153.0,571.2 1153.5,584.1 1154.0,590.4 1154.5,603.3 1155.0,609.0 1155.5,615.2 1156.0,613.9 1156.5,613.6 1157.0,619.8 1157.5,622.7 1158.0,625.4 1158.5,624.4 1159.0,626.7 1159.5,628.3 1160.0,624.3 1160.5,634.8 1161.0,627.1 1161.5,632.0 1162.0,635.2 1162.5,630.3 1163.0,633.3 1163.5,639.0 1164.0,633.7 1164.5,638.4 1165.0,636.6 1165.5,636.9 1166.0,638.8 1166.5,636.2 1167.0,636.7 1167.5,640.8 1168.0,639.0 1168.5,640.1 1169.0,635.1 1169.5,639.4 1170.0,643.7 1170.5,643.0 1171.0,641.5 1171.5,638.9 1172.0,638.7 1172.5,642.2 1173.0,645.3 1173.5,640.7 1174.0,644.5 1174.5,639.0 1175.0,643.3 1175.5,635.7 1176.0,638.6 1176.5,633.7 1177.0,637.2 1177.5,634.7 1178.0,627.8 1178.5,625.0 1179.0,621.9 1179.5,616.2 1180.0,615.4 1180.5,615.9 1181.0,621.9 1181.5,627.2 1182.0,627.0 1182.5,630.8 1183.0,634.9 1183.5,634.7 1184.0,636.8 1184.5,640.9 1185.0,639.4 1185.5,638.5 1186.0,636.6 1186.5,641.7 1187.0,634.2 1187.5,634.3 1188.0,628.9 1188.5,627.4 1189.0,627.0 1189.5,625.1 1190.0,628.3 1190.5,629.7 1191.0,629.1 1191.5,629.3 1192.0,640.9 1192.5,638.4 1193.0,646.3 1193.5,643.1 1194.0,641.6 1194.5,646.7 1195.0,644.7 1195.5,646.1 1196.0,643.5 1196.5,649.1 1197.0,651.0 1197.5,645.8 1198.0,653.7 1198.5,646.0 1199.0,648.9 1199.5,642.6 1200.0,641.7 1200.5,655.2 1201.0,652.8 1201.5,651.8 1202.0,642.0 1202.5,648.2 1203.0,648.6 1203.5,647.1 1204.0,647.5 1204.5,643.1 1205.0,645.2 1205.5,641.6 1206.0,643.9 1206.5,646.1 1207.0,642.0 1207.5,643.5 1208.0,642.9 1208.5,644.4 1209.0,647.4 1209.5,645.1 1210.0,645.7 1210.5,639.5 1211.0,643.2 1211.5,647.2 1212.0,641.6 1212.5,643.0 1213.0,641.2 1213.5,649.1 1214.0,643.1 1214.5,642.2 1215.0,647.0 1215.5,648.8 1216.0,647.0 1216.5,648.9 1217.0,646.6 1217.5,645.8 1218.0,645.1 1218.5,645.2 1219.0,645.3 1219.5,649.0 1220.0,647.7 1220.5,648.8 1221.0,650.8 1221.5,648.9 1222.0,644.7 1222.5,646.8 1223.0,645.9 1223.5,643.3 1224.0,650.1 1224.5,645.6 1225.0,645.2 1225.5,645.7 1226.0,652.0 1226.5,647.7 1227.0,651.8 1227.5,647.8 1228.0,646.4 1228.5,649.5 1229.0,649.3 1229.5,647.4 1230.0,643.3 1230.5,645.1 1231.0,642.5 1231.5,645.5 1232.0,646.6 1232.5,651.2 1233.0,651.0 1233.5,648.5 1234.0,649.4 1234.5,647.0 1235.0,655.6 1235.5,651.4 1236.0,655.2 1236.5,647.6 1237.0,647.7 1237.5,649.9 1238.0,647.1 1238.5,647.5 1239.0,643.2 1239.5,649.7 1240.0,647.0 1240.5,649.3 1241.0,645.8 1241.5,640.6 1242.0,648.1 1242.5,650.3 1243.0,642.1 1243.5,643.1 1244.0,645.3 1244.5,645.4 1245.0,640.5 1245.5,651.7 1246.0,649.0 1246.5,643.3 1247.0,639.0 1247.5,645.3 1248.0,649.5 1248.5,644.9 1249.0,644.7 1249.5,637.3 1250.0,639.6 1250.5,633.8 1251.0,642.9 1251.5,638.9 1252.0,631.9 1252.5,633.3 1253.0,640.9 1253.5,640.9 1254.0,640.5 1254.5,644.2 1255.0,649.3 1255.5,644.7 1256.0,638.2 1256.5,643.9 1257.0,640.5 1257.5,642.5 1258.0,646.5 1258.5,645.1 1259.0,642.5 1259.5,646.2 1260.0,643.9 1260.5,648.6 1261.0,646.4 1261.5,648.7 1262.0,646.8 1262.5,650.4 1263.0,647.6 1263.5,648.1 1264.0,646.3 1264.5,648.6 1265.0,642.2 1265.5,656.6 1266.0,645.4 1266.5,647.7 1267.0,645.6 1267.5,645.2 1268.0,647.8 1268.5,644.6 1269.0,644.6 1269.5,641.3 1270.0,642.6 1270.5,641.6 1271.0,651.1 1271.5,641.0 1272.0,641.9 1272.5,646.0 1273.0,650.0 1273.5,640.3 1274.0,640.9 1274.5,646.3 1275.0,647.0 1275.5,641.6 1276.0,640.3 1276.5,642.6 1277.0,647.2 1277.5,644.2 1278.0,645.5 1278.5,641.8 1279.0,640.2 1279.5,639.5 1280.0,634.5 1280.5,631.1 1281.0,623.3 1281.5,617.3 1282.0,610.9 1282.5,600.5 1283.0,590.3 1283.5,583.5 1284.0,578.0 1284.5,576.8 1285.0,580.5 1285.5,590.6 1286.0,602.6 1286.5,607.3 1287.0,614.3 1287.5,622.5 1288.0,627.6 1288.5,630.9 1289.0,634.1 1289.5,641.7 1290.0,643.5 1290.5,646.6 1291.0,645.7 1291.5,643.0 1292.0,648.4 1292.5,644.0 1293.0,645.4 1293.5,643.4 1294.0,651.1 1294.5,650.8 1295.0,646.5 1295.5,647.1 1296.0,648.3 1296.5,648.8 1297.0,650.8 1297.5,648.3 1298.0,649.2 1298.5,643.2 1299.0,646.9 1299.5,642.2 1300.0,653.4 1300.5,652.2 1301.0,650.1 1301.5,651.4 1302.0,654.2 1302.5,650.9 1303.0,642.9 1303.5,647.2 1304.0,640.3 1304.5,645.0 1305.0,643.4 1305.5,646.9 1306.0,647.8 1306.5,643.3 1307.0,644.9 1307.5,646.3 1308.0,644.6 1308.5,644.3 1309.0,637.3 1309.5,643.2 1310.0,646.9 1310.5,645.2 1311.0,640.1 1311.5,643.9 1312.0,645.7 1312.5,642.2 1313.0,647.1 1313.5,642.8 1314.0,644.0 1314.5,644.1 1315.0,649.4 1315.5,641.2 1316.0,638.6 1316.5,638.6 1317.0,632.2 1317.5,628.7 1318.0,618.6 1318.5,616.5 1319.0,609.1 1319.5,600.6 1320.0,598.4 1320.5,592.9 1321.0,592.6 1321.5,594.1 1322.0,598.8 1322.5,606.8 1323.0,612.1 1323.5,621.9 1324.0,628.5 1324.5,630.4 1325.0,632.1 1325.5,637.8 1326.0,638.3 1326.5,643.0 1327.0,644.2 1327.5,643.3 1328.0,645.3 1328.5,648.5 1329.0,650.8 1329.5,644.7 1330.0,648.8 1330.5,646.3 1331.0,644.3 1331.5,651.7 1332.0,649.4 1332.5,649.0 1333.0,650.0 1333.5,648.7 1334.0,646.3 1334.5,655.1 1335.0,652.6 1335.5,650.7 1336.0,653.0 1336.5,654.0 1337.0,649.5 1337.5,651.9 1338.0,649.1 1338.5,652.1 1339.0,649.3 1339.5,657.7 1340.0,649.0 1340.5,651.7 1341.0,651.6 1341.5,649.1 1342.0,653.1 1342.5,649.8 1343.0,648.8 1343.5,650.1 1344.0,647.7 1344.5,653.7 1345.0,651.8 1345.5,652.9 1346.0,645.5 1346.5,650.6 1347.0,647.3 1347.5,650.0 1348.0,653.7 1348.5,650.6 1349.0,649.4 1349.5,653.5 1350.0,653.3 1350.5,656.0 1351.0,644.5 1351.5,651.4 1352.0,649.0 1352.5,647.6 1353.0,650.5 1353.5,646.4 1354.0,642.9 1354.5,646.8 1355.0,648.6 1355.5,655.0 1356.0,646.7 1356.5,645.1 1357.0,642.3 1357.5,647.1 1358.0,647.3 1358.5,648.3 1359.0,643.2 1359.5,645.2 1360.0,640.5 1360.5,648.2 1361.0,642.9 1361.5,639.5 1362.0,652.1 1362.5,650.5 1363.0,650.6 1363.5,651.3 1364.0,647.7 1364.5,655.0 1365.0,649.1 1365.5,658.9 1366.0,654.3 1366.5,648.3 1367.0,657.0 1367.5,660.5 1368.0,653.6 1368.5,657.6 1369.0,653.4 1369.5,651.9 1370.0,645.5 1370.5,657.0 1371.0,651.6 1371.5,653.9 1372.0,649.0 1372.5,649.6 1373.0,655.8 1373.5,651.1 1374.0,651.1 1374.5,648.5 1375.0,653.1 1375.5,655.0 1376.0,651.2 1376.5,652.2 1377.0,649.2 1377.5,657.4 1378.0,651.3 1378.5,652.9 1379.0,658.7 1379.5,653.0 1380.0,649.0 1380.5,650.9 1381.0,652.7 1381.5,659.2 1382.0,654.3 1382.5,652.8 1383.0,655.9 1383.5,657.2 1384.0,650.8 1384.5,657.4 1385.0,655.5 1385.5,654.2 1386.0,645.5 1386.5,653.3 1387.0,656.9 1387.5,651.6 1388.0,659.3 1388.5,652.2 1389.0,648.5 1389.5,653.0 1390.0,651.7 1390.5,652.9 1391.0,649.2 1391.5,653.5 1392.0,647.5 1392.5,649.3 1393.0,644.9 1393.5,646.1 1394.0,649.1 1394.5,646.5 1395.0,647.1 1395.5,647.9 1396.0,649.4 1396.5,651.0 1397.0,651.1 1397.5,652.1 1398.0,649.7 1398.5,647.5 1399.0,644.5 1399.5,648.4 1400.0,647.1 1400.5,644.1 1401.0,654.7 1401.5,644.1 1402.0,650.8 1402.5,651.3 1403.0,648.9 1403.5,657.4 1404.0,649.5 1404.5,647.0 1405.0,654.6 1405.5,646.8 1406.0,644.9 1406.5,646.3 1407.0,647.5 1407.5,649.8 1408.0,650.9 1408.5,645.5 1409.0,651.4 1409.5,657.4 1410.0,648.8 1410.5,650.8 1411.0,653.6 1411.5,655.4 1412.0,650.0 1412.5,649.4 1413.0,649.5 1413.5,656.1 1414.0,655.8 1414.5,646.8 1415.0,647.0 1415.5,649.8 1416.0,649.1 1416.5,654.8 1417.0,654.1 1417.5,659.0 1418.0,655.2 1418.5,652.8 1419.0,655.5 1419.5,648.8 1420.0,646.7 1420.5,650.4 1421.0,652.6 1421.5,644.5 1422.0,651.6 1422.5,651.2 1423.0,647.0 1423.5,648.9 1424.0,647.6 1424.5,648.8 1425.0,651.1 1425.5,646.7 1426.0,652.4 1426.5,652.1 1427.0,652.4 1427.5,644.3 1428.0,644.5 1428.5,651.2 1429.0,647.0 1429.5,645.6 1430.0,644.0 1430.5,640.8 1431.0,641.1 1431.5,637.8 1432.0,635.8 1432.5,636.5 1433.0,632.5 1433.5,637.8 1434.0,632.6 1434.5,644.8 1435.0,638.8 1435.5,645.6 1436.0,648.6 1436.5,648.0 1437.0,651.5 1437.5,650.3 1438.0,646.5 1438.5,652.9 1439.0,655.6 1439.5,650.9 1440.0,647.7 1440.5,650.8 1441.0,653.4 1441.5,653.2 1442.0,655.5 1442.5,653.8 1443.0,653.6 1443.5,646.4 1444.0,658.8 1444.5,652.6 1445.0,655.2 1445.5,652.0 1446.0,652.9 1446.5,653.8 1447.0,658.6 1447.5,658.8 1448.0,656.5 1448.5,660.8 1449.0,654.2 1449.5,657.1 1450.0,654.4 1450.5,659.6 1451.0,656.1 1451.5,658.9 1452.0,661.0 1452.5,649.9 1453.0,662.2 1453.5,656.7 1454.0,654.7 1454.5,649.8 1455.0,654.3 1455.5,648.3 1456.0,655.0 1456.5,653.9 1457.0,659.4 1457.5,652.7 1458.0,656.4 1458.5,656.4 1459.0,658.7 1459.5,651.7 1460.0,654.5 1460.5,647.7 1461.0,648.8 1461.5,651.3 1462.0,652.0 1462.5,648.6 1463.0,651.1 1463.5,654.4 1464.0,651.1 1464.5,652.1 1465.0,649.9 1465.5,656.5 1466.0,657.5 1466.5,652.7 1467.0,651.6 1467.5,656.4 1468.0,652.7 1468.5,649.0 1469.0,646.8 1469.5,648.7 1470.0,656.5 1470.5,648.2 1471.0,658.0 1471.5,649.6 1472.0,648.9 1472.5,653.4 1473.0,648.9 1473.5,650.9 1474.0,647.1 1474.5,646.8 1475.0,648.7 1475.5,651.9 1476.0,649.9 1476.5,646.6 1477.0,654.2 1477.5,652.8 1478.0,652.8 1478.5,652.2 1479.0,647.7 1479.5,658.9 1480.0,653.0 1480.5,656.0 1481.0,658.4 1481.5,657.6 1482.0,654.9 1482.5,654.2 1483.0,655.1 1483.5,656.8 1484.0,655.9 1484.5,653.0 1485.0,655.6 1485.5,655.6 1486.0,656.6 1486.5,655.4 1487.0,658.8 1487.5,655.7 1488.0,657.8 1488.5,655.5 1489.0,653.8 1489.5,652.8 1490.0,655.1 1490.5,657.0 1491.0,659.0 1491.5,655.0 1492.0,653.5 1492.5,653.3 1493.0,658.2 1493.5,654.5 1494.0,652.5 1494.5,655.8 1495.0,649.7 1495.5,653.6 1496.0,653.1 1496.5,652.8 1497.0,649.9 1497.5,656.0 1498.0,658.1 1498.5,649.8 1499.0,654.0 1499.5,655.6 1500.0,660.2 1500.5,652.7 1501.0,651.1 1501.5,653.7 1502.0,659.2 1502.5,653.5 1503.0,653.9 1503.5,658.0 1504.0,646.9 1504.5,646.7 1505.0,655.4 1505.5,655.1 1506.0,649.2 1506.5,654.7 1507.0,653.7 1507.5,654.5 1508.0,652.0 1508.5,653.3 1509.0,652.4 1509.5,655.3 1510.0,654.8 1510.5,660.3 1511.0,657.6 1511.5,651.6 1512.0,657.2 1512.5,660.1 1513.0,656.9 1513.5,659.0 1514.0,655.8 1514.5,657.7 1515.0,653.0 1515.5,657.5 1516.0,651.3 1516.5,658.5 1517.0,650.5 1517.5,648.7 1518.0,655.9 1518.5,653.8 1519.0,654.5 1519.5,655.2 1520.0,653.8 1520.5,651.4 1521.0,654.3 1521.5,654.6 1522.0,654.9 1522.5,658.9 1523.0,651.3 1523.5,653.5 1524.0,654.8 1524.5,652.0 1525.0,650.0 1525.5,651.8 1526.0,656.3 1526.5,652.7 1527.0,655.1 1527.5,651.5 1528.0,654.7 1528.5,651.6 1529.0,651.1 1529.5,653.7 1530.0,653.5 1530.5,657.3 1531.0,648.8 1531.5,654.6 1532.0,657.6 1532.5,657.0 1533.0,652.3 1533.5,651.5 1534.0,652.0 1534.5,654.3 1535.0,654.0 1535.5,654.5 1536.0,655.2 1536.5,650.7 1537.0,650.6 1537.5,650.4 1538.0,650.2 1538.5,653.7 1539.0,655.0 1539.5,661.2 1540.0,656.0 1540.5,654.8 1541.0,658.8 1541.5,653.1 1542.0,656.2 1542.5,658.1 1543.0,657.7 1543.5,656.7 1544.0,654.6 1544.5,652.2 1545.0,655.0 1545.5,653.7 1546.0,656.9 1546.5,654.4 1547.0,656.0 1547.5,649.8 1548.0,656.4 1548.5,651.2 1549.0,649.0 1549.5,649.2 1550.0,651.0 1550.5,655.5 1551.0,654.3 1551.5,649.3 1552.0,652.6 1552.5,652.1 1553.0,648.3 1553.5,649.9 1554.0,647.2 1554.5,650.4 1555.0,645.7 1555.5,650.7 1556.0,650.4 1556.5,650.7 1557.0,650.6 1557.5,655.8 1558.0,651.7 1558.5,653.1 1559.0,654.3 1559.5,654.5 1560.0,653.7 1560.5,650.3 1561.0,648.7 1561.5,649.5 1562.0,650.2 1562.5,651.5 1563.0,651.3 1563.5,654.6 1564.0,651.7 1564.5,656.8 1565.0,655.1 1565.5,651.5 1566.0,655.2 1566.5,645.9 1567.0,657.0 1567.5,654.6 1568.0,654.6 1568.5,649.4 1569.0,659.8 1569.5,652.6 1570.0,652.6 1570.5,655.1 1571.0,651.3 1571.5,649.0 1572.0,651.4 1572.5,646.7 1573.0,649.3 1573.5,646.8 1574.0,647.8 1574.5,642.4 1575.0,647.0 1575.5,645.6 1576.0,649.8 1576.5,645.6 1577.0,652.2 1577.5,651.0 1578.0,652.4 1578.5,650.0 1579.0,653.8 1579.5,654.7 1580.0,651.7 1580.5,651.2 1581.0,652.5 1581.5,658.3 1582.0,655.3 1582.5,657.5 1583.0,656.1 1583.5,655.9 1584.0,656.4 1584.5,655.1 1585.0,659.4 1585.5,657.0 1586.0,657.3 1586.5,653.3 1587.0,657.7 1587.5,655.2 1588.0,655.7 1588.5,659.5 1589.0,654.1 1589.5,656.3 1590.0,658.3 1590.5,659.6 1591.0,655.3 1591.5,657.3 1592.0,657.2 1592.5,653.6 1593.0,650.9 1593.5,651.4 1594.0,657.7 1594.5,656.4 1595.0,652.7 1595.5,654.3 1596.0,654.9 1596.5,654.9 1597.0,655.7 1597.5,661.3 1598.0,653.7 1598.5,656.1 1599.0,653.8 1599.5,654.2 1600.0,653.6 1600.5,655.2 1601.0,654.4 1601.5,656.6 1602.0,656.2 1602.5,653.3 1603.0,660.1 1603.5,652.2 1604.0,655.9 1604.5,660.2 1605.0,652.8 1605.5,657.8 1606.0,657.9 1606.5,655.0 1607.0,649.5 1607.5,657.6 1608.0,654.3 1608.5,652.7 1609.0,657.3 1609.5,652.4 1610.0,656.9 1610.5,653.0 1611.0,655.7 1611.5,651.7 1612.0,653.4 1612.5,652.1 1613.0,652.6 1613.5,654.7 1614.0,653.6 1614.5,654.2 1615.0,656.6 1615.5,652.8 1616.0,648.2 1616.5,651.7 1617.0,652.2 1617.5,654.2 1618.0,654.0 1618.5,653.5 1619.0,650.4 1619.5,652.4 1620.0,647.3 1620.5,653.8 1621.0,651.7 1621.5,651.9 1622.0,649.7 1622.5,650.7 1623.0,648.9 1623.5,651.6 1624.0,647.0 1624.5,651.8 1625.0,650.4 1625.5,653.0 1626.0,648.1 1626.5,647.6 1627.0,648.0 1627.5,647.7 1628.0,647.7 1628.5,646.3 1629.0,647.1 1629.5,649.0 1630.0,650.4 1630.5,649.2 1631.0,649.8 1631.5,652.3 1632.0,655.1 1632.5,653.3 1633.0,655.6 1633.5,656.5 1634.0,656.2 1634.5,653.6 1635.0,653.8 1635.5,650.4 1636.0,653.4 1636.5,656.2 1637.0,652.7 1637.5,658.6 1638.0,658.9 1638.5,654.7 1639.0,657.7 1639.5,652.2 1640.0,653.0 1640.5,654.3 1641.0,654.8 1641.5,653.9 1642.0,651.8 1642.5,657.3 1643.0,652.7 1643.5,651.8 1644.0,651.6 1644.5,649.5 1645.0,647.8 1645.5,646.6 1646.0,644.2 1646.5,650.5 1647.0,646.2 1647.5,645.3 1648.0,647.9 1648.5,647.1 1649.0,655.7 1649.5,653.1 1650.0,656.2 1650.5,657.0 1651.0,655.6 1651.5,656.0 1652.0,653.4 1652.5,655.1 1653.0,654.0 1653.5,655.6 1654.0,653.8 1654.5,658.4 1655.0,657.1 1655.5,655.0 1656.0,651.2 1656.5,656.5 1657.0,656.8 1657.5,654.4 1658.0,651.5 1658.5,655.3 1659.0,656.7 1659.5,649.6 1660.0,655.3 1660.5,649.7 1661.0,654.1 1661.5,658.0 1662.0,654.2 1662.5,655.1 1663.0,653.3 1663.5,654.0 1664.0,659.6 1664.5,657.2 1665.0,653.4 1665.5,653.3 1666.0,654.3 1666.5,659.4 1667.0,654.9 1667.5,657.0 1668.0,653.6 1668.5,651.6 1669.0,657.7 1669.5,654.5 1670.0,652.9 1670.5,653.1 1671.0,653.2 1671.5,653.4 1672.0,651.3 1672.5,657.8 1673.0,656.0 1673.5,657.6 1674.0,654.7 1674.5,656.5 1675.0,656.4 1675.5,658.9 1676.0,658.3 1676.5,657.5 1677.0,655.4 1677.5,654.3 1678.0,655.4 1678.5,655.9 1679.0,656.2 1679.5,654.6 1680.0,661.3 1680.5,658.2 1681.0,652.9 1681.5,655.1 1682.0,654.5 1682.5,658.1 1683.0,659.9 1683.5,655.1 1684.0,658.6 1684.5,656.5 1685.0,659.5 1685.5,659.7 1686.0,657.1 1686.5,657.7 1687.0,655.8 1687.5,654.7 1688.0,652.7 1688.5,655.8 1689.0,654.7 1689.5,653.9 1690.0,654.5 1690.5,654.2 1691.0,652.3 1691.5,653.4 1692.0,657.2 1692.5,654.1 1693.0,657.8 1693.5,652.1 1694.0,651.7 1694.5,655.0 1695.0,656.4 1695.5,653.1 1696.0,655.9 1696.5,656.5 1697.0,656.7 1697.5,653.9 1698.0,653.9 1698.5,650.2 1699.0,653.8 1699.5,654.2 1700.0,656.6 1700.5,650.6 1701.0,651.4 1701.5,651.1 1702.0,655.3 1702.5,647.6 1703.0,650.8 1703.5,657.7 1704.0,654.5 1704.5,650.0 1705.0,652.7 1705.5,654.5 1706.0,653.6 1706.5,651.6 1707.0,650.1 1707.5,653.5 1708.0,651.4 1708.5,653.0 1709.0,651.9 1709.5,649.9 1710.0,654.1 1710.5,649.9 1711.0,652.1 1711.5,649.9 1712.0,651.0 1712.5,651.2 1713.0,650.5 1713.5,652.7 1714.0,655.3 1714.5,656.8 1715.0,656.1 1715.5,652.9 1716.0,656.7 1716.5,654.7 1717.0,657.9 1717.5,651.5 1718.0,657.6 1718.5,653.2 1719.0,657.1 1719.5,653.7 1720.0,656.7 1720.5,654.0 1721.0,650.5 1721.5,652.4 1722.0,653.8 1722.5,654.2 1723.0,649.2 1723.5,651.3 1724.0,652.2 1724.5,653.3 1725.0,654.2 1725.5,652.0 1726.0,650.5 1726.5,654.6 1727.0,653.4 1727.5,656.2 1728.0,653.4 1728.5,656.1 1729.0,653.0 1729.5,655.7 1730.0,655.5 1730.5,656.4 1731.0,653.5 1731.5,655.3 1732.0,653.7 1732.5,655.2 1733.0,656.8 1733.5,661.7 1734.0,655.4 1734.5,656.7 1735.0,655.4 1735.5,657.4 1736.0,655.9 1736.5,657.1 1737.0,655.6 1737.5,659.8 1738.0,657.6 1738.5,651.1 1739.0,655.3 1739.5,654.7 1740.0,649.9 1740.5,652.7 1741.0,653.5 1741.5,652.9 1742.0,654.6 1742.5,650.6 1743.0,655.8 1743.5,655.8 1744.0,654.9 1744.5,653.4 1745.0,654.0 1745.5,652.9 1746.0,656.2 1746.5,654.8 1747.0,657.9 1747.5,653.0 1748.0,656.8 1748.5,652.7 1749.0,653.6 1749.5,652.0 1750.0,655.4 1750.5,654.4 1751.0,656.0 1751.5,657.9 1752.0,654.9 1752.5,655.8 1753.0,657.0 1753.5,655.0 1754.0,653.9 1754.5,655.6 1755.0,655.7 1755.5,656.1 1756.0,656.0 1756.5,652.6 1757.0,654.6 1757.5,656.0 1758.0,652.2 1758.5,653.6 1759.0,651.4 1759.5,652.8 1760.0,655.8 1760.5,652.5 1761.0,650.1 1761.5,652.8 1762.0,652.6 1762.5,654.5 1763.0,649.7 1763.5,650.9 1764.0,652.9 1764.5,650.3 1765.0,656.1 1765.5,650.2 1766.0,653.0 1766.5,652.2 1767.0,654.3 1767.5,657.6 1768.0,657.5 1768.5,658.4 1769.0,658.0 1769.5,652.8 1770.0,657.6 1770.5,653.2 1771.0,655.8 1771.5,655.9 1772.0,655.5 1772.5,657.4 1773.0,654.6 1773.5,659.6 1774.0,657.2 1774.5,658.2 1775.0,657.3 1775.5,657.6 1776.0,655.7 1776.5,659.7 1777.0,653.8 1777.5,656.8 1778.0,656.0 1778.5,655.6 1779.0,656.7 1779.5,654.6"/>
<polyline stroke="#000" stroke-width="5" points="1001.0,786.8 1001.5,789.1 1002.0,787.6 1002.5,788.9 1003.0,792.2 1003.5,789.1 1004.0,791.6 1004.5,788.7 1005.0,785.9 1005.5,790.8 1006.0,786.1 1006.5,789.9 1007.0,789.4 1007.5,786.4 1008.0,786.9 1008.5,788.3 1009.0,789.7 1009.5,792.0 1010.0,789.4 1010.5,793.6 1011.0,791.4 1011.5,788.2 1012.0,788.3 1012.5,789.9 1013.0,788.6 1013.5,789.5 1014.0,791.4 1014.5,790.3 1015.0,791.8 1015.5,788.1 1016.0,787.6 1016.5,786.3 1017.0,785.4 1017.5,788.2 1018.0,789.1 1018.5,788.3 1019.0,788.6 1019.5,792.8 1020.0,785.8 1020.5,787.4 1021.0,786.7 1021.5,785.7 1022.0,790.5 1022.5,787.5 1023.0,790.3 1023.5,785.2 1024.0,791.8 1024.5,792.8 1025.0,786.2 1025.5,788.2 1026.0,788.1 1026.5,789.7 1027.0,785.7 1027.5,789.6 1028.0,790.1 1028.5,787.1 1029.0,783.3 1029.5,786.4 1030.0,786.7 1030.5,788.7 1031.0,785.1 1031.5,783.4 1032.0,786.6 1032.5,785.4 1033.0,785.6 1033.5,783.5 1034.0,785.0 1034.5,783.2 1035.0,777.6 1035.5,781.3 1036.0,781.9 1036.5,779.7 1037.0,782.2 1037.5,777.6 1038.0,779.6 1038.5,775.0 1039.0,777.4 1039.5,775.9 1040.0,774.8 1040.5,774.0 1041.0,777.2 1041.5,777.5 1042.0,775.2 1042.5,773.8 1043.0,774.5 1043.5,778.0 1044.0,773.6 1044.5,778.5 1045.0,772.3 1045.5,776.5 1046.0,777.4 1046.5,778.7 1047.0,775.3 1047.5,774.7 1048.0,773.5 1048.5,778.7 1049.0,776.8 1049.5,776.4 1050.0,776.8 1050.5,778.6 1051.0,778.4 1051.5,781.1 1052.0,774.2 1052.5,780.8 1053.0,777.9 1053.5,779.0 1054.0,778.5 1054.5,779.1 1055.0,780.9 1055.5,779.8 1056.0,776.2 1056.5,779.2 1057.0,779.2 1057.5,780.2 1058.0,779.6 1058.5,779.4 1059.0,781.8 1059.5,777.3 1060.0,784.3 1060.5,778.6 1061.0,777.7 1061.5,781.7 1062.0,782.4 1062.5,782.8 1063.0,783.3 1063.5,781.2 1064.0,780.4 1064.5,781.1 1065.0,780.3 1065.5,779.1 1066.0,783.7 1066.5,784.1 1067.0,780.2 1067.5,779.6 1068.0,779.0 1068.5,776.4 1069.0,778.4 1069.5,778.7 1070.0,779.8 1070.5,777.7 1071.0,775.9 1071.5,781.5 1072.0,784.0 1072.5,776.1 1073.0,780.7 1073.5,783.1 1074.0,779.2 1074.5,779.0 1075.0,782.4 1075.5,781.9 1076.0,781.1 1076.5,785.9 1077.0,785.6 1077.5,783.8 1078.0,782.2 1078.5,781.5 1079.0,784.0 1079.5,781.6 1080.0,785.1 1080.5,784.6 1081.0,780.9 1081.5,783.8 1082.0,785.6 1082.5,784.0 1083.0,780.9 1083.5,782.6 1084.0,782.7 1084.5,783.8 1085.0,783.8 1085.5,783.2 1086.0,785.7 1086.5,786.6 1087.0,782.7 1087.5,780.7 1088.0,784.1 1088.5,783.1 1089.0,783.5 1089.5,781.0 1090.0,782.5 1090.5,779.7 1091.0,782.9 1091.5,783.4 1092.0,777.9 1092.5,774.3 1093.0,777.3 1093.5,776.4 1094.0,776.7 1094.5,775.2 1095.0,774.5 1095.5,776.1 1096.0,768.6 1096.5,765.6 1097.0,762.1 1097.5,752.8 1098.0,746.6 1098.5,732.6 1099.0,715.4 1099.5,694.9 1100.0,671.2 1100.5,645.5 1101.0,622.9 1101.5,609.5 1102.0,610.5 1102.5,626.4 1103.0,649.7 1103.5,676.6 1104.0,697.8 1104.5,720.3 1105.0,735.5 1105.5,747.1 1106.0,755.1 1106.5,760.6 1107.0,764.2 1107.5,766.3 1108.0,774.2 1108.5,774.2 1109.0,775.1 1109.5,775.6 1110.0,772.5 1110.5,776.0 1111.0,777.2 1111.5,779.5 1112.0,775.8 1112.5,778.5 1113.0,777.8 1113.5,778.5 1114.0,777.2 1114.5,779.6 1115.0,779.3 1115.5,775.8 1116.0,781.9 1116.5,784.1 1117.0,778.3 1117.5,782.5 1118.0,778.5 1118.5,779.5 1119.0,784.1 1119.5,781.1 1120.0,783.7 1120.5,781.2 1121.0,782.5 1121.5,780.1 1122.0,783.0 1122.5,783.5 1123.0,781.1 1123.5,778.4 1124.0,778.5 1124.5,777.1 1125.0,779.9 1125.5,779.4 1126.0,776.8 1126.5,779.6 1127.0,776.4 1127.5,780.6 1128.0,778.2 1128.5,779.2 1129.0,774.3 1129.5,773.2 1130.0,771.0 1130.5,775.1 1131.0,771.2 1131.5,775.1 1132.0,772.2 1132.5,772.6 1133.0,768.3 1133.5,768.7 1134.0,769.2 1134.5,769.1 1135.0,764.7 1135.5,766.0 1136.0,762.8 1136.5,763.6 1137.0,760.4 1137.5,758.5 1138.0,757.6 1138.5,756.7 1139.0,753.2 1139.5,753.5 1140.0,749.7 1140.5,750.2 1141.0,747.8 1141.5,748.5 1142.0,746.1 1142.5,745.4 1143.0,743.4 1143.5,738.0 1144.0,732.0 1144.5,726.4 1145.0,718.0 1145.5,706.8 1146.0,693.1 1146.5,679.5 1147.0,663.1 1147.5,647.8 1148.0,632.6 1148.5,622.0 1149.0,616.6 1149.5,616.8 1150.0,624.4 1150.5,637.1 1151.0,652.5 1151.5,669.0 1152.0,685.0 1152.5,699.1 1153.0,713.5 1153.5,724.0 1154.0,734.7 1154.5,740.1 1155.0,750.4 1155.5,756.1 1156.0,758.3 1156.5,759.6 1157.0,762.7 1157.5,766.4 1158.0,767.6 1158.5,766.8 1159.0,771.0 1159.5,771.2 1160.0,771.7 1160.5,771.1 1161.0,772.4 1161.5,771.8 1162.0,774.0 1162.5,772.9 1163.0,776.6 1163.5,775.0 1164.0,775.6 1164.5,776.0 1165.0,776.2 1165.5,773.2 1166.0,778.5 1166.5,776.5 1167.0,775.5 1167.5,774.9 1168.0,775.8 1168.5,776.2 1169.0,777.7 1169.5,776.3 1170.0,778.5 1170.5,778.9 1171.0,777.6 1171.5,783.4 1172.0,779.1 1172.5,780.1 1173.0,779.8 1173.5,779.4 1174.0,781.0 1174.5,782.4 1175.0,779.6 1175.5,778.1 1176.0,780.7 1176.5,775.4 1177.0,779.5 1177.5,778.4 1178.0,778.6 1178.5,774.2 1179.0,774.4 1179.5,771.2 1180.0,769.5 1180.5,768.9 1181.0,767.0 1181.5,767.5 1182.0,772.5 1182.5,773.6 1183.0,772.8 1183.5,776.3 1184.0,780.1 1184.5,781.0 1185.0,780.9 1185.5,780.8 1186.0,778.1 1186.5,778.2 1187.0,774.4 1187.5,772.1 1188.0,768.3 1188.5,764.4 1189.0,761.5 1189.5,760.3 1190.0,761.2 1190.5,767.5 1191.0,769.8 1191.5,776.9 1192.0,779.4 1192.5,778.0 1193.0,783.3 1193.5,780.1 1194.0,786.1 1194.5,784.4 1195.0,782.1 1195.5,780.0 1196.0,783.6 1196.5,781.8 1197.0,786.7 1197.5,782.2 1198.0,784.3 1198.5,785.8 1199.0,785.0 1199.5,785.5 1200.0,784.5 1200.5,786.4 1201.0,783.0 1201.5,785.8 1202.0,782.1 1202.5,784.7 1203.0,781.9 1203.5,783.6 1204.0,785.1 1204.5,786.3 1205.0,780.3 1205.5,782.4 1206.0,782.2 1206.5,786.7 1207.0,782.8 1207.5,786.1 1208.0,783.9 1208.5,782.3 1209.0,785.6 1209.5,783.2 1210.0,787.1 1210.5,787.4 1211.0,788.4 1211.5,783.8 1212.0,789.0 1212.5,787.8 1213.0,782.3 1213.5,790.4 1214.0,789.4 1214.5,784.1 1215.0,787.0 1215.5,783.8 1216.0,786.4 1216.5,787.3 1217.0,788.4 1217.5,785.8 1218.0,787.6 1218.5,786.1 1219.0,788.9 1219.5,789.7 1220.0,788.6 1220.5,791.0 1221.0,790.3 1221.5,789.6 1222.0,791.3 1222.5,786.6 1223.0,789.1 1223.5,785.7 1224.0,789.3 1224.5,788.4 1225.0,791.1 1225.5,788.5 1226.0,788.1 1226.5,789.2 1227.0,789.0 1227.5,790.2 1228.0,787.3 1228.5,785.8 1229.0,785.4 1229.5,790.7 1230.0,785.7 1230.5,787.0 1231.0,785.5 1231.5,789.3 1232.0,786.2 1232.5,789.6 1233.0,785.6 1233.5,787.4 1234.0,788.2 1234.5,788.5 1235.0,784.0 1235.5,785.6 1236.0,786.1 1236.5,782.6 1237.0,787.7 1237.5,787.0 1238.0,787.3 1238.5,783.6 1239.0,786.8 1239.5,787.3 1240.0,788.6 1240.5,785.6 1241.0,788.0 1241.5,790.6 1242.0,785.8 1242.5,785.8 1243.0,786.0 1243.5,783.5 1244.0,785.7 1244.5,789.6 1245.0,784.4 1245.5,785.7 1246.0,788.4 1246.5,786.9 1247.0,786.1 1247.5,784.7 1248.0,785.0 1248.5,785.1 1249.0,786.3 1249.5,784.9 1250.0,786.5 1250.5,780.9 1251.0,786.2 1251.5,783.5 1252.0,784.7 1252.5,783.9 1253.0,786.1 1253.5,784.6 1254.0,786.2 1254.5,783.3 1255.0,785.4 1255.5,787.4 1256.0,787.2 1256.5,784.2 1257.0,785.2 1257.5,784.2 1258.0,784.7 1258.5,785.0 1259.0,787.4 1259.5,786.2 1260.0,788.1 1260.5,788.3 1261.0,782.9 1261.5,786.1 1262.0,784.7 1262.5,782.5 1263.0,783.6 1263.5,784.9 1264.0,789.3 1264.5,786.3 1265.0,785.9 1265.5,786.3 1266.0,785.0 1266.5,787.0 1267.0,786.6 1267.5,783.6 1268.0,785.9 1268.5,793.6 1269.0,788.3 1269.5,786.9 1270.0,788.4 1270.5,785.1 1271.0,787.2 1271.5,788.7 1272.0,783.8 1272.5,785.6 1273.0,786.3 1273.5,786.5 1274.0,786.2 1274.5,787.8 1275.0,789.3 1275.5,788.1 1276.0,789.6 1276.5,789.7 1277.0,786.6 1277.5,788.5 1278.0,787.3 1278.5,789.5 1279.0,787.6 1279.5,788.0 1280.0,791.8 1280.5,788.1 1281.0,785.5 1281.5,788.7 1282.0,789.1 1282.5,787.5 1283.0,788.6 1283.5,790.4 1284.0,787.3 1284.5,787.9 1285.0,786.7 1285.5,788.6 1286.0,787.5 1286.5,785.7 1287.0,786.8 1287.5,790.0 1288.0,782.8 1288.5,782.5 1289.0,784.4 1289.5,779.9 1290.0,783.6 1290.5,776.2 1291.0,774.9 1291.5,775.2 1292.0,778.0 1292.5,779.1 1293.0,780.7 1293.5,782.2 1294.0,785.6 1294.5,781.4 1295.0,786.2 1295.5,789.0 1296.0,784.8 1296.5,787.8 1297.0,789.8 1297.5,790.0 1298.0,787.5 1298.5,791.5 1299.0,789.0 1299.5,790.1 1300.0,786.0 1300.5,786.7 1301.0,786.6 1301.5,791.5 1302.0,783.5 1302.5,784.3 1303.0,789.3 1303.5,787.8 1304.0,781.7 1304.5,786.4 1305.0,786.4 1305.5,789.2 1306.0,783.0 1306.5,785.5 1307.0,788.5 1307.5,787.8 1308.0,784.5 1308.5,785.7 1309.0,783.4 1309.5,788.9 1310.0,785.5 1310.5,788.8 1311.0,788.0 1311.5,784.8 1312.0,786.3 1312.5,787.9 1313.0,787.6 1313.5,789.7 1314.0,788.9 1314.5,787.3 1315.0,788.0 1315.5,785.2 1316.0,785.3 1316.5,787.4 1317.0,786.7 1317.5,783.8 1318.0,785.5 1318.5,783.9 1319.0,784.2 1319.5,787.5 1320.0,783.1 1320.5,783.5 1321.0,785.8 1321.5,784.9 1322.0,785.1 1322.5,782.1 1323.0,784.8 1323.5,784.3 1324.0,783.6 1324.5,784.2 1325.0,784.8 1325.5,786.9 1326.0,788.9 1326.5,785.6 1327.0,788.0 1327.5,785.3 1328.0,782.1 1328.5,784.4 1329.0,785.9 1329.5,785.4 1330.0,780.7 1330.5,785.1 1331.0,779.7 1331.5,779.6 1332.0,780.1 1332.5,784.0 1333.0,783.1 1333.5,784.9 1334.0,780.4 1334.5,784.9 1335.0,785.4 1335.5,787.4 1336.0,785.8 1336.5,789.2 1337.0,786.0 1337.5,784.9 1338.0,784.6 1338.5,790.2 1339.0,789.3 1339.5,786.5 1340.0,790.1 1340.5,787.7 1341.0,787.7 1341.5,785.1 1342.0,786.7 1342.5,787.8 1343.0,787.8 1343.5,786.3 1344.0,789.1 1344.5,789.9 1345.0,785.6 1345.5,787.8 1346.0,784.2 1346.5,787.8 1347.0,785.2 1347.5,786.6 1348.0,787.2 1348.5,786.3 1349.0,788.5 1349.5,785.0 1350.0,785.4 1350.5,786.7 1351.0,785.9 1351.5,786.3 1352.0,785.3 1352.5,784.2 1353.0,786.9 1353.5,785.9 1354.0,787.5 1354.5,788.5 1355.0,785.5 1355.5,785.0 1356.0,785.7 1356.5,785.6 1357.0,783.3 1357.5,790.3 1358.0,788.2 1358.5,791.9 1359.0,786.7 1359.5,789.0 1360.0,788.5 1360.5,788.0 1361.0,790.0 1361.5,788.3 1362.0,788.2 1362.5,788.7 1363.0,784.3 1363.5,787.1 1364.0,787.1 1364.5,791.5 1365.0,789.5 1365.5,789.9 1366.0,789.6 1366.5,788.1 1367.0,791.5 1367.5,788.0 1368.0,785.8 1368.5,789.5 1369.0,790.5 1369.5,788.5 1370.0,788.9 1370.5,789.9 1371.0,790.9 1371.5,789.2 1372.0,791.1 1372.5,788.5 1373.0,791.8 1373.5,785.5 1374.0,789.7 1374.5,788.6 1375.0,788.3 1375.5,785.8 1376.0,790.2 1376.5,788.0 1377.0,786.6 1377.5,787.3 1378.0,788.0 1378.5,788.7 1379.0,786.8 1379.5,786.7 1380.0,789.0 1380.5,788.0 1381.0,791.6 1381.5,787.2 1382.0,789.2 1382.5,790.9 1383.0,787.3 1383.5,789.5 1384.0,788.3 1384.5,788.0 1385.0,790.9 1385.5,786.4 1386.0,787.2 1386.5,785.3 1387.0,788.4 1387.5,790.6 1388.0,788.4 1388.5,790.3 1389.0,787.4 1389.5,790.8 1390.0,788.3 1390.5,787.4 1391.0,791.0 1391.5,787.7 1392.0,788.5 1392.5,787.5 1393.0,788.3 1393.5,787.2 1394.0,784.7 1394.5,787.4 1395.0,787.9 1395.5,787.9 1396.0,787.0 1396.5,790.9 1397.0,786.5 1397.5,788.3 1398.0,788.7 1398.5,786.6 1399.0,786.5 1399.5,790.0 1400.0,790.2 1400.5,789.3 1401.0,786.2 1401.5,788.6 1402.0,789.6 1402.5,790.3 1403.0,791.4 1403.5,790.0 1404.0,790.9 1404.5,792.1 1405.0,784.8 1405.5,790.7 1406.0,787.9 1406.5,789.4 1407.0,788.6 1407.5,786.2 1408.0,786.1 1408.5,788.1 1409.0,786.7 1409.5,787.9 1410.0,785.5 1410.5,789.7 1411.0,785.0 1411.5,788.8 1412.0,783.5 1412.5,785.6 1413.0,786.4 1413.5,781.9 1414.0,782.4 1414.5,784.8 1415.0,786.2 1415.5,786.7 1416.0,785.4 1416.5,786.4 1417.0,782.7 1417.5,784.2 1418.0,787.7 1418.5,784.3 1419.0,785.0 1419.5,782.4 1420.0,785.3 1420.5,782.9 1421.0,786.3 1421.5,788.3 1422.0,786.3 1422.5,786.1 1423.0,785.1 1423.5,786.8 1424.0,783.9 1424.5,785.0 1425.0,789.7 1425.5,783.6 1426.0,785.0 1426.5,783.6 1427.0,788.3 1427.5,785.8 1428.0,784.1 1428.5,784.3 1429.0,788.6 1429.5,788.1 1430.0,788.6 1430.5,787.4 1431.0,789.4 1431.5,790.5 1432.0,789.6 1432.5,785.9 1433.0,785.5 1433.5,786.6 1434.0,789.7 1434.5,786.6 1435.0,787.3 1435.5,789.2 1436.0,787.4 1436.5,786.5 1437.0,790.3 1437.5,789.3 1438.0,789.7 1438.5,789.9 1439.0,790.8 1439.5,788.2 1440.0,788.1 1440.5,785.4 1441.0,788.2 1441.5,787.8 1442.0,790.8 1442.5,790.4 1443.0,791.9 1443.5,791.4 1444.0,791.7 1444.5,790.7 1445.0,790.1 1445.5,789.3 1446.0,790.0 1446.5,788.4 1447.0,790.8 1447.5,790.1 1448.0,786.7 1448.5,785.6 1449.0,789.0 1449.5,789.5 1450.0,789.8 1450.5,792.6 1451.0,789.2 1451.5,788.1 1452.0,791.0 1452.5,792.0 1453.0,793.1 1453.5,788.6 1454.0,789.9 1454.5,789.7 1455.0,793.1 1455.5,791.8 1456.0,790.8 1456.5,792.2 1457.0,790.5 1457.5,791.0 1458.0,791.4 1458.5,790.7 1459.0,791.2 1459.5,792.3 1460.0,792.0 1460.5,794.1 1461.0,792.9 1461.5,791.1 1462.0,787.3 1462.5,788.3 1463.0,789.8 1463.5,789.8 1464.0,787.9 1464.5,789.3 1465.0,790.0 1465.5,788.5 1466.0,789.1 1466.5,789.0 1467.0,787.8 1467.5,787.3 1468.0,788.4 1468.5,789.0 1469.0,786.6 1469.5,784.8 1470.0,786.6 1470.5,789.0 1471.0,785.4 1471.5,789.7 1472.0,787.1 1472.5,788.4 1473.0,786.9 1473.5,789.2 1474.0,788.3 1474.5,788.9 1475.0,785.0 1475.5,789.6 1476.0,785.5 1476.5,787.9 1477.0,789.4 1477.5,788.2 1478.0,789.5 1478.5,789.0 1479.0,789.0 1479.5,787.7 1480.0,790.9 1480.5,791.3 1481.0,788.6 1481.5,788.1 1482.0,790.1 1482.5,788.5 1483.0,790.1 1483.5,791.2 1484.0,790.9 1484.5,792.2 1485.0,790.3 1485.5,787.6 1486.0,787.7 1486.5,789.7 1487.0,791.8 1487.5,787.7 1488.0,786.5 1488.5,790.1 1489.0,787.3 1489.5,788.4 1490.0,788.8 1490.5,785.2 1491.0,786.1 1491.5,785.6 1492.0,787.3 1492.5,787.4 1493.0,785.4 1493.5,787.1 1494.0,783.1 1494.5,786.6 1495.0,786.5 1495.5,785.9 1496.0,783.5 1496.5,785.7 1497.0,784.1 1497.5,788.3 1498.0,785.5 1498.5,785.7 1499.0,786.0 1499.5,787.2 1500.0,786.6 1500.5,787.5 1501.0,785.3 1501.5,788.8 1502.0,786.3 1502.5,788.5 1503.0,787.8 1503.5,789.3 1504.0,787.5 1504.5,785.2 1505.0,785.8 1505.5,787.3 1506.0,789.8 1506.5,786.7 1507.0,787.3 1507.5,789.1 1508.0,785.8 1508.5,787.0 1509.0,786.7 1509.5,785.0 1510.0,786.1 1510.5,787.3 1511.0,787.2 1511.5,784.9 1512.0,790.3 1512.5,786.3 1513.0,785.5 1513.5,785.0 1514.0,784.8 1514.5,788.1 1515.0,782.3 1515.5,787.1 1516.0,785.3 1516.5,787.5 1517.0,788.0 1517.5,786.1 1518.0,786.7 1518.5,790.4 1519.0,787.6 1519.5,788.5 1520.0,788.1 1520.5,790.0 1521.0,790.7 1521.5,790.2 1522.0,789.7 1522.5,789.8 1523.0,787.0 1523.5,791.1 1524.0,788.1 1524.5,787.6 1525.0,788.4 1525.5,787.7 1526.0,789.6 1526.5,790.0 1527.0,790.9 1527.5,788.5 1528.0,787.7 1528.5,788.1 1529.0,786.6 1529.5,787.3 1530.0,791.7 1530.5,787.3 1531.0,787.9 1531.5,789.8 1532.0,789.3 1532.5,790.3 1533.0,787.9 1533.5,787.7 1534.0,791.7 1534.5,788.7 1535.0,789.8 1535.5,790.5 1536.0,787.3 1536.5,790.1 1537.0,789.5 1537.5,791.5 1538.0,790.3 1538.5,787.4 1539.0,792.4 1539.5,787.2 1540.0,790.7 1540.5,790.5 1541.0,790.8 1541.5,791.9 1542.0,793.6 1542.5,790.8 1543.0,791.4 1543.5,793.6 1544.0,793.4 1544.5,793.8 1545.0,793.2 1545.5,792.3 1546.0,791.8 1546.5,791.8 1547.0,793.8 1547.5,794.6 1548.0,795.2 1548.5,790.1 1549.0,791.1 1549.5,791.2 1550.0,790.7 1550.5,788.9 1551.0,793.9 1551.5,792.7 1552.0,789.9 1552.5,789.4 1553.0,790.1 1553.5,788.2 1554.0,789.6 1554.5,791.4 1555.0,792.9 1555.5,791.7 1556.0,792.4 1556.5,788.6 1557.0,785.1 1557.5,792.2 1558.0,790.1 1558.5,789.5 1559.0,792.0 1559.5,787.6 1560.0,787.3 1560.5,787.3 1561.0,790.7 1561.5,789.4 1562.0,784.8 1562.5,790.0 1563.0,787.1 1563.5,787.6 1564.0,785.5 1564.5,789.6 1565.0,787.2 1565.5,788.5 1566.0,784.9 1566.5,787.6 1567.0,786.7 1567.5,786.3 1568.0,785.5 1568.5,785.9 1569.0,785.3 1569.5,786.2 1570.0,787.4 1570.5,788.5 1571.0,785.3 1571.5,786.3 1572.0,787.1 1572.5,785.6 1573.0,787.8 1573.5,788.0 1574.0,788.2 1574.5,789.3 1575.0,790.2 1575.5,790.0 1576.0,789.2 1576.5,789.7 1577.0,787.5 1577.5,787.3 1578.0,789.7 1578.5,789.6 1579.0,792.1 1579.5,788.3 1580.0,787.1 1580.5,789.1 1581.0,787.9 1581.5,787.3 1582.0,790.8 1582.5,791.8 1583.0,789.4 1583.5,787.8 1584.0,789.3 1584.5,788.8 1585.0,786.7 1585.5,790.2 1586.0,789.4 1586.5,790.7 1587.0,787.8 1587.5,788.6 1588.0,788.4 1588.5,785.8 1589.0,792.3 1589.5,785.0 1590.0,786.4 1590.5,787.6 1591.0,785.7 1591.5,788.8 1592.0,787.4 1592.5,788.3 1593.0,788.6 1593.5,788.4 1594.0,788.5 1594.5,788.2 1595.0,789.2 1595.5,789.8 1596.0,788.1 1596.5,787.8 1597.0,787.8 1597.5,788.8 1598.0,787.6 1598.5,787.4 1599.0,785.4 1599.5,790.5 1600.0,785.4 1600.5,789.7 1601.0,788.1 1601.5,788.3 1602.0,787.0 1602.5,787.2 1603.0,786.9 1603.5,787.4 1604.0,787.8 1604.5,789.0 1605.0,785.2 1605.5,787.7 1606.0,789.6 1606.5,789.4 1607.0,785.8 1607.5,788.1 1608.0,788.1 1608.5,788.2 1609.0,784.4 1609.5,789.2 1610.0,785.3 1610.5,791.2 1611.0,788.7 1611.5,787.4 1612.0,788.3 1612.5,787.3 1613.0,786.1 1613.5,786.5 1614.0,787.0 1614.5,785.0 1615.0,787.2 1615.5,787.6 1616.0,787.5 1616.5,787.6 1617.0,787.8 1617.5,787.0 1618.0,788.1 1618.5,786.5 1619.0,787.3 1619.5,789.1 1620.0,790.3 1620.5,787.1 1621.0,785.7 1621.5,791.6 1622.0,790.3 1622.5,791.6 1623.0,790.4 1623.5,789.5 1624.0,788.3 1624.5,787.8 1625.0,791.6 1625.5,790.9 1626.0,789.8 1626.5,787.6 1627.0,788.5 1627.5,788.3 1628.0,788.8 1628.5,784.9 1629.0,789.7 1629.5,791.8 1630.0,788.6 1630.5,789.5 1631.0,790.0 1631.5,788.1 1632.0,790.3 1632.5,788.5 1633.0,789.2 1633.5,790.3 1634.0,789.9 1634.5,790.3 1635.0,788.8 1635.5,791.4 1636.0,788.7 1636.5,791.8 1637.0,789.8 1637.5,788.7 1638.0,790.4 1638.5,788.9 1639.0,789.6 1639.5,790.0 1640.0,791.3 1640.5,791.1 1641.0,790.4 1641.5,789.0 1642.0,786.8 1642.5,788.6 1643.0,788.2 1643.5,788.3 1644.0,787.5 1644.5,787.4 1645.0,789.3 1645.5,786.0 1646.0,788.0 1646.5,789.9 1647.0,786.8 1647.5,786.5 1648.0,787.7 1648.5,787.6 1649.0,788.6 1649.5,790.4 1650.0,788.2 1650.5,789.4 1651.0,787.8 1651.5,788.0 1652.0,789.3 1652.5,787.9 1653.0,790.8 1653.5,788.4 1654.0,788.8 1654.5,787.4 1655.0,788.3 1655.5,787.4 1656.0,788.1 1656.5,786.0 1657.0,788.6 1657.5,791.2 1658.0,785.7 1658.5,791.1 1659.0,788.3 1659.5,789.9 1660.0,787.1 1660.5,791.9 1661.0,787.3 1661.5,789.1 1662.0,791.8 1662.5,787.8 1663.0,786.5 1663.5,790.1 1664.0,789.3 1664.5,789.3 1665.0,789.6 1665.5,788.9 1666.0,793.4 1666.5,793.2 1667.0,789.4 1667.5,791.3 1668.0,790.7 1668.5,793.0 1669.0,790.0 1669.5,793.6 1670.0,791.0 1670.5,789.6 1671.0,790.4 1671.5,789.5 1672.0,793.6 1672.5,790.2 1673.0,789.1 1673.5,789.8 1674.0,791.8 1674.5,788.0 1675.0,786.9 1675.5,791.5 1676.0,790.5 1676.5,788.9 1677.0,789.6 1677.5,791.6 1678.0,785.9 1678.5,792.1 1679.0,790.2 1679.5,791.7 1680.0,790.8 1680.5,795.8 1681.0,790.4 1681.5,793.2 1682.0,787.8 1682.5,792.0 1683.0,793.4 1683.5,790.0 1684.0,789.4 1684.5,792.7 1685.0,794.1 1685.5,794.4 1686.0,791.5 1686.5,792.9 1687.0,790.1 1687.5,794.6 1688.0,790.8 1688.5,793.4 1689.0,790.8 1689.5,790.4 1690.0,793.1 1690.5,789.1 1691.0,792.2 1691.5,789.5 1692.0,788.6 1692.5,788.6 1693.0,791.5 1693.5,789.7 1694.0,789.2 1694.5,787.4 1695.0,791.4 1695.5,791.2 1696.0,790.1 1696.5,790.7 1697.0,784.6 1697.5,788.6 1698.0,789.5 1698.5,789.3 1699.0,788.2 1699.5,789.2 1700.0,787.6 1700.5,787.6 1701.0,786.5 1701.5,788.5 1702.0,787.1 1702.5,787.3 1703.0,790.1 1703.5,788.0 1704.0,788.0 1704.5,785.8 1705.0,787.3 1705.5,789.6 1706.0,788.9 1706.5,788.2 1707.0,787.8 1707.5,788.1 1708.0,788.6 1708.5,787.5 1709.0,784.2 1709.5,790.8 1710.0,789.5 1710.5,787.5 1711.0,789.8 1711.5,785.7 1712.0,789.6 1712.5,787.9 1713.0,788.9 1713.5,787.1 1714.0,787.9 1714.5,788.6 1715.0,789.3 1715.5,788.6 1716.0,788.7 1716.5,787.3 1717.0,790.9 1717.5,788.8 1718.0,788.4 1718.5,788.4 1719.0,787.3 1719.5,788.2 1720.0,787.2 1720.5,789.8 1721.0,789.4 1721.5,789.9 1722.0,787.7 1722.5,788.9 1723.0,788.5 1723.5,790.8 1724.0,787.0 1724.5,786.9 1725.0,790.9 1725.5,789.5 1726.0,786.7 1726.5,791.0 1727.0,791.2 1727.5,790.8 1728.0,786.3 1728.5,789.7 1729.0,788.5 1729.5,789.6 1730.0,787.9 1730.5,793.0 1731.0,789.6 1731.5,791.3 1732.0,792.2 1732.5,792.0 1733.0,791.8 1733.5,790.7 1734.0,791.6 1734.5,790.8 1735.0,787.7 1735.5,792.3 1736.0,789.8 1736.5,789.7 1737.0,789.7 1737.5,788.1 1738.0,788.2 1738.5,787.2 1739.0,790.3 1739.5,791.3 1740.0,789.7 1740.5,787.9 1741.0,791.5 1741.5,789.2 1742.0,787.5 1742.5,787.2 1743.0,790.3 1743.5,792.3 1744.0,789.9 1744.5,789.7 1745.0,790.4 1745.5,789.7 1746.0,790.2 1746.5,791.5 1747.0,790.2 1747.5,792.6 1748.0,789.9 1748.5,792.4 1749.0,791.9 1749.5,790.8 1750.0,791.0 1750.5,790.9 1751.0,793.8 1751.5,790.2 1752.0,793.0 1752.5,792.7 1753.0,790.8 1753.5,793.5 1754.0,787.7 1754.5,791.4 1755.0,791.2 1755.5,790.9 1756.0,792.0 1756.5,790.1 1757.0,790.2 1757.5,792.0 1758.0,790.1 1758.5,788.6 1759.0,790.8 1759.5,789.8 1760.0,789.2 1760.5,790.8 1761.0,789.0 1761.5,788.8 1762.0,790.0 1762.5,790.2 1763.0,790.7 1763.5,789.1 1764.0,793.4 1764.5,792.0 1765.0,791.4 1765.5,791.6 1766.0,787.8 1766.5,792.8 1767.0,790.0 1767.5,792.2 1768.0,789.8 1768.5,792.9 1769.0,790.6 1769.5,791.0 1770.0,793.3 1770.5,792.4 1771.0,788.8 1771.5,789.7 1772.0,790.8 1772.5,790.1 1773.0,791.5 1773.5,789.4 1774.0,787.8 1774.5,789.2 1775.0,790.4 1775.5,791.6 1776.0,792.0 1776.5,792.9 1777.0,791.6 1777.5,791.1 1778.0,792.6 1778.5,791.5 1779.0,791.0 1779.5,791.0"/>
</g>
<circle cx="423.2" cy="583.7" r="1.1" fill="#8a8ab8"/>
<g stroke="#000" stroke-width="4" stroke-linecap="round" fill="none"><line x1="112.0" y1="792.8" x2="112.0" y2="780.5"/><line x1="112.0" y1="177.7" x2="112.0" y2="190.0"/><line x1="331.7" y1="792.8" x2="331.7" y2="780.5"/><line x1="331.7" y1="177.7" x2="331.7" y2="190.0"/><line x1="551.4" y1="792.8" x2="551.4" y2="780.5"/><line x1="551.4" y1="177.7" x2="551.4" y2="190.0"/><line x1="771.1" y1="792.8" x2="771.1" y2="780.5"/><line x1="771.1" y1="177.7" x2="771.1" y2="190.0"/><line x1="221.9" y1="792.8" x2="221.9" y2="785.5"/><line x1="221.9" y1="177.7" x2="221.9" y2="184.5"/><line x1="441.6" y1="792.8" x2="441.6" y2="785.5"/><line x1="441.6" y1="177.7" x2="441.6" y2="184.5"/><line x1="661.3" y1="792.8" x2="661.3" y2="785.5"/><line x1="661.3" y1="177.7" x2="661.3" y2="184.5"/><line x1="881.0" y1="792.8" x2="881.0" y2="785.5"/><line x1="881.0" y1="177.7" x2="881.0" y2="184.5"/><line x1="112.0" y1="351.8" x2="125.5" y2="351.8"/><line x1="112.0" y1="574.2" x2="125.5" y2="574.2"/><line x1="112.0" y1="242.7" x2="119.5" y2="242.7"/><line x1="112.0" y1="462.6" x2="119.5" y2="462.6"/><line x1="112.0" y1="684.3" x2="119.5" y2="684.3"/><line x1="1112.3" y1="800.5" x2="1112.3" y2="788.0"/><line x1="1112.3" y1="173.0" x2="1112.3" y2="185.5"/><line x1="1334.9" y1="800.5" x2="1334.9" y2="788.0"/><line x1="1334.9" y1="173.0" x2="1334.9" y2="185.5"/><line x1="1557.5" y1="800.5" x2="1557.5" y2="788.0"/><line x1="1557.5" y1="173.0" x2="1557.5" y2="185.5"/><line x1="1223.6" y1="800.5" x2="1223.6" y2="793.0"/><line x1="1223.6" y1="173.0" x2="1223.6" y2="180.5"/><line x1="1446.2" y1="800.5" x2="1446.2" y2="793.0"/><line x1="1446.2" y1="173.0" x2="1446.2" y2="180.5"/><line x1="1668.8" y1="800.5" x2="1668.8" y2="793.0"/><line x1="1668.8" y1="173.0" x2="1668.8" y2="180.5"/><line x1="1000.4" y1="256.5" x2="1013.8" y2="256.5"/><line x1="1000.4" y1="214.8" x2="1008.0" y2="214.8"/><line x1="1000.4" y1="339.9" x2="1013.8" y2="339.9"/><line x1="1000.4" y1="298.2" x2="1008.0" y2="298.2"/><line x1="1000.4" y1="423.4" x2="1013.8" y2="423.4"/><line x1="1000.4" y1="381.7" x2="1008.0" y2="381.7"/><line x1="1000.4" y1="506.9" x2="1013.8" y2="506.9"/><line x1="1000.4" y1="465.2" x2="1008.0" y2="465.2"/><line x1="1000.4" y1="590.3" x2="1013.8" y2="590.3"/><line x1="1000.4" y1="548.6" x2="1008.0" y2="548.6"/><line x1="1000.4" y1="673.8" x2="1013.8" y2="673.8"/><line x1="1000.4" y1="632.0" x2="1008.0" y2="632.0"/><line x1="1000.4" y1="757.2" x2="1013.8" y2="757.2"/><line x1="1000.4" y1="715.5" x2="1008.0" y2="715.5"/></g>
<rect x="112" y="177.7" width="780" height="615.1" fill="none" stroke="#000" stroke-width="4.6" stroke-linejoin="round"/>
<rect x="1000.4" y="173" width="779.9" height="627.5" fill="none" stroke="#000" stroke-width="4.9" stroke-linejoin="round"/>
<line x1="890.6" y1="395.5" x2="890.6" y2="509" stroke="#ff00ff" stroke-width="5"/>
<line x1="890.6" y1="520.5" x2="890.6" y2="578" stroke="#0000ff" stroke-width="5"/>
<g font-family="'Liberation Serif', 'Times New Roman', serif" font-weight="bold" style="font-kerning:none">
<text transform="translate(387.47,117.50) scale(1.0873,1)" font-size="101" fill="#000">(a)</text>
<text transform="translate(1315.70,113.50) scale(1.0824,1)" font-size="101" fill="#000">(b)</text>
<text transform="translate(181.83,213.10) scale(1.0460,1)" font-size="32" fill="#000">PEO</text>
<text transform="translate(195.84,280.00) scale(1.0600,1)" font-size="32" fill="#000">G</text>
<text transform="translate(180.45,372.60) scale(1.0579,1)" font-size="32" fill="#000">CuO</text>
<text transform="translate(149.24,481.50) scale(1.0178,1)" font-size="32" fill="#000">PEO/CuO/G</text>
<text transform="translate(1577.04,222.00) scale(1.0193,1)" font-size="32" fill="#000">PEO</text>
<text transform="translate(1575.95,262.40) scale(1.0555,1)" font-size="32" fill="#ff0000">G</text>
<text transform="translate(1575.98,302.80) scale(1.0356,1)" font-size="32" fill="#0000ff">CuO</text>
<text transform="translate(1577.04,344.00) scale(1.0160,1)" font-size="32" fill="#800080">PEO/CuO/G</text>
<text transform="translate(76.13,830.20) scale(1.0487,1)" font-size="32.5" fill="#000">4000</text>
<text transform="translate(296.80,828.40) scale(1.0617,1)" font-size="32.5" fill="#000">3000</text>
<text transform="translate(513.44,828.40) scale(1.0674,1)" font-size="32.5" fill="#000">2000</text>
<text transform="translate(739.24,829.40) scale(1.0612,1)" font-size="32.5" fill="#000">1000</text>
<text transform="translate(1096.61,832.50) scale(1.1015,1)" font-size="30" fill="#000">20</text>
<text transform="translate(1319.07,831.50) scale(1.0476,1)" font-size="30" fill="#000">40</text>
<text transform="translate(1540.10,830.50) scale(1.0707,1)" font-size="30" fill="#000">60</text>
<text transform="translate(1765.33,831.50) scale(1.0768,1)" font-size="30" fill="#000">80</text>
<text transform="translate(140.25,728.30) scale(0.9800,1)" font-size="46.5" fill="#000">Wavelength (nm)</text>
<text transform="translate(319.75,891.10) scale(0.9736,1)" font-size="47" fill="#000">Wavenumber (cm</text>
<text transform="translate(672.09,869.50) scale(0.9565,1)" font-size="30" fill="#000">−1</text>
<text transform="translate(701.87,891.10) scale(1.1432,1)" font-size="47" fill="#000">)</text>
<text transform="translate(1290.01,889.10) scale(0.9960,1)" font-size="47.5" fill="#000">2Theta (</text>
<text transform="translate(1460.14,870.90) scale(1.1876,1)" font-size="30" fill="#000">o</text>
<text transform="translate(1476.17,889.10) scale(1.1312,1)" font-size="47.5" fill="#000">)</text>
<text transform="translate(68.40,691.59) rotate(-90) scale(0.9319,1)" font-size="47.5" fill="#000">Transmittance (a. u.)</text>
<text transform="translate(966.80,618.68) rotate(-90) scale(0.9789,1)" font-size="48" fill="#000">Intensity (a. u.)</text>
<text transform="translate(655.00,704.24) rotate(-90) scale(0.9802,1)" font-size="30" fill="#000">C-C of G</text>
<text transform="translate(883.50,781.64) rotate(-90) scale(0.9846,1)" font-size="30" fill="#000">O-Cu-O</text>
</g></svg>
</body></html>
